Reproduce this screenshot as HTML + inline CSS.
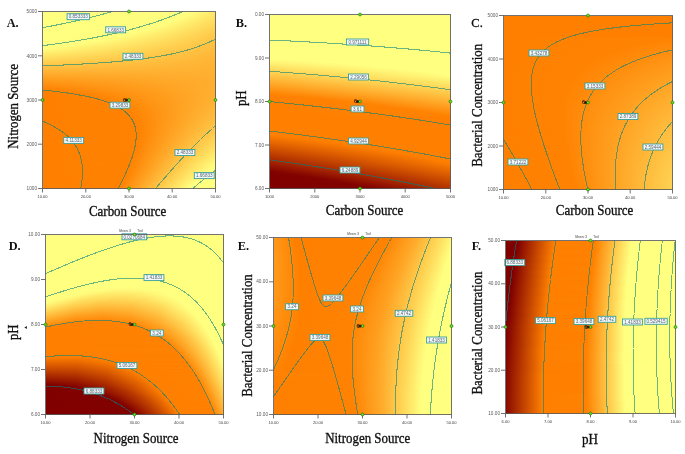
<!DOCTYPE html><html><head><meta charset="utf-8"><style>html,body{margin:0;padding:0;background:#fff;}body{width:685px;height:454px;position:relative;overflow:hidden;}.f{position:absolute;left:0;top:0;width:685px;height:454px;}.r{position:absolute;height:1px;}</style></head><body>
<div class="f"><div class="r" style="left:43px;top:12px;width:173px;background:linear-gradient(90deg,#ffff80 0.5px,#fffd7e 149.5px,#ffe868 172.5px)"></div><div class="r" style="left:43px;top:13px;width:173px;background:linear-gradient(90deg,#ffff80 0.5px,#fffd7e 147.5px,#ffe667 172.5px)"></div><div class="r" style="left:43px;top:14px;width:173px;background:linear-gradient(90deg,#ffff80 0.5px,#fffd7e 145.5px,#ffe465 172.5px)"></div><div class="r" style="left:43px;top:15px;width:173px;background:linear-gradient(90deg,#ffff80 0.5px,#fffd7e 143.5px,#ffe364 172.5px)"></div><div class="r" style="left:43px;top:16px;width:173px;background:linear-gradient(90deg,#ffff80 0.5px,#fffd7e 140.5px,#ffe162 172.5px)"></div><div class="r" style="left:43px;top:17px;width:173px;background:linear-gradient(90deg,#ffff80 0.5px,#fffd7e 138.5px,#ffe060 172.5px)"></div><div class="r" style="left:43px;top:18px;width:173px;background:linear-gradient(90deg,#ffff80 0.5px,#fffd7e 136.5px,#ffde5f 172.5px)"></div><div class="r" style="left:43px;top:19px;width:173px;background:linear-gradient(90deg,#ffff80 0.5px,#fffd7e 133.5px,#ffdd5d 172.5px)"></div><div class="r" style="left:43px;top:20px;width:173px;background:linear-gradient(90deg,#ffff80 0.5px,#fffd7d 131.5px,#ffdb5c 172.5px)"></div><div class="r" style="left:43px;top:21px;width:173px;background:linear-gradient(90deg,#ffff80 0.5px,#fffd7e 128.5px,#ffda5b 172.5px)"></div><div class="r" style="left:43px;top:22px;width:173px;background:linear-gradient(90deg,#ffff80 0.5px,#fffd7e 125.5px,#ffd859 172.5px)"></div><div class="r" style="left:43px;top:23px;width:173px;background:linear-gradient(90deg,#ffff80 0.5px,#fffc7d 123.5px,#ffd758 172.5px)"></div><div class="r" style="left:43px;top:24px;width:173px;background:linear-gradient(90deg,#ffff80 0.5px,#fffd7e 120.5px,#ffd656 172.5px)"></div><div class="r" style="left:43px;top:25px;width:173px;background:linear-gradient(90deg,#ffff80 0.5px,#fffd7e 117.5px,#ffd455 172.5px)"></div><div class="r" style="left:43px;top:26px;width:173px;background:linear-gradient(90deg,#ffff80 0.5px,#fffd7e 114.5px,#ffd354 172.5px)"></div><div class="r" style="left:43px;top:27px;width:173px;background:linear-gradient(90deg,#ffff80 0.5px,#fffd7e 111.5px,#ffd252 172.5px)"></div><div class="r" style="left:43px;top:28px;width:173px;background:linear-gradient(90deg,#ffff80 0.5px,#fffd7e 107.5px,#ffd051 172.5px)"></div><div class="r" style="left:43px;top:29px;width:173px;background:linear-gradient(90deg,#ffff80 0.5px,#fffd7e 104.5px,#ffcf50 172.5px)"></div><div class="r" style="left:43px;top:30px;width:173px;background:linear-gradient(90deg,#ffff80 0.5px,#fffd7d 101.5px,#ffce4e 172.5px)"></div><div class="r" style="left:43px;top:31px;width:173px;background:linear-gradient(90deg,#ffff80 0.5px,#fffd7e 97.5px,#ffcd4d 172.5px)"></div><div class="r" style="left:43px;top:32px;width:173px;background:linear-gradient(90deg,#ffff80 0.5px,#fffd7e 93.5px,#ffcb4c 172.5px)"></div><div class="r" style="left:43px;top:33px;width:173px;background:linear-gradient(90deg,#ffff80 0.5px,#fffc7d 90.5px,#ffca4b 172.5px)"></div><div class="r" style="left:43px;top:34px;width:173px;background:linear-gradient(90deg,#ffff80 0.5px,#fffd7e 85.5px,#ffc94a 172.5px)"></div><div class="r" style="left:43px;top:35px;width:173px;background:linear-gradient(90deg,#ffff80 0.5px,#fffd7e 81.5px,#ffc849 172.5px)"></div><div class="r" style="left:43px;top:36px;width:173px;background:linear-gradient(90deg,#ffff80 0.5px,#fffd7e 77.5px,#ffc748 172.5px)"></div><div class="r" style="left:43px;top:37px;width:173px;background:linear-gradient(90deg,#ffff80 0.5px,#fffd7e 72.5px,#ffc646 172.5px)"></div><div class="r" style="left:43px;top:38px;width:173px;background:linear-gradient(90deg,#ffff80 0.5px,#fffc7d 68.5px,#ffc545 172.5px)"></div><div class="r" style="left:43px;top:39px;width:173px;background:linear-gradient(90deg,#ffff80 0.5px,#fffc7d 63.5px,#ffc444 172.5px)"></div><div class="r" style="left:43px;top:40px;width:173px;background:linear-gradient(90deg,#ffff80 0.5px,#fffd7e 57.5px,#ffc343 172.5px)"></div><div class="r" style="left:43px;top:41px;width:173px;background:linear-gradient(90deg,#ffff80 0.5px,#fffc7d 52.5px,#ffc242 172.5px)"></div><div class="r" style="left:43px;top:42px;width:173px;background:linear-gradient(90deg,#ffff80 0.5px,#fffd7d 46.5px,#ffc141 172.5px)"></div><div class="r" style="left:43px;top:43px;width:173px;background:linear-gradient(90deg,#ffff80 0.5px,#fffc7d 40.5px,#ffc040 172.5px)"></div><div class="r" style="left:43px;top:44px;width:173px;background:linear-gradient(90deg,#ffff80 0.5px,#fffc7d 34.5px,#ffbf40 172.5px)"></div><div class="r" style="left:43px;top:45px;width:173px;background:linear-gradient(90deg,#ffff80 0.5px,#fffc7d 28.5px,#ffbe3f 172.5px)"></div><div class="r" style="left:43px;top:46px;width:173px;background:linear-gradient(90deg,#ffff80 0.5px,#fffb7c 23.5px,#ffbd3e 172.5px)"></div><div class="r" style="left:43px;top:47px;width:173px;background:linear-gradient(90deg,#ffff80 0.5px,#ffbd3d 172.5px)"></div><div class="r" style="left:43px;top:48px;width:173px;background:linear-gradient(90deg,#fffe7f 0.5px,#ffbc3c 172.5px)"></div><div class="r" style="left:43px;top:49px;width:173px;background:linear-gradient(90deg,#fffa7b 0.5px,#ffbb3b 172.5px)"></div><div class="r" style="left:43px;top:50px;width:173px;background:linear-gradient(90deg,#fff778 0.5px,#ffba3b 172.5px)"></div><div class="r" style="left:43px;top:51px;width:173px;background:linear-gradient(90deg,#fff374 0.5px,#ffb93a 172.5px)"></div><div class="r" style="left:43px;top:52px;width:173px;background:linear-gradient(90deg,#fff071 0.5px,#ffb939 172.5px)"></div><div class="r" style="left:43px;top:53px;width:173px;background:linear-gradient(90deg,#ffec6d 0.5px,#ffb838 172.5px)"></div><div class="r" style="left:43px;top:54px;width:173px;background:linear-gradient(90deg,#ffe96a 0.5px,#ffb738 172.5px)"></div><div class="r" style="left:43px;top:55px;width:173px;background:linear-gradient(90deg,#ffe666 0.5px,#ffb737 172.5px)"></div><div class="r" style="left:43px;top:56px;width:173px;background:linear-gradient(90deg,#ffe263 0.5px,#ffb636 172.5px)"></div><div class="r" style="left:43px;top:57px;width:173px;background:linear-gradient(90deg,#ffdf60 0.5px,#ffb536 172.5px)"></div><div class="r" style="left:43px;top:58px;width:173px;background:linear-gradient(90deg,#ffdc5c 0.5px,#ffb535 172.5px)"></div><div class="r" style="left:43px;top:59px;width:173px;background:linear-gradient(90deg,#ffd859 0.5px,#ffb435 172.5px)"></div><div class="r" style="left:43px;top:60px;width:173px;background:linear-gradient(90deg,#ffd556 0.5px,#ffb434 172.5px)"></div><div class="r" style="left:43px;top:61px;width:173px;background:linear-gradient(90deg,#ffd253 0.5px,#ffb334 172.5px)"></div><div class="r" style="left:43px;top:62px;width:173px;background:linear-gradient(90deg,#ffcf4f 0.5px,#ffb333 172.5px)"></div><div class="r" style="left:43px;top:63px;width:173px;background:linear-gradient(90deg,#ffcc4c 0.5px,#ffb233 172.5px)"></div><div class="r" style="left:43px;top:64px;width:173px;background:linear-gradient(90deg,#ffc849 0.5px,#ffb232 172.5px)"></div><div class="r" style="left:43px;top:65px;width:173px;background:linear-gradient(90deg,#ffc546 0.5px,#ffb232 172.5px)"></div><div class="r" style="left:43px;top:66px;width:173px;background:linear-gradient(90deg,#ffc243 0.5px,#ffb132 172.5px)"></div><div class="r" style="left:43px;top:67px;width:173px;background:linear-gradient(90deg,#ffbf40 0.5px,#ffb131 172.5px)"></div><div class="r" style="left:43px;top:68px;width:173px;background:linear-gradient(90deg,#ffbc3d 0.5px,#ffb031 172.5px)"></div><div class="r" style="left:43px;top:69px;width:173px;background:linear-gradient(90deg,#ffb93a 0.5px,#ffb030 172.5px)"></div><div class="r" style="left:43px;top:70px;width:173px;background:linear-gradient(90deg,#ffb637 0.5px,#ffb030 172.5px)"></div><div class="r" style="left:43px;top:71px;width:173px;background:linear-gradient(90deg,#ffb334 0.5px,#ffb030 172.5px)"></div><div class="r" style="left:43px;top:72px;width:173px;background:#ffb031"></div><div class="r" style="left:43px;top:73px;width:173px;background:linear-gradient(90deg,#ffad2e 0.5px,#ffaf2f 172.5px)"></div><div class="r" style="left:43px;top:74px;width:173px;background:linear-gradient(90deg,#ffaa2b 0.5px,#ffaf2f 172.5px)"></div><div class="r" style="left:43px;top:75px;width:173px;background:linear-gradient(90deg,#ffa728 0.5px,#ffaf2f 172.5px)"></div><div class="r" style="left:43px;top:76px;width:173px;background:linear-gradient(90deg,#ffa525 0.5px,#ffaf2f 172.5px)"></div><div class="r" style="left:43px;top:77px;width:173px;background:linear-gradient(90deg,#ffa222 0.5px,#ffae2f 172.5px)"></div><div class="r" style="left:43px;top:78px;width:173px;background:linear-gradient(90deg,#ff9f1f 0.5px,#ffae2f 172.5px)"></div><div class="r" style="left:43px;top:79px;width:173px;background:linear-gradient(90deg,#ff9c1c 0.5px,#ffae2f 172.5px)"></div><div class="r" style="left:43px;top:80px;width:173px;background:linear-gradient(90deg,#ff991a 0.5px,#ffae2f 172.5px)"></div><div class="r" style="left:43px;top:81px;width:173px;background:linear-gradient(90deg,#ff9717 0.5px,#ffae2f 172.5px)"></div><div class="r" style="left:43px;top:82px;width:173px;background:linear-gradient(90deg,#ff9414 0.5px,#ffae2e 172.5px)"></div><div class="r" style="left:43px;top:83px;width:173px;background:linear-gradient(90deg,#ff9111 0.5px,#ffae2f 172.5px)"></div><div class="r" style="left:43px;top:84px;width:173px;background:linear-gradient(90deg,#ff8f0f 0.5px,#ffae2f 172.5px)"></div><div class="r" style="left:43px;top:85px;width:173px;background:linear-gradient(90deg,#ff8c0c 0.5px,#ffae2f 172.5px)"></div><div class="r" style="left:43px;top:86px;width:173px;background:linear-gradient(90deg,#ff8909 0.5px,#ffae2f 172.5px)"></div><div class="r" style="left:43px;top:87px;width:173px;background:linear-gradient(90deg,#ff8707 0.5px,#ffae2f 172.5px)"></div><div class="r" style="left:43px;top:88px;width:173px;background:linear-gradient(90deg,#ff8404 0.5px,#ffaf2f 172.5px)"></div><div class="r" style="left:43px;top:89px;width:173px;background:linear-gradient(90deg,#ff8202 0.5px,#ffaf2f 172.5px)"></div><div class="r" style="left:43px;top:90px;width:173px;background:linear-gradient(90deg,#ff8000 0.5px,#ffaf2f 172.5px)"></div><div class="r" style="left:43px;top:91px;width:173px;background:linear-gradient(90deg,#ff8000 0.5px,#ff8909 44.5px,#ffaf2f 172.5px)"></div><div class="r" style="left:43px;top:92px;width:173px;background:linear-gradient(90deg,#ff8000 0.5px,#ff8404 34.5px,#ffaf30 172.5px)"></div><div class="r" style="left:43px;top:93px;width:173px;background:linear-gradient(90deg,#ff8000 0.5px,#ff8304 38.5px,#ffb030 172.5px)"></div><div class="r" style="left:43px;top:94px;width:173px;background:linear-gradient(90deg,#ff8000 0.5px,#ff8303 42.5px,#ffb030 172.5px)"></div><div class="r" style="left:43px;top:95px;width:173px;background:linear-gradient(90deg,#ff8000 0.5px,#ff8303 47.5px,#ffb030 172.5px)"></div><div class="r" style="left:43px;top:96px;width:173px;background:linear-gradient(90deg,#ff8000 0.5px,#ff8303 51.5px,#ffb031 172.5px)"></div><div class="r" style="left:43px;top:97px;width:173px;background:linear-gradient(90deg,#ff8000 0.5px,#ff8303 55.5px,#ffb131 172.5px)"></div><div class="r" style="left:43px;top:98px;width:173px;background:linear-gradient(90deg,#ff8000 0.5px,#ff8303 59.5px,#ffb132 172.5px)"></div><div class="r" style="left:43px;top:99px;width:173px;background:linear-gradient(90deg,#ff8000 0.5px,#ff8303 62.5px,#ffb232 172.5px)"></div><div class="r" style="left:43px;top:100px;width:173px;background:linear-gradient(90deg,#ff8000 0.5px,#ff8303 65.5px,#ffb232 172.5px)"></div><div class="r" style="left:43px;top:101px;width:173px;background:linear-gradient(90deg,#ff8000 0.5px,#ff8202 67.5px,#ffb233 172.5px)"></div><div class="r" style="left:43px;top:102px;width:173px;background:linear-gradient(90deg,#ff8000 0.5px,#ff8303 70.5px,#ffb333 172.5px)"></div><div class="r" style="left:43px;top:103px;width:173px;background:linear-gradient(90deg,#ff8000 0.5px,#ff8202 72.5px,#ffb334 172.5px)"></div><div class="r" style="left:43px;top:104px;width:173px;background:linear-gradient(90deg,#ff8000 0.5px,#ff8202 74.5px,#ffb434 172.5px)"></div><div class="r" style="left:43px;top:105px;width:173px;background:linear-gradient(90deg,#ff8000 0.5px,#ff8202 76.5px,#ffb435 172.5px)"></div><div class="r" style="left:43px;top:106px;width:173px;background:linear-gradient(90deg,#ff8000 0.5px,#ff8202 78.5px,#ffb535 172.5px)"></div><div class="r" style="left:43px;top:107px;width:173px;background:linear-gradient(90deg,#ff8000 0.5px,#ff8303 80.5px,#ffb536 172.5px)"></div><div class="r" style="left:43px;top:108px;width:173px;background:linear-gradient(90deg,#ff8000 0.5px,#ff8202 81.5px,#ffb636 172.5px)"></div><div class="r" style="left:43px;top:109px;width:173px;background:linear-gradient(90deg,#ff8000 0.5px,#ff8303 83.5px,#ffb737 172.5px)"></div><div class="r" style="left:43px;top:110px;width:173px;background:linear-gradient(90deg,#ff8000 0.5px,#ff8202 84.5px,#ffb738 172.5px)"></div><div class="r" style="left:43px;top:111px;width:173px;background:linear-gradient(90deg,#ff8000 0.5px,#ff8202 85.5px,#ffb838 172.5px)"></div><div class="r" style="left:43px;top:112px;width:173px;background:linear-gradient(90deg,#ff8000 0.5px,#ff8202 86.5px,#ffb939 172.5px)"></div><div class="r" style="left:43px;top:113px;width:173px;background:linear-gradient(90deg,#ff8000 0.5px,#ff8202 87.5px,#ffb93a 172.5px)"></div><div class="r" style="left:43px;top:114px;width:173px;background:linear-gradient(90deg,#ff8000 0.5px,#ff8202 88.5px,#ffba3b 172.5px)"></div><div class="r" style="left:43px;top:115px;width:173px;background:linear-gradient(90deg,#ff8000 0.5px,#ff8202 89.5px,#ffbb3b 172.5px)"></div><div class="r" style="left:43px;top:116px;width:173px;background:linear-gradient(90deg,#ff8000 0.5px,#ff8202 89.5px,#ffbc3c 172.5px)"></div><div class="r" style="left:43px;top:117px;width:173px;background:linear-gradient(90deg,#ff8000 0.5px,#ff8202 90.5px,#ffbc3d 172.5px)"></div><div class="r" style="left:43px;top:118px;width:173px;background:linear-gradient(90deg,#ff8000 0.5px,#ff8202 91.5px,#ffbd3e 172.5px)"></div><div class="r" style="left:43px;top:119px;width:173px;background:linear-gradient(90deg,#ff8000 0.5px,#ff8202 91.5px,#ffbe3f 172.5px)"></div><div class="r" style="left:43px;top:120px;width:173px;background:linear-gradient(90deg,#ff8000 0.5px,#ff8202 92.5px,#ffbf40 172.5px)"></div><div class="r" style="left:43px;top:121px;width:173px;background:linear-gradient(90deg,#ff8000 0.5px,#ff8202 92.5px,#ffc040 172.5px)"></div><div class="r" style="left:43px;top:122px;width:173px;background:linear-gradient(90deg,#ff8000 0.5px,#ff8202 93.5px,#ffc141 172.5px)"></div><div class="r" style="left:43px;top:123px;width:173px;background:linear-gradient(90deg,#ff8000 0.5px,#ff8202 93.5px,#ffc242 172.5px)"></div><div class="r" style="left:43px;top:124px;width:173px;background:linear-gradient(90deg,#ff8000 0.5px,#ff8202 93.5px,#ffc343 172.5px)"></div><div class="r" style="left:43px;top:125px;width:173px;background:linear-gradient(90deg,#ff8000 0.5px,#ff8202 94.5px,#ffc444 172.5px)"></div><div class="r" style="left:43px;top:126px;width:173px;background:linear-gradient(90deg,#ff8000 0.5px,#ff8202 94.5px,#ffc545 172.5px)"></div><div class="r" style="left:43px;top:127px;width:173px;background:linear-gradient(90deg,#ff8000 0.5px,#ff8202 94.5px,#ffc646 172.5px)"></div><div class="r" style="left:43px;top:128px;width:173px;background:linear-gradient(90deg,#ff8000 0.5px,#ff8202 94.5px,#ffc748 172.5px)"></div><div class="r" style="left:43px;top:129px;width:173px;background:linear-gradient(90deg,#ff8000 0.5px,#ff8202 94.5px,#ffc849 172.5px)"></div><div class="r" style="left:43px;top:130px;width:173px;background:linear-gradient(90deg,#ff8000 0.5px,#ff8202 94.5px,#ffc94a 172.5px)"></div><div class="r" style="left:43px;top:131px;width:173px;background:linear-gradient(90deg,#ff8000 0.5px,#ff8303 95.5px,#ffca4b 172.5px)"></div><div class="r" style="left:43px;top:132px;width:173px;background:linear-gradient(90deg,#ff8000 0.5px,#ff8202 95.5px,#ffcb4c 172.5px)"></div><div class="r" style="left:43px;top:133px;width:173px;background:linear-gradient(90deg,#ff8000 0.5px,#ff8202 95.5px,#ffcd4d 172.5px)"></div><div class="r" style="left:43px;top:134px;width:173px;background:linear-gradient(90deg,#ff8000 0.5px,#ff8202 95.5px,#ffce4e 172.5px)"></div><div class="r" style="left:43px;top:135px;width:173px;background:linear-gradient(90deg,#ff8000 0.5px,#ff8202 95.5px,#ffcf50 172.5px)"></div><div class="r" style="left:43px;top:136px;width:173px;background:linear-gradient(90deg,#ff8000 0.5px,#ff8203 95.5px,#ffd051 172.5px)"></div><div class="r" style="left:43px;top:137px;width:173px;background:linear-gradient(90deg,#ff8000 0.5px,#ff8202 94.5px,#ffd252 172.5px)"></div><div class="r" style="left:43px;top:138px;width:173px;background:linear-gradient(90deg,#ff8000 0.5px,#ff8202 94.5px,#ffd354 172.5px)"></div><div class="r" style="left:43px;top:139px;width:173px;background:linear-gradient(90deg,#ff8000 0.5px,#ff8202 94.5px,#ffd455 172.5px)"></div><div class="r" style="left:43px;top:140px;width:173px;background:linear-gradient(90deg,#ff8000 0.5px,#ff8202 94.5px,#ffd656 172.5px)"></div><div class="r" style="left:43px;top:141px;width:173px;background:linear-gradient(90deg,#ff8000 0.5px,#ff8202 94.5px,#ffd758 172.5px)"></div><div class="r" style="left:43px;top:142px;width:173px;background:linear-gradient(90deg,#ff8000 0.5px,#ff8202 94.5px,#ffd859 172.5px)"></div><div class="r" style="left:43px;top:143px;width:173px;background:linear-gradient(90deg,#ff8000 0.5px,#ff8202 94.5px,#ffda5a 172.5px)"></div><div class="r" style="left:43px;top:144px;width:173px;background:linear-gradient(90deg,#ff8000 0.5px,#ff8303 94.5px,#ffdb5c 172.5px)"></div><div class="r" style="left:43px;top:145px;width:173px;background:linear-gradient(90deg,#ff8000 0.5px,#ff8202 93.5px,#ffdd5d 172.5px)"></div><div class="r" style="left:43px;top:146px;width:173px;background:linear-gradient(90deg,#ff8000 0.5px,#ff8202 93.5px,#ffde5f 172.5px)"></div><div class="r" style="left:43px;top:147px;width:173px;background:linear-gradient(90deg,#ff8000 0.5px,#ff8202 93.5px,#ffe060 172.5px)"></div><div class="r" style="left:43px;top:148px;width:173px;background:linear-gradient(90deg,#ff8000 0.5px,#ff8202 93.5px,#ffe162 172.5px)"></div><div class="r" style="left:43px;top:149px;width:173px;background:linear-gradient(90deg,#ff8000 0.5px,#ff8202 92.5px,#ffe364 172.5px)"></div><div class="r" style="left:43px;top:150px;width:173px;background:linear-gradient(90deg,#ff8000 0.5px,#ff8202 92.5px,#ffe465 172.5px)"></div><div class="r" style="left:43px;top:151px;width:173px;background:linear-gradient(90deg,#ff8000 0.5px,#ff8202 92.5px,#ffe667 172.5px)"></div><div class="r" style="left:43px;top:152px;width:173px;background:linear-gradient(90deg,#ff8000 0.5px,#ff8101 91.5px,#ffe868 172.5px)"></div><div class="r" style="left:43px;top:153px;width:173px;background:linear-gradient(90deg,#ff8000 0.5px,#ff8202 91.5px,#ffe96a 172.5px)"></div><div class="r" style="left:43px;top:154px;width:173px;background:linear-gradient(90deg,#ff8000 0.5px,#ff8202 91.5px,#ffeb6c 172.5px)"></div><div class="r" style="left:43px;top:155px;width:173px;background:linear-gradient(90deg,#ff8000 0.5px,#ff8101 90.5px,#ffed6d 172.5px)"></div><div class="r" style="left:43px;top:156px;width:173px;background:linear-gradient(90deg,#ff8000 0.5px,#ff8202 90.5px,#ffee6f 172.5px)"></div><div class="r" style="left:43px;top:157px;width:173px;background:linear-gradient(90deg,#ff8000 0.5px,#ff8202 90.5px,#fff071 172.5px)"></div><div class="r" style="left:43px;top:158px;width:173px;background:linear-gradient(90deg,#ff8000 0.5px,#ff8101 89.5px,#fff273 172.5px)"></div><div class="r" style="left:43px;top:159px;width:173px;background:linear-gradient(90deg,#ff8000 0.5px,#ff8202 89.5px,#fff475 172.5px)"></div><div class="r" style="left:43px;top:160px;width:173px;background:linear-gradient(90deg,#ff8000 0.5px,#ff8202 89.5px,#fff576 172.5px)"></div><div class="r" style="left:43px;top:161px;width:173px;background:linear-gradient(90deg,#ff8000 0.5px,#ff8101 88.5px,#fff778 172.5px)"></div><div class="r" style="left:43px;top:162px;width:173px;background:linear-gradient(90deg,#ff8000 0.5px,#ff8202 88.5px,#fff97a 172.5px)"></div><div class="r" style="left:43px;top:163px;width:173px;background:linear-gradient(90deg,#ff8000 0.5px,#ff8303 88.5px,#fffb7c 172.5px)"></div><div class="r" style="left:43px;top:164px;width:173px;background:linear-gradient(90deg,#ff8000 0.5px,#ff8202 87.5px,#fffd7e 172.5px)"></div><div class="r" style="left:43px;top:165px;width:173px;background:linear-gradient(90deg,#ff8000 0.5px,#ff8202 87.5px,#ffff80 172.5px)"></div><div class="r" style="left:43px;top:166px;width:173px;background:linear-gradient(90deg,#ff8000 0.5px,#ff8101 86.5px,#ffff80 172.5px)"></div><div class="r" style="left:43px;top:167px;width:173px;background:linear-gradient(90deg,#ff8000 0.5px,#ff8202 86.5px,#ffff80 171.5px,#ffff80 172.5px)"></div><div class="r" style="left:43px;top:168px;width:173px;background:linear-gradient(90deg,#ff8000 0.5px,#ff8101 85.5px,#ffff80 169.5px,#ffff80 172.5px)"></div><div class="r" style="left:43px;top:169px;width:173px;background:linear-gradient(90deg,#ff8000 0.5px,#ff8202 85.5px,#ffff80 168.5px,#ffff80 172.5px)"></div><div class="r" style="left:43px;top:170px;width:173px;background:linear-gradient(90deg,#ff8000 0.5px,#ff8101 84.5px,#ffff80 167.5px,#ffff80 172.5px)"></div><div class="r" style="left:43px;top:171px;width:173px;background:linear-gradient(90deg,#ff8000 0.5px,#ff8202 84.5px,#ffff80 165.5px,#ffff80 172.5px)"></div><div class="r" style="left:43px;top:172px;width:173px;background:linear-gradient(90deg,#ff8000 0.5px,#ff8202 84.5px,#ffff80 164.5px,#ffff80 172.5px)"></div><div class="r" style="left:43px;top:173px;width:173px;background:linear-gradient(90deg,#ff8000 0.5px,#ff8202 83.5px,#ffff80 163.5px,#ffff80 172.5px)"></div><div class="r" style="left:43px;top:174px;width:173px;background:linear-gradient(90deg,#ff8000 0.5px,#ff8202 83.5px,#ffff80 162.5px,#ffff80 172.5px)"></div><div class="r" style="left:43px;top:175px;width:173px;background:linear-gradient(90deg,#ff8000 0.5px,#ff8101 82.5px,#ffff80 160.5px,#ffff80 172.5px)"></div><div class="r" style="left:43px;top:176px;width:173px;background:linear-gradient(90deg,#ff8000 0.5px,#ff8202 82.5px,#ffff80 159.5px,#ffff80 172.5px)"></div><div class="r" style="left:43px;top:177px;width:173px;background:linear-gradient(90deg,#ff8000 0.5px,#ff8101 81.5px,#ffff80 158.5px,#ffff80 172.5px)"></div><div class="r" style="left:43px;top:178px;width:173px;background:linear-gradient(90deg,#ff8000 0.5px,#ff8202 81.5px,#ffff80 157.5px,#ffff80 172.5px)"></div><div class="r" style="left:43px;top:179px;width:173px;background:linear-gradient(90deg,#ff8000 0.5px,#ff8101 80.5px,#ffff80 156.5px,#ffff80 172.5px)"></div><div class="r" style="left:43px;top:180px;width:173px;background:linear-gradient(90deg,#ff8000 0.5px,#ff8202 80.5px,#ffff80 154.5px,#ffff80 172.5px)"></div><div class="r" style="left:43px;top:181px;width:173px;background:linear-gradient(90deg,#ff8000 0.5px,#ff8101 79.5px,#ffff80 153.5px,#ffff80 172.5px)"></div><div class="r" style="left:43px;top:182px;width:173px;background:linear-gradient(90deg,#ff8000 0.5px,#ff8202 79.5px,#ffff80 152.5px,#ffff80 172.5px)"></div><div class="r" style="left:43px;top:183px;width:173px;background:linear-gradient(90deg,#ff8000 0.5px,#ff8101 78.5px,#ffff80 151.5px,#ffff80 172.5px)"></div><div class="r" style="left:43px;top:184px;width:173px;background:linear-gradient(90deg,#ff8000 0.5px,#ff8202 78.5px,#ffff80 150.5px,#ffff80 172.5px)"></div><div class="r" style="left:43px;top:185px;width:173px;background:linear-gradient(90deg,#ff8000 0.5px,#ff8101 77.5px,#ffff80 149.5px,#ffff80 172.5px)"></div><div class="r" style="left:43px;top:186px;width:173px;background:linear-gradient(90deg,#ff8000 0.5px,#ff8202 77.5px,#ffff80 147.5px,#ffff80 172.5px)"></div><div class="r" style="left:43px;top:187px;width:173px;background:linear-gradient(90deg,#ff8000 0.5px,#ff8202 76.5px,#ffff80 146.5px,#ffff80 172.5px)"></div><div class="r" style="left:43px;top:188px;width:173px;background:linear-gradient(90deg,#ff8000 0.5px,#ff8203 76.5px,#ffff80 145.5px,#ffff80 172.5px)"></div><div class="r" style="left:270px;top:15px;width:181px;background:#ffff80"></div><div class="r" style="left:270px;top:16px;width:181px;background:#ffff80"></div><div class="r" style="left:270px;top:17px;width:181px;background:#ffff80"></div><div class="r" style="left:270px;top:18px;width:181px;background:#ffff80"></div><div class="r" style="left:270px;top:19px;width:181px;background:#ffff80"></div><div class="r" style="left:270px;top:20px;width:181px;background:#ffff80"></div><div class="r" style="left:270px;top:21px;width:181px;background:#ffff80"></div><div class="r" style="left:270px;top:22px;width:181px;background:#ffff80"></div><div class="r" style="left:270px;top:23px;width:181px;background:#ffff80"></div><div class="r" style="left:270px;top:24px;width:181px;background:#ffff80"></div><div class="r" style="left:270px;top:25px;width:181px;background:#ffff80"></div><div class="r" style="left:270px;top:26px;width:181px;background:#ffff80"></div><div class="r" style="left:270px;top:27px;width:181px;background:#ffff80"></div><div class="r" style="left:270px;top:28px;width:181px;background:#ffff80"></div><div class="r" style="left:270px;top:29px;width:181px;background:#ffff80"></div><div class="r" style="left:270px;top:30px;width:181px;background:#ffff80"></div><div class="r" style="left:270px;top:31px;width:181px;background:#ffff80"></div><div class="r" style="left:270px;top:32px;width:181px;background:#ffff80"></div><div class="r" style="left:270px;top:33px;width:181px;background:#ffff80"></div><div class="r" style="left:270px;top:34px;width:181px;background:#ffff80"></div><div class="r" style="left:270px;top:35px;width:181px;background:#ffff80"></div><div class="r" style="left:270px;top:36px;width:181px;background:#ffff80"></div><div class="r" style="left:270px;top:37px;width:181px;background:#ffff80"></div><div class="r" style="left:270px;top:38px;width:181px;background:#ffff80"></div><div class="r" style="left:270px;top:39px;width:181px;background:#ffff80"></div><div class="r" style="left:270px;top:40px;width:181px;background:#ffff80"></div><div class="r" style="left:270px;top:41px;width:181px;background:#ffff80"></div><div class="r" style="left:270px;top:42px;width:181px;background:#ffff80"></div><div class="r" style="left:270px;top:43px;width:181px;background:#ffff80"></div><div class="r" style="left:270px;top:44px;width:181px;background:#ffff80"></div><div class="r" style="left:270px;top:45px;width:181px;background:#ffff80"></div><div class="r" style="left:270px;top:46px;width:181px;background:#ffff80"></div><div class="r" style="left:270px;top:47px;width:181px;background:#ffff80"></div><div class="r" style="left:270px;top:48px;width:181px;background:#ffff80"></div><div class="r" style="left:270px;top:49px;width:181px;background:#ffff80"></div><div class="r" style="left:270px;top:50px;width:181px;background:#ffff80"></div><div class="r" style="left:270px;top:51px;width:181px;background:#ffff80"></div><div class="r" style="left:270px;top:52px;width:181px;background:#ffff80"></div><div class="r" style="left:270px;top:53px;width:181px;background:#ffff80"></div><div class="r" style="left:270px;top:54px;width:181px;background:#ffff80"></div><div class="r" style="left:270px;top:55px;width:181px;background:#ffff80"></div><div class="r" style="left:270px;top:56px;width:181px;background:#ffff80"></div><div class="r" style="left:270px;top:57px;width:181px;background:#ffff80"></div><div class="r" style="left:270px;top:58px;width:181px;background:#ffff80"></div><div class="r" style="left:270px;top:59px;width:181px;background:#fffe7f"></div><div class="r" style="left:270px;top:60px;width:181px;background:linear-gradient(90deg,#fffb7c 0.5px,#ffff80 46.5px,#ffff80 180.5px)"></div><div class="r" style="left:270px;top:61px;width:181px;background:linear-gradient(90deg,#fff778 0.5px,#ffff80 48.5px,#ffff80 180.5px)"></div><div class="r" style="left:270px;top:62px;width:181px;background:linear-gradient(90deg,#fff475 0.5px,#ffff80 60.5px,#ffff80 180.5px)"></div><div class="r" style="left:270px;top:63px;width:181px;background:linear-gradient(90deg,#fff071 0.5px,#ffff80 72.5px,#ffff80 180.5px)"></div><div class="r" style="left:270px;top:64px;width:181px;background:linear-gradient(90deg,#ffed6d 0.5px,#ffff80 83.5px,#ffff80 180.5px)"></div><div class="r" style="left:270px;top:65px;width:181px;background:linear-gradient(90deg,#ffe96a 0.5px,#ffff80 94.5px,#ffff80 180.5px)"></div><div class="r" style="left:270px;top:66px;width:181px;background:linear-gradient(90deg,#ffe566 0.5px,#ffff80 105.5px,#ffff80 180.5px)"></div><div class="r" style="left:270px;top:67px;width:181px;background:linear-gradient(90deg,#ffe263 0.5px,#ffff80 115.5px,#ffff80 180.5px)"></div><div class="r" style="left:270px;top:68px;width:181px;background:linear-gradient(90deg,#ffde5f 0.5px,#ffff80 125.5px,#ffff80 180.5px)"></div><div class="r" style="left:270px;top:69px;width:181px;background:linear-gradient(90deg,#ffdb5c 0.5px,#ffff80 135.5px,#ffff80 180.5px)"></div><div class="r" style="left:270px;top:70px;width:181px;background:linear-gradient(90deg,#ffd758 0.5px,#ffff80 144.5px,#ffff80 180.5px)"></div><div class="r" style="left:270px;top:71px;width:181px;background:linear-gradient(90deg,#ffd454 0.5px,#ffff80 153.5px,#ffff80 180.5px)"></div><div class="r" style="left:270px;top:72px;width:181px;background:linear-gradient(90deg,#ffd051 0.5px,#ffff80 161.5px,#ffff80 180.5px)"></div><div class="r" style="left:270px;top:73px;width:181px;background:linear-gradient(90deg,#ffcc4d 0.5px,#ffff80 170.5px,#ffff80 180.5px)"></div><div class="r" style="left:270px;top:74px;width:181px;background:linear-gradient(90deg,#ffc949 0.5px,#ffff80 178.5px,#ffff80 180.5px)"></div><div class="r" style="left:270px;top:75px;width:181px;background:linear-gradient(90deg,#ffc546 0.5px,#fffe7f 176.5px,#ffff80 180.5px)"></div><div class="r" style="left:270px;top:76px;width:181px;background:linear-gradient(90deg,#ffc242 0.5px,#fffb7c 176.5px,#fffd7e 180.5px)"></div><div class="r" style="left:270px;top:77px;width:181px;background:linear-gradient(90deg,#ffbe3f 0.5px,#fff879 176.5px,#fffa7b 180.5px)"></div><div class="r" style="left:270px;top:78px;width:181px;background:linear-gradient(90deg,#ffba3b 0.5px,#fff576 176.5px,#fff778 180.5px)"></div><div class="r" style="left:270px;top:79px;width:181px;background:linear-gradient(90deg,#ffb737 0.5px,#fff273 176.5px,#fff475 180.5px)"></div><div class="r" style="left:270px;top:80px;width:181px;background:linear-gradient(90deg,#ffb334 0.5px,#ffef70 176.5px,#fff172 180.5px)"></div><div class="r" style="left:270px;top:81px;width:181px;background:linear-gradient(90deg,#ffb030 0.5px,#ffec6d 176.5px,#ffee6e 180.5px)"></div><div class="r" style="left:270px;top:82px;width:181px;background:linear-gradient(90deg,#ffac2c 0.5px,#ffe96a 176.5px,#ffeb6b 180.5px)"></div><div class="r" style="left:270px;top:83px;width:181px;background:linear-gradient(90deg,#ffa829 0.5px,#ffe667 176.5px,#ffe868 180.5px)"></div><div class="r" style="left:270px;top:84px;width:181px;background:linear-gradient(90deg,#ffa525 0.5px,#ffe364 176.5px,#ffe465 180.5px)"></div><div class="r" style="left:270px;top:85px;width:181px;background:linear-gradient(90deg,#ffa121 0.5px,#ffe061 176.5px,#ffe162 180.5px)"></div><div class="r" style="left:270px;top:86px;width:181px;background:linear-gradient(90deg,#ff9e1e 0.5px,#ffdd5d 176.5px,#ffde5f 180.5px)"></div><div class="r" style="left:270px;top:87px;width:181px;background:linear-gradient(90deg,#ff9a1a 0.5px,#ffda5a 176.5px,#ffdb5c 180.5px)"></div><div class="r" style="left:270px;top:88px;width:181px;background:linear-gradient(90deg,#ff9616 0.5px,#ffd757 176.5px,#ffd859 180.5px)"></div><div class="r" style="left:270px;top:89px;width:181px;background:linear-gradient(90deg,#ff9313 0.5px,#ffd354 176.5px,#ffd556 180.5px)"></div><div class="r" style="left:270px;top:90px;width:181px;background:linear-gradient(90deg,#ff8f0f 0.5px,#ffd051 176.5px,#ffd253 180.5px)"></div><div class="r" style="left:270px;top:91px;width:181px;background:linear-gradient(90deg,#ff8b0b 0.5px,#ffcd4e 176.5px,#ffcf50 180.5px)"></div><div class="r" style="left:270px;top:92px;width:181px;background:linear-gradient(90deg,#ff8808 0.5px,#ffca4b 176.5px,#ffcc4d 180.5px)"></div><div class="r" style="left:270px;top:93px;width:181px;background:linear-gradient(90deg,#ff8404 0.5px,#ffc748 176.5px,#ffc949 180.5px)"></div><div class="r" style="left:270px;top:94px;width:181px;background:linear-gradient(90deg,#ff8000 0.5px,#ffc445 176.5px,#ffc646 180.5px)"></div><div class="r" style="left:270px;top:95px;width:181px;background:linear-gradient(90deg,#ff8000 0.5px,#ff8909 36.5px,#ffc343 180.5px)"></div><div class="r" style="left:270px;top:96px;width:181px;background:linear-gradient(90deg,#ff8000 0.5px,#ff8404 31.5px,#ffc040 180.5px)"></div><div class="r" style="left:270px;top:97px;width:181px;background:linear-gradient(90deg,#ff8000 0.5px,#ff8303 39.5px,#ffbd3d 180.5px)"></div><div class="r" style="left:270px;top:98px;width:181px;background:linear-gradient(90deg,#ff8000 0.5px,#ff8303 48.5px,#ffb93a 180.5px)"></div><div class="r" style="left:270px;top:99px;width:181px;background:linear-gradient(90deg,#ff8000 0.5px,#ff8303 57.5px,#ffb637 180.5px)"></div><div class="r" style="left:270px;top:100px;width:181px;background:linear-gradient(90deg,#ff8000 0.5px,#ff8303 66.5px,#ffb334 180.5px)"></div><div class="r" style="left:270px;top:101px;width:181px;background:linear-gradient(90deg,#ff8000 0.5px,#ff8202 74.5px,#ffb031 180.5px)"></div><div class="r" style="left:270px;top:102px;width:181px;background:linear-gradient(90deg,#ff8000 0.5px,#ff8303 83.5px,#ffad2d 180.5px)"></div><div class="r" style="left:270px;top:103px;width:181px;background:linear-gradient(90deg,#ff8000 0.5px,#ff8202 91.5px,#ffaa2a 180.5px)"></div><div class="r" style="left:270px;top:104px;width:181px;background:linear-gradient(90deg,#ff8000 0.5px,#ff8202 99.5px,#ffa727 180.5px)"></div><div class="r" style="left:270px;top:105px;width:181px;background:linear-gradient(90deg,#ff8000 0.5px,#ff8202 107.5px,#ffa424 180.5px)"></div><div class="r" style="left:270px;top:106px;width:181px;background:linear-gradient(90deg,#ff8000 0.5px,#ff8303 115.5px,#ffa121 180.5px)"></div><div class="r" style="left:270px;top:107px;width:181px;background:linear-gradient(90deg,#ff8000 0.5px,#ff8202 122.5px,#ff9d1e 180.5px)"></div><div class="r" style="left:270px;top:108px;width:181px;background:linear-gradient(90deg,#ff8000 0.5px,#ff8202 129.5px,#ff9a1b 180.5px)"></div><div class="r" style="left:270px;top:109px;width:181px;background:linear-gradient(90deg,#ff8000 0.5px,#ff8202 136.5px,#ff9717 180.5px)"></div><div class="r" style="left:270px;top:110px;width:181px;background:linear-gradient(90deg,#ff8000 0.5px,#ff8202 143.5px,#ff9414 180.5px)"></div><div class="r" style="left:270px;top:111px;width:181px;background:linear-gradient(90deg,#ff8000 0.5px,#ff8202 150.5px,#ff9111 180.5px)"></div><div class="r" style="left:270px;top:112px;width:181px;background:linear-gradient(90deg,#ff8000 0.5px,#ff8202 157.5px,#ff8e0e 180.5px)"></div><div class="r" style="left:270px;top:113px;width:181px;background:linear-gradient(90deg,#ff8000 0.5px,#ff8202 163.5px,#ff8b0b 180.5px)"></div><div class="r" style="left:270px;top:114px;width:181px;background:linear-gradient(90deg,#ff8000 0.5px,#ff8202 170.5px,#ff8708 180.5px)"></div><div class="r" style="left:270px;top:115px;width:181px;background:linear-gradient(90deg,#ff8000 0.5px,#ff8202 176.5px,#ff8404 180.5px)"></div><div class="r" style="left:270px;top:116px;width:181px;background:linear-gradient(90deg,#ff8000 0.5px,#ff8101 180.5px)"></div><div class="r" style="left:270px;top:117px;width:181px;background:#ff8000"></div><div class="r" style="left:270px;top:118px;width:181px;background:#ff8000"></div><div class="r" style="left:270px;top:119px;width:181px;background:#ff8000"></div><div class="r" style="left:270px;top:120px;width:181px;background:#ff8000"></div><div class="r" style="left:270px;top:121px;width:181px;background:#ff8000"></div><div class="r" style="left:270px;top:122px;width:181px;background:#ff8000"></div><div class="r" style="left:270px;top:123px;width:181px;background:#ff8000"></div><div class="r" style="left:270px;top:124px;width:181px;background:#ff8000"></div><div class="r" style="left:270px;top:125px;width:181px;background:#ff8000"></div><div class="r" style="left:270px;top:126px;width:181px;background:#ff8000"></div><div class="r" style="left:270px;top:127px;width:181px;background:#ff8000"></div><div class="r" style="left:270px;top:128px;width:181px;background:#ff8000"></div><div class="r" style="left:270px;top:129px;width:181px;background:#ff8000"></div><div class="r" style="left:270px;top:130px;width:181px;background:#ff8000"></div><div class="r" style="left:270px;top:131px;width:181px;background:#ff8000"></div><div class="r" style="left:270px;top:132px;width:181px;background:#ff8000"></div><div class="r" style="left:270px;top:133px;width:181px;background:#ff8000"></div><div class="r" style="left:270px;top:134px;width:181px;background:#ff8000"></div><div class="r" style="left:270px;top:135px;width:181px;background:linear-gradient(90deg,#fd7e00 0.5px,#ff8000 180.5px)"></div><div class="r" style="left:270px;top:136px;width:181px;background:linear-gradient(90deg,#fa7b00 0.5px,#ff8000 24.5px,#ff8000 180.5px)"></div><div class="r" style="left:270px;top:137px;width:181px;background:linear-gradient(90deg,#f67700 0.5px,#ff8000 29.5px,#ff8000 180.5px)"></div><div class="r" style="left:270px;top:138px;width:181px;background:linear-gradient(90deg,#f37400 0.5px,#ff8000 35.5px,#ff8000 180.5px)"></div><div class="r" style="left:270px;top:139px;width:181px;background:linear-gradient(90deg,#ef7000 0.5px,#ff8000 42.5px,#ff8000 180.5px)"></div><div class="r" style="left:270px;top:140px;width:181px;background:linear-gradient(90deg,#ec6d00 0.5px,#ff8000 49.5px,#ff8000 180.5px)"></div><div class="r" style="left:270px;top:141px;width:181px;background:linear-gradient(90deg,#e96900 0.5px,#ff8000 57.5px,#ff8000 180.5px)"></div><div class="r" style="left:270px;top:142px;width:181px;background:linear-gradient(90deg,#e56600 0.5px,#ff8000 63.5px,#ff8000 180.5px)"></div><div class="r" style="left:270px;top:143px;width:181px;background:linear-gradient(90deg,#e26300 0.5px,#ff8000 70.5px,#ff8000 180.5px)"></div><div class="r" style="left:270px;top:144px;width:181px;background:linear-gradient(90deg,#de5f00 0.5px,#ff8000 77.5px,#ff8000 180.5px)"></div><div class="r" style="left:270px;top:145px;width:181px;background:linear-gradient(90deg,#db5c00 0.5px,#ff8000 83.5px,#ff8000 180.5px)"></div><div class="r" style="left:270px;top:146px;width:181px;background:linear-gradient(90deg,#d75800 0.5px,#ff8000 90.5px,#ff8000 180.5px)"></div><div class="r" style="left:270px;top:147px;width:181px;background:linear-gradient(90deg,#d45500 0.5px,#ff8000 96.5px,#ff8000 180.5px)"></div><div class="r" style="left:270px;top:148px;width:181px;background:linear-gradient(90deg,#d15100 0.5px,#ff8000 103.5px,#ff8000 180.5px)"></div><div class="r" style="left:270px;top:149px;width:181px;background:linear-gradient(90deg,#cd4e00 0.5px,#ff8000 109.5px,#ff8000 180.5px)"></div><div class="r" style="left:270px;top:150px;width:181px;background:linear-gradient(90deg,#ca4a00 0.5px,#ff8000 115.5px,#ff8000 180.5px)"></div><div class="r" style="left:270px;top:151px;width:181px;background:linear-gradient(90deg,#c64700 0.5px,#ff8000 121.5px,#ff8000 180.5px)"></div><div class="r" style="left:270px;top:152px;width:181px;background:linear-gradient(90deg,#c34300 0.5px,#ff8000 127.5px,#ff8000 180.5px)"></div><div class="r" style="left:270px;top:153px;width:181px;background:linear-gradient(90deg,#bf4000 0.5px,#ff8000 132.5px,#ff8000 180.5px)"></div><div class="r" style="left:270px;top:154px;width:181px;background:linear-gradient(90deg,#bc3c00 0.5px,#ff8000 138.5px,#ff8000 180.5px)"></div><div class="r" style="left:270px;top:155px;width:181px;background:linear-gradient(90deg,#b83900 0.5px,#ff8000 144.5px,#ff8000 180.5px)"></div><div class="r" style="left:270px;top:156px;width:181px;background:linear-gradient(90deg,#b53500 0.5px,#ff8000 149.5px,#ff8000 180.5px)"></div><div class="r" style="left:270px;top:157px;width:181px;background:linear-gradient(90deg,#b23200 0.5px,#ff8000 154.5px,#ff8000 180.5px)"></div><div class="r" style="left:270px;top:158px;width:181px;background:linear-gradient(90deg,#ae2e00 0.5px,#ff8000 160.5px,#ff8000 180.5px)"></div><div class="r" style="left:270px;top:159px;width:181px;background:linear-gradient(90deg,#ab2b00 0.5px,#ff8000 165.5px,#ff8000 180.5px)"></div><div class="r" style="left:270px;top:160px;width:181px;background:linear-gradient(90deg,#a72700 0.5px,#ff8000 170.5px,#ff8000 180.5px)"></div><div class="r" style="left:270px;top:161px;width:181px;background:linear-gradient(90deg,#a42400 0.5px,#ff8000 175.5px,#ff8000 180.5px)"></div><div class="r" style="left:270px;top:162px;width:181px;background:linear-gradient(90deg,#a02000 0.5px,#ff8000 180.5px)"></div><div class="r" style="left:270px;top:163px;width:181px;background:linear-gradient(90deg,#9d1d00 0.5px,#fe7f00 180.5px)"></div><div class="r" style="left:270px;top:164px;width:181px;background:linear-gradient(90deg,#991900 0.5px,#fb7c00 180.5px)"></div><div class="r" style="left:270px;top:165px;width:181px;background:linear-gradient(90deg,#961600 0.5px,#f87900 180.5px)"></div><div class="r" style="left:270px;top:166px;width:181px;background:linear-gradient(90deg,#921200 0.5px,#f57600 180.5px)"></div><div class="r" style="left:270px;top:167px;width:181px;background:linear-gradient(90deg,#8f0f00 0.5px,#f27300 180.5px)"></div><div class="r" style="left:270px;top:168px;width:181px;background:linear-gradient(90deg,#8b0b00 0.5px,#ef7000 180.5px)"></div><div class="r" style="left:270px;top:169px;width:181px;background:linear-gradient(90deg,#880800 0.5px,#ec6d00 180.5px)"></div><div class="r" style="left:270px;top:170px;width:181px;background:linear-gradient(90deg,#840400 0.5px,#e96a00 180.5px)"></div><div class="r" style="left:270px;top:171px;width:181px;background:linear-gradient(90deg,#810100 0.5px,#e66700 180.5px)"></div><div class="r" style="left:270px;top:172px;width:181px;background:linear-gradient(90deg,#800000 0.5px,#921200 40.5px,#e36400 180.5px)"></div><div class="r" style="left:270px;top:173px;width:181px;background:linear-gradient(90deg,#800000 0.5px,#840400 19.5px,#e06100 180.5px)"></div><div class="r" style="left:270px;top:174px;width:181px;background:linear-gradient(90deg,#800000 0.5px,#830300 25.5px,#dd5e00 180.5px)"></div><div class="r" style="left:270px;top:175px;width:181px;background:linear-gradient(90deg,#800000 0.5px,#830300 30.5px,#da5b00 180.5px)"></div><div class="r" style="left:270px;top:176px;width:181px;background:linear-gradient(90deg,#800000 0.5px,#820200 36.5px,#d75800 180.5px)"></div><div class="r" style="left:270px;top:177px;width:181px;background:linear-gradient(90deg,#800000 0.5px,#820200 42.5px,#d45500 180.5px)"></div><div class="r" style="left:270px;top:178px;width:181px;background:linear-gradient(90deg,#800000 0.5px,#820200 48.5px,#d15200 180.5px)"></div><div class="r" style="left:270px;top:179px;width:181px;background:linear-gradient(90deg,#800000 0.5px,#820200 54.5px,#ce4f00 180.5px)"></div><div class="r" style="left:270px;top:180px;width:181px;background:linear-gradient(90deg,#800000 0.5px,#820200 60.5px,#cb4c00 180.5px)"></div><div class="r" style="left:270px;top:181px;width:181px;background:linear-gradient(90deg,#800000 0.5px,#820300 66.5px,#c84900 180.5px)"></div><div class="r" style="left:270px;top:182px;width:181px;background:linear-gradient(90deg,#800000 0.5px,#830300 72.5px,#c54600 180.5px)"></div><div class="r" style="left:270px;top:183px;width:181px;background:linear-gradient(90deg,#800000 0.5px,#820200 77.5px,#c24300 180.5px)"></div><div class="r" style="left:270px;top:184px;width:181px;background:linear-gradient(90deg,#800000 0.5px,#830300 83.5px,#bf4000 180.5px)"></div><div class="r" style="left:270px;top:185px;width:181px;background:linear-gradient(90deg,#800000 0.5px,#820200 88.5px,#bc3d00 180.5px)"></div><div class="r" style="left:270px;top:186px;width:181px;background:linear-gradient(90deg,#800000 0.5px,#830300 94.5px,#b93a00 180.5px)"></div><div class="r" style="left:270px;top:187px;width:181px;background:linear-gradient(90deg,#800000 0.5px,#820200 99.5px,#b63700 180.5px)"></div><div class="r" style="left:270px;top:188px;width:181px;background:linear-gradient(90deg,#800000 0.5px,#820200 104.5px,#b33400 180.5px)"></div><div class="r" style="left:504px;top:16px;width:169px;background:#ff8000"></div><div class="r" style="left:504px;top:17px;width:169px;background:#ff8000"></div><div class="r" style="left:504px;top:18px;width:169px;background:#ff8000"></div><div class="r" style="left:504px;top:19px;width:169px;background:#ff8000"></div><div class="r" style="left:504px;top:20px;width:169px;background:#ff8000"></div><div class="r" style="left:504px;top:21px;width:169px;background:#ff8000"></div><div class="r" style="left:504px;top:22px;width:169px;background:#ff8000"></div><div class="r" style="left:504px;top:23px;width:169px;background:#ff8000"></div><div class="r" style="left:504px;top:24px;width:169px;background:#ff8000"></div><div class="r" style="left:504px;top:25px;width:169px;background:#ff8000"></div><div class="r" style="left:504px;top:26px;width:169px;background:#ff8000"></div><div class="r" style="left:504px;top:27px;width:169px;background:#ff8000"></div><div class="r" style="left:504px;top:28px;width:169px;background:#ff8000"></div><div class="r" style="left:504px;top:29px;width:169px;background:#ff8000"></div><div class="r" style="left:504px;top:30px;width:169px;background:#ff8000"></div><div class="r" style="left:504px;top:31px;width:169px;background:#ff8000"></div><div class="r" style="left:504px;top:32px;width:169px;background:#ff8000"></div><div class="r" style="left:504px;top:33px;width:169px;background:#ff8000"></div><div class="r" style="left:504px;top:34px;width:169px;background:#ff8000"></div><div class="r" style="left:504px;top:35px;width:169px;background:#ff8000"></div><div class="r" style="left:504px;top:36px;width:169px;background:linear-gradient(90deg,#ff8000 0.5px,#ff8101 168.5px)"></div><div class="r" style="left:504px;top:37px;width:169px;background:linear-gradient(90deg,#ff8000 0.5px,#ff8202 168.5px)"></div><div class="r" style="left:504px;top:38px;width:169px;background:linear-gradient(90deg,#ff8000 0.5px,#ff8303 168.5px)"></div><div class="r" style="left:504px;top:39px;width:169px;background:linear-gradient(90deg,#ff8000 0.5px,#ff8303 161.5px,#ff8404 168.5px)"></div><div class="r" style="left:504px;top:40px;width:169px;background:linear-gradient(90deg,#ff8000 0.5px,#ff8303 155.5px,#ff8505 168.5px)"></div><div class="r" style="left:504px;top:41px;width:169px;background:linear-gradient(90deg,#ff8000 0.5px,#ff8303 150.5px,#ff8505 168.5px)"></div><div class="r" style="left:504px;top:42px;width:169px;background:linear-gradient(90deg,#ff8000 0.5px,#ff8303 144.5px,#ff8606 168.5px)"></div><div class="r" style="left:504px;top:43px;width:169px;background:linear-gradient(90deg,#ff8000 0.5px,#ff8303 140.5px,#ff8707 168.5px)"></div><div class="r" style="left:504px;top:44px;width:169px;background:linear-gradient(90deg,#ff8000 0.5px,#ff8303 135.5px,#ff8808 168.5px)"></div><div class="r" style="left:504px;top:45px;width:169px;background:linear-gradient(90deg,#ff8000 0.5px,#ff8303 131.5px,#ff8909 168.5px)"></div><div class="r" style="left:504px;top:46px;width:169px;background:linear-gradient(90deg,#ff8000 0.5px,#ff8303 127.5px,#ff8a0a 168.5px)"></div><div class="r" style="left:504px;top:47px;width:169px;background:linear-gradient(90deg,#ff8000 0.5px,#ff8303 123.5px,#ff8a0a 168.5px)"></div><div class="r" style="left:504px;top:48px;width:169px;background:linear-gradient(90deg,#ff8000 0.5px,#ff8303 120.5px,#ff8b0b 168.5px)"></div><div class="r" style="left:504px;top:49px;width:169px;background:linear-gradient(90deg,#ff8000 0.5px,#ff8303 116.5px,#ff8c0c 168.5px)"></div><div class="r" style="left:504px;top:50px;width:169px;background:linear-gradient(90deg,#ff8000 0.5px,#ff8303 113.5px,#ff8d0d 168.5px)"></div><div class="r" style="left:504px;top:51px;width:169px;background:linear-gradient(90deg,#ff8000 0.5px,#ff8303 110.5px,#ff8e0e 168.5px)"></div><div class="r" style="left:504px;top:52px;width:169px;background:linear-gradient(90deg,#ff8000 0.5px,#ff8303 108.5px,#ff8e0e 168.5px)"></div><div class="r" style="left:504px;top:53px;width:169px;background:linear-gradient(90deg,#ff8000 0.5px,#ff8303 105.5px,#ff8f0f 168.5px)"></div><div class="r" style="left:504px;top:54px;width:169px;background:linear-gradient(90deg,#ff8000 0.5px,#ff8303 103.5px,#ff9010 168.5px)"></div><div class="r" style="left:504px;top:55px;width:169px;background:linear-gradient(90deg,#ff8000 0.5px,#ff8303 100.5px,#ff9111 168.5px)"></div><div class="r" style="left:504px;top:56px;width:169px;background:linear-gradient(90deg,#ff8000 0.5px,#ff8303 98.5px,#ff9212 168.5px)"></div><div class="r" style="left:504px;top:57px;width:169px;background:linear-gradient(90deg,#ff8000 0.5px,#ff8303 96.5px,#ff9212 168.5px)"></div><div class="r" style="left:504px;top:58px;width:169px;background:linear-gradient(90deg,#ff8000 0.5px,#ff8303 94.5px,#ff9313 168.5px)"></div><div class="r" style="left:504px;top:59px;width:169px;background:linear-gradient(90deg,#ff8000 0.5px,#ff8303 92.5px,#ff9414 168.5px)"></div><div class="r" style="left:504px;top:60px;width:169px;background:linear-gradient(90deg,#ff8000 0.5px,#ff8303 91.5px,#ff9515 168.5px)"></div><div class="r" style="left:504px;top:61px;width:169px;background:linear-gradient(90deg,#ff8000 0.5px,#ff8303 89.5px,#ff9516 168.5px)"></div><div class="r" style="left:504px;top:62px;width:169px;background:linear-gradient(90deg,#ff8000 0.5px,#ff8303 87.5px,#ff9616 168.5px)"></div><div class="r" style="left:504px;top:63px;width:169px;background:linear-gradient(90deg,#ff8000 0.5px,#ff8303 86.5px,#ff9717 168.5px)"></div><div class="r" style="left:504px;top:64px;width:169px;background:linear-gradient(90deg,#ff8000 0.5px,#ff8303 84.5px,#ff9818 168.5px)"></div><div class="r" style="left:504px;top:65px;width:169px;background:linear-gradient(90deg,#ff8000 0.5px,#ff8303 83.5px,#ff9819 168.5px)"></div><div class="r" style="left:504px;top:66px;width:169px;background:linear-gradient(90deg,#ff8000 0.5px,#ff8303 82.5px,#ff9919 168.5px)"></div><div class="r" style="left:504px;top:67px;width:169px;background:linear-gradient(90deg,#ff8000 0.5px,#ff8303 80.5px,#ff9a1a 168.5px)"></div><div class="r" style="left:504px;top:68px;width:169px;background:linear-gradient(90deg,#ff8000 0.5px,#ff8303 79.5px,#ff9b1b 168.5px)"></div><div class="r" style="left:504px;top:69px;width:169px;background:linear-gradient(90deg,#ff8000 0.5px,#ff8303 78.5px,#ff9b1b 168.5px)"></div><div class="r" style="left:504px;top:70px;width:169px;background:linear-gradient(90deg,#ff8000 0.5px,#ff8303 77.5px,#ff9c1c 168.5px)"></div><div class="r" style="left:504px;top:71px;width:169px;background:linear-gradient(90deg,#ff8000 0.5px,#ff8303 76.5px,#ff9d1d 168.5px)"></div><div class="r" style="left:504px;top:72px;width:169px;background:linear-gradient(90deg,#ff8000 0.5px,#ff8303 75.5px,#ff9d1e 168.5px)"></div><div class="r" style="left:504px;top:73px;width:169px;background:linear-gradient(90deg,#ff8000 0.5px,#ff8303 74.5px,#ff9e1e 168.5px)"></div><div class="r" style="left:504px;top:74px;width:169px;background:linear-gradient(90deg,#ff8000 0.5px,#ff8303 73.5px,#ff9f1f 168.5px)"></div><div class="r" style="left:504px;top:75px;width:169px;background:linear-gradient(90deg,#ff8000 0.5px,#ff8303 72.5px,#ff9f20 168.5px)"></div><div class="r" style="left:504px;top:76px;width:169px;background:linear-gradient(90deg,#ff8000 0.5px,#ff8303 72.5px,#ffa020 168.5px)"></div><div class="r" style="left:504px;top:77px;width:169px;background:linear-gradient(90deg,#ff8000 0.5px,#ff8303 71.5px,#ffa121 168.5px)"></div><div class="r" style="left:504px;top:78px;width:169px;background:linear-gradient(90deg,#ff8000 0.5px,#ff8303 70.5px,#ffa222 168.5px)"></div><div class="r" style="left:504px;top:79px;width:169px;background:linear-gradient(90deg,#ff8000 0.5px,#ff8303 69.5px,#ffa223 168.5px)"></div><div class="r" style="left:504px;top:80px;width:169px;background:linear-gradient(90deg,#ff8000 0.5px,#ff8303 69.5px,#ffa323 168.5px)"></div><div class="r" style="left:504px;top:81px;width:169px;background:linear-gradient(90deg,#ff8000 0.5px,#ff8303 68.5px,#ffa424 168.5px)"></div><div class="r" style="left:504px;top:82px;width:169px;background:linear-gradient(90deg,#ff8000 0.5px,#ff8303 67.5px,#ffa425 168.5px)"></div><div class="r" style="left:504px;top:83px;width:169px;background:linear-gradient(90deg,#ff8000 0.5px,#ff8303 67.5px,#ffa525 168.5px)"></div><div class="r" style="left:504px;top:84px;width:169px;background:linear-gradient(90deg,#ff8000 0.5px,#ff8303 66.5px,#ffa626 168.5px)"></div><div class="r" style="left:504px;top:85px;width:169px;background:linear-gradient(90deg,#ff8000 0.5px,#ff8303 66.5px,#ffa627 168.5px)"></div><div class="r" style="left:504px;top:86px;width:169px;background:linear-gradient(90deg,#ff8000 0.5px,#ff8303 65.5px,#ffa727 168.5px)"></div><div class="r" style="left:504px;top:87px;width:169px;background:linear-gradient(90deg,#ff8000 0.5px,#ff8303 65.5px,#ffa828 168.5px)"></div><div class="r" style="left:504px;top:88px;width:169px;background:linear-gradient(90deg,#ff8000 0.5px,#ff8303 64.5px,#ffa828 168.5px)"></div><div class="r" style="left:504px;top:89px;width:169px;background:linear-gradient(90deg,#ff8000 0.5px,#ff8303 64.5px,#ffa929 168.5px)"></div><div class="r" style="left:504px;top:90px;width:169px;background:linear-gradient(90deg,#ff8000 0.5px,#ff8203 63.5px,#ffa92a 168.5px)"></div><div class="r" style="left:504px;top:91px;width:169px;background:linear-gradient(90deg,#ff8000 0.5px,#ff8303 63.5px,#ffaa2a 168.5px)"></div><div class="r" style="left:504px;top:92px;width:169px;background:linear-gradient(90deg,#ff8000 0.5px,#ff8303 63.5px,#ffab2b 168.5px)"></div><div class="r" style="left:504px;top:93px;width:169px;background:linear-gradient(90deg,#ff8000 0.5px,#ff8303 62.5px,#ffab2c 168.5px)"></div><div class="r" style="left:504px;top:94px;width:169px;background:linear-gradient(90deg,#ff8000 0.5px,#ff8303 62.5px,#ffac2c 168.5px)"></div><div class="r" style="left:504px;top:95px;width:169px;background:linear-gradient(90deg,#ff8000 0.5px,#ff8303 62.5px,#ffad2d 168.5px)"></div><div class="r" style="left:504px;top:96px;width:169px;background:linear-gradient(90deg,#ff8000 0.5px,#ff8202 61.5px,#ffad2d 168.5px)"></div><div class="r" style="left:504px;top:97px;width:169px;background:linear-gradient(90deg,#ff8000 0.5px,#ff8303 61.5px,#ffae2e 168.5px)"></div><div class="r" style="left:504px;top:98px;width:169px;background:linear-gradient(90deg,#ff8000 0.5px,#ff8303 61.5px,#ffae2f 168.5px)"></div><div class="r" style="left:504px;top:99px;width:169px;background:linear-gradient(90deg,#ff8000 0.5px,#ff8303 61.5px,#ffaf2f 168.5px)"></div><div class="r" style="left:504px;top:100px;width:169px;background:linear-gradient(90deg,#ff8000 0.5px,#ff8202 60.5px,#ffb030 168.5px)"></div><div class="r" style="left:504px;top:101px;width:169px;background:linear-gradient(90deg,#ff8000 0.5px,#ff8303 60.5px,#ffb030 168.5px)"></div><div class="r" style="left:504px;top:102px;width:169px;background:linear-gradient(90deg,#ff8000 0.5px,#ff8303 60.5px,#ffb131 168.5px)"></div><div class="r" style="left:504px;top:103px;width:169px;background:linear-gradient(90deg,#ff8000 0.5px,#ff8303 60.5px,#ffb132 168.5px)"></div><div class="r" style="left:504px;top:104px;width:169px;background:linear-gradient(90deg,#ff8000 0.5px,#ff8303 60.5px,#ffb232 168.5px)"></div><div class="r" style="left:504px;top:105px;width:169px;background:linear-gradient(90deg,#ff8000 0.5px,#ff8303 60.5px,#ffb233 168.5px)"></div><div class="r" style="left:504px;top:106px;width:169px;background:linear-gradient(90deg,#ff8000 0.5px,#ff8202 59.5px,#ffb333 168.5px)"></div><div class="r" style="left:504px;top:107px;width:169px;background:linear-gradient(90deg,#ff8000 0.5px,#ff8202 59.5px,#ffb334 168.5px)"></div><div class="r" style="left:504px;top:108px;width:169px;background:linear-gradient(90deg,#ff8000 0.5px,#ff8303 59.5px,#ffb434 168.5px)"></div><div class="r" style="left:504px;top:109px;width:169px;background:linear-gradient(90deg,#ff8000 0.5px,#ff8303 59.5px,#ffb535 168.5px)"></div><div class="r" style="left:504px;top:110px;width:169px;background:linear-gradient(90deg,#ff8000 0.5px,#ff8303 59.5px,#ffb536 168.5px)"></div><div class="r" style="left:504px;top:111px;width:169px;background:linear-gradient(90deg,#ff8000 0.5px,#ff8303 59.5px,#ffb636 168.5px)"></div><div class="r" style="left:504px;top:112px;width:169px;background:linear-gradient(90deg,#ff8000 0.5px,#ff8303 59.5px,#ffb637 168.5px)"></div><div class="r" style="left:504px;top:113px;width:169px;background:linear-gradient(90deg,#ff8000 0.5px,#ff8303 59.5px,#ffb737 168.5px)"></div><div class="r" style="left:504px;top:114px;width:169px;background:linear-gradient(90deg,#ff8000 0.5px,#ff8303 59.5px,#ffb738 168.5px)"></div><div class="r" style="left:504px;top:115px;width:169px;background:linear-gradient(90deg,#ff8000 0.5px,#ff8303 59.5px,#ffb838 168.5px)"></div><div class="r" style="left:504px;top:116px;width:169px;background:linear-gradient(90deg,#ff8000 0.5px,#ff8303 59.5px,#ffb839 168.5px)"></div><div class="r" style="left:504px;top:117px;width:169px;background:linear-gradient(90deg,#ff8000 0.5px,#ff8303 59.5px,#ffb939 168.5px)"></div><div class="r" style="left:504px;top:118px;width:169px;background:linear-gradient(90deg,#ff8000 0.5px,#ff8303 59.5px,#ffb93a 168.5px)"></div><div class="r" style="left:504px;top:119px;width:169px;background:linear-gradient(90deg,#ff8000 0.5px,#ff8303 59.5px,#ffba3a 168.5px)"></div><div class="r" style="left:504px;top:120px;width:169px;background:linear-gradient(90deg,#ff8000 0.5px,#ff8303 59.5px,#ffba3b 168.5px)"></div><div class="r" style="left:504px;top:121px;width:169px;background:linear-gradient(90deg,#ff8000 0.5px,#ff8303 59.5px,#ffbb3b 168.5px)"></div><div class="r" style="left:504px;top:122px;width:169px;background:linear-gradient(90deg,#ff8000 0.5px,#ff8303 59.5px,#ffbb3c 168.5px)"></div><div class="r" style="left:504px;top:123px;width:169px;background:linear-gradient(90deg,#ff8000 0.5px,#ff8303 59.5px,#ffbc3c 168.5px)"></div><div class="r" style="left:504px;top:124px;width:169px;background:linear-gradient(90deg,#ff8000 0.5px,#ff8303 59.5px,#ffbc3d 168.5px)"></div><div class="r" style="left:504px;top:125px;width:169px;background:linear-gradient(90deg,#ff8000 0.5px,#ff8303 59.5px,#ffbd3d 168.5px)"></div><div class="r" style="left:504px;top:126px;width:169px;background:linear-gradient(90deg,#ff8000 0.5px,#ff8303 59.5px,#ffbd3e 168.5px)"></div><div class="r" style="left:504px;top:127px;width:169px;background:linear-gradient(90deg,#ff8000 0.5px,#ff8303 59.5px,#ffbe3e 168.5px)"></div><div class="r" style="left:504px;top:128px;width:169px;background:linear-gradient(90deg,#ff8000 0.5px,#ff8303 59.5px,#ffbe3f 168.5px)"></div><div class="r" style="left:504px;top:129px;width:169px;background:linear-gradient(90deg,#ff8000 0.5px,#ff8203 59.5px,#ffbf3f 168.5px)"></div><div class="r" style="left:504px;top:130px;width:169px;background:linear-gradient(90deg,#ff8000 0.5px,#ff8202 59.5px,#ffbf40 168.5px)"></div><div class="r" style="left:504px;top:131px;width:169px;background:linear-gradient(90deg,#ff8000 0.5px,#ff8202 59.5px,#ffc040 168.5px)"></div><div class="r" style="left:504px;top:132px;width:169px;background:linear-gradient(90deg,#ff8000 0.5px,#ff8202 59.5px,#ffc041 168.5px)"></div><div class="r" style="left:504px;top:133px;width:169px;background:linear-gradient(90deg,#ff8000 0.5px,#ff8202 59.5px,#ffc041 168.5px)"></div><div class="r" style="left:504px;top:134px;width:169px;background:linear-gradient(90deg,#ff8000 0.5px,#ff8202 59.5px,#ffc141 168.5px)"></div><div class="r" style="left:504px;top:135px;width:169px;background:linear-gradient(90deg,#ff8000 0.5px,#ff8202 59.5px,#ffc142 168.5px)"></div><div class="r" style="left:504px;top:136px;width:169px;background:linear-gradient(90deg,#ff8000 0.5px,#ff8303 60.5px,#ffc242 168.5px)"></div><div class="r" style="left:504px;top:137px;width:169px;background:linear-gradient(90deg,#ff8000 0.5px,#ff8303 60.5px,#ffc243 168.5px)"></div><div class="r" style="left:504px;top:138px;width:169px;background:linear-gradient(90deg,#ff8000 0.5px,#ff8303 60.5px,#ffc343 168.5px)"></div><div class="r" style="left:504px;top:139px;width:169px;background:linear-gradient(90deg,#ff8000 0.5px,#ff8202 60.5px,#ffc344 168.5px)"></div><div class="r" style="left:504px;top:140px;width:169px;background:linear-gradient(90deg,#ff8000 0.5px,#ff8202 60.5px,#ffc344 168.5px)"></div><div class="r" style="left:504px;top:141px;width:169px;background:linear-gradient(90deg,#ff8000 0.5px,#ff8202 60.5px,#ffc444 168.5px)"></div><div class="r" style="left:504px;top:142px;width:169px;background:linear-gradient(90deg,#ff8000 0.5px,#ff8202 60.5px,#ffc445 168.5px)"></div><div class="r" style="left:504px;top:143px;width:169px;background:linear-gradient(90deg,#ff8000 0.5px,#ff8303 61.5px,#ffc545 168.5px)"></div><div class="r" style="left:504px;top:144px;width:169px;background:linear-gradient(90deg,#ff8000 0.5px,#ff8303 61.5px,#ffc546 168.5px)"></div><div class="r" style="left:504px;top:145px;width:169px;background:linear-gradient(90deg,#ff8000 0.5px,#ff8202 61.5px,#ffc546 168.5px)"></div><div class="r" style="left:504px;top:146px;width:169px;background:linear-gradient(90deg,#ff8000 0.5px,#ff8202 61.5px,#ffc646 168.5px)"></div><div class="r" style="left:504px;top:147px;width:169px;background:linear-gradient(90deg,#ff8000 0.5px,#ff8202 61.5px,#ffc647 168.5px)"></div><div class="r" style="left:504px;top:148px;width:169px;background:linear-gradient(90deg,#ff8000 0.5px,#ff8202 61.5px,#ffc747 168.5px)"></div><div class="r" style="left:504px;top:149px;width:169px;background:linear-gradient(90deg,#ff8000 0.5px,#ff8303 62.5px,#ffc748 168.5px)"></div><div class="r" style="left:504px;top:150px;width:169px;background:linear-gradient(90deg,#ff8000 0.5px,#ff8303 62.5px,#ffc748 168.5px)"></div><div class="r" style="left:504px;top:151px;width:169px;background:linear-gradient(90deg,#ff8000 0.5px,#ff8202 62.5px,#ffc848 168.5px)"></div><div class="r" style="left:504px;top:152px;width:169px;background:linear-gradient(90deg,#ff8000 0.5px,#ff8202 62.5px,#ffc849 168.5px)"></div><div class="r" style="left:504px;top:153px;width:169px;background:linear-gradient(90deg,#ff8000 0.5px,#ff8202 62.5px,#ffc849 168.5px)"></div><div class="r" style="left:504px;top:154px;width:169px;background:linear-gradient(90deg,#ff8000 0.5px,#ff8202 62.5px,#ffc949 168.5px)"></div><div class="r" style="left:504px;top:155px;width:169px;background:linear-gradient(90deg,#ff8000 0.5px,#ff8303 63.5px,#ffc94a 168.5px)"></div><div class="r" style="left:504px;top:156px;width:169px;background:linear-gradient(90deg,#ff8000 0.5px,#ff8202 63.5px,#ffca4a 168.5px)"></div><div class="r" style="left:504px;top:157px;width:169px;background:linear-gradient(90deg,#ff8000 0.5px,#ff8202 63.5px,#ffca4a 168.5px)"></div><div class="r" style="left:504px;top:158px;width:169px;background:linear-gradient(90deg,#ff8000 0.5px,#ff8202 63.5px,#ffca4b 168.5px)"></div><div class="r" style="left:504px;top:159px;width:169px;background:linear-gradient(90deg,#ff8000 0.5px,#ff8202 63.5px,#ffcb4b 168.5px)"></div><div class="r" style="left:504px;top:160px;width:169px;background:linear-gradient(90deg,#ff8000 0.5px,#ff8203 64.5px,#ffcb4b 168.5px)"></div><div class="r" style="left:504px;top:161px;width:169px;background:linear-gradient(90deg,#ff8000 0.5px,#ff8202 64.5px,#ffcb4c 168.5px)"></div><div class="r" style="left:504px;top:162px;width:169px;background:linear-gradient(90deg,#ff8000 0.5px,#ff8202 64.5px,#ffcc4c 168.5px)"></div><div class="r" style="left:504px;top:163px;width:169px;background:linear-gradient(90deg,#ff8000 0.5px,#ff8202 64.5px,#ffcc4c 168.5px)"></div><div class="r" style="left:504px;top:164px;width:169px;background:linear-gradient(90deg,#ff8000 0.5px,#ff8303 65.5px,#ffcc4d 168.5px)"></div><div class="r" style="left:504px;top:165px;width:169px;background:linear-gradient(90deg,#ff8000 0.5px,#ff8202 65.5px,#ffcc4d 168.5px)"></div><div class="r" style="left:504px;top:166px;width:169px;background:linear-gradient(90deg,#ff8000 0.5px,#ff8202 65.5px,#ffcd4d 168.5px)"></div><div class="r" style="left:504px;top:167px;width:169px;background:linear-gradient(90deg,#ff8000 0.5px,#ff8202 65.5px,#ffcd4e 168.5px)"></div><div class="r" style="left:504px;top:168px;width:169px;background:linear-gradient(90deg,#ff8000 0.5px,#ff8303 66.5px,#ffcd4e 168.5px)"></div><div class="r" style="left:504px;top:169px;width:169px;background:linear-gradient(90deg,#ff8000 0.5px,#ff8202 66.5px,#ffce4e 168.5px)"></div><div class="r" style="left:504px;top:170px;width:169px;background:linear-gradient(90deg,#ff8000 0.5px,#ff8202 66.5px,#ffce4f 168.5px)"></div><div class="r" style="left:504px;top:171px;width:169px;background:linear-gradient(90deg,#ff8000 0.5px,#ff8202 66.5px,#ffce4f 168.5px)"></div><div class="r" style="left:504px;top:172px;width:169px;background:linear-gradient(90deg,#ff8000 0.5px,#ff8303 67.5px,#ffce4f 168.5px)"></div><div class="r" style="left:504px;top:173px;width:169px;background:linear-gradient(90deg,#ff8000 0.5px,#ff8202 67.5px,#ffcf4f 168.5px)"></div><div class="r" style="left:504px;top:174px;width:169px;background:linear-gradient(90deg,#ff8000 0.5px,#ff8202 67.5px,#ffcf50 168.5px)"></div><div class="r" style="left:504px;top:175px;width:169px;background:linear-gradient(90deg,#ff8000 0.5px,#ff8202 67.5px,#ffcf50 168.5px)"></div><div class="r" style="left:504px;top:176px;width:169px;background:linear-gradient(90deg,#ff8000 0.5px,#ff8303 68.5px,#ffd050 168.5px)"></div><div class="r" style="left:504px;top:177px;width:169px;background:linear-gradient(90deg,#ff8000 0.5px,#ff8202 68.5px,#ffd050 168.5px)"></div><div class="r" style="left:504px;top:178px;width:169px;background:linear-gradient(90deg,#ff8000 0.5px,#ff8202 68.5px,#ffd051 168.5px)"></div><div class="r" style="left:504px;top:179px;width:169px;background:linear-gradient(90deg,#ff8000 0.5px,#ff8202 68.5px,#ffd051 168.5px)"></div><div class="r" style="left:504px;top:180px;width:169px;background:linear-gradient(90deg,#ff8000 0.5px,#ff8202 69.5px,#ffd151 168.5px)"></div><div class="r" style="left:504px;top:181px;width:169px;background:linear-gradient(90deg,#ff8000 0.5px,#ff8202 69.5px,#ffd151 168.5px)"></div><div class="r" style="left:504px;top:182px;width:169px;background:linear-gradient(90deg,#ff8000 0.5px,#ff8202 69.5px,#ffd152 168.5px)"></div><div class="r" style="left:504px;top:183px;width:169px;background:linear-gradient(90deg,#ff8000 0.5px,#ff8303 70.5px,#ffd152 168.5px)"></div><div class="r" style="left:504px;top:184px;width:169px;background:linear-gradient(90deg,#ff8000 0.5px,#ff8202 70.5px,#ffd152 168.5px)"></div><div class="r" style="left:504px;top:185px;width:169px;background:linear-gradient(90deg,#ff8000 0.5px,#ff8202 70.5px,#ffd252 168.5px)"></div><div class="r" style="left:504px;top:186px;width:169px;background:linear-gradient(90deg,#ff8000 0.5px,#ff8202 70.5px,#ffd253 168.5px)"></div><div class="r" style="left:504px;top:187px;width:169px;background:linear-gradient(90deg,#ff8000 0.5px,#ff8202 71.5px,#ffd253 168.5px)"></div><div class="r" style="left:504px;top:188px;width:169px;background:linear-gradient(90deg,#ff8000 0.5px,#ff8202 71.5px,#ffd253 168.5px)"></div><div class="r" style="left:504px;top:189px;width:169px;background:linear-gradient(90deg,#ff8000 0.5px,#ff8202 71.5px,#ffd353 168.5px)"></div><div class="r" style="left:46px;top:235px;width:178px;background:#ffff80"></div><div class="r" style="left:46px;top:236px;width:178px;background:#ffff80"></div><div class="r" style="left:46px;top:237px;width:178px;background:#ffff80"></div><div class="r" style="left:46px;top:238px;width:178px;background:#ffff80"></div><div class="r" style="left:46px;top:239px;width:178px;background:#ffff80"></div><div class="r" style="left:46px;top:240px;width:178px;background:#ffff80"></div><div class="r" style="left:46px;top:241px;width:178px;background:#ffff80"></div><div class="r" style="left:46px;top:242px;width:178px;background:#ffff80"></div><div class="r" style="left:46px;top:243px;width:178px;background:#ffff80"></div><div class="r" style="left:46px;top:244px;width:178px;background:#ffff80"></div><div class="r" style="left:46px;top:245px;width:178px;background:#ffff80"></div><div class="r" style="left:46px;top:246px;width:178px;background:#ffff80"></div><div class="r" style="left:46px;top:247px;width:178px;background:#ffff80"></div><div class="r" style="left:46px;top:248px;width:178px;background:#ffff80"></div><div class="r" style="left:46px;top:249px;width:178px;background:#ffff80"></div><div class="r" style="left:46px;top:250px;width:178px;background:#ffff80"></div><div class="r" style="left:46px;top:251px;width:178px;background:#ffff80"></div><div class="r" style="left:46px;top:252px;width:178px;background:#ffff80"></div><div class="r" style="left:46px;top:253px;width:178px;background:#ffff80"></div><div class="r" style="left:46px;top:254px;width:178px;background:#ffff80"></div><div class="r" style="left:46px;top:255px;width:178px;background:#ffff80"></div><div class="r" style="left:46px;top:256px;width:178px;background:#ffff80"></div><div class="r" style="left:46px;top:257px;width:178px;background:#ffff80"></div><div class="r" style="left:46px;top:258px;width:178px;background:#ffff80"></div><div class="r" style="left:46px;top:259px;width:178px;background:#ffff80"></div><div class="r" style="left:46px;top:260px;width:178px;background:#ffff80"></div><div class="r" style="left:46px;top:261px;width:178px;background:#ffff80"></div><div class="r" style="left:46px;top:262px;width:178px;background:#ffff80"></div><div class="r" style="left:46px;top:263px;width:178px;background:#ffff80"></div><div class="r" style="left:46px;top:264px;width:178px;background:#ffff80"></div><div class="r" style="left:46px;top:265px;width:178px;background:#ffff80"></div><div class="r" style="left:46px;top:266px;width:178px;background:#ffff80"></div><div class="r" style="left:46px;top:267px;width:178px;background:#ffff80"></div><div class="r" style="left:46px;top:268px;width:178px;background:#ffff80"></div><div class="r" style="left:46px;top:269px;width:178px;background:#ffff80"></div><div class="r" style="left:46px;top:270px;width:178px;background:#ffff80"></div><div class="r" style="left:46px;top:271px;width:178px;background:#ffff80"></div><div class="r" style="left:46px;top:272px;width:178px;background:#ffff80"></div><div class="r" style="left:46px;top:273px;width:178px;background:#ffff80"></div><div class="r" style="left:46px;top:274px;width:178px;background:#ffff80"></div><div class="r" style="left:46px;top:275px;width:178px;background:#ffff80"></div><div class="r" style="left:46px;top:276px;width:178px;background:#ffff80"></div><div class="r" style="left:46px;top:277px;width:178px;background:#ffff80"></div><div class="r" style="left:46px;top:278px;width:178px;background:#ffff80"></div><div class="r" style="left:46px;top:279px;width:178px;background:#ffff80"></div><div class="r" style="left:46px;top:280px;width:178px;background:#ffff80"></div><div class="r" style="left:46px;top:281px;width:178px;background:#ffff80"></div><div class="r" style="left:46px;top:282px;width:178px;background:#ffff80"></div><div class="r" style="left:46px;top:283px;width:178px;background:#ffff80"></div><div class="r" style="left:46px;top:284px;width:178px;background:#ffff80"></div><div class="r" style="left:46px;top:285px;width:178px;background:#ffff80"></div><div class="r" style="left:46px;top:286px;width:178px;background:#ffff80"></div><div class="r" style="left:46px;top:287px;width:178px;background:#ffff80"></div><div class="r" style="left:46px;top:288px;width:178px;background:linear-gradient(90deg,#ffff80 0.5px,#fffc7d 67.5px,#fffe7f 95.5px,#ffff80 177.5px)"></div><div class="r" style="left:46px;top:289px;width:178px;background:linear-gradient(90deg,#ffff80 0.5px,#fffd7e 57.5px,#fff879 85.5px,#ffff80 113.5px,#ffff80 177.5px)"></div><div class="r" style="left:46px;top:290px;width:178px;background:linear-gradient(90deg,#ffff80 0.5px,#fffd7e 50.5px,#fff475 78.5px,#fffe7f 106.5px,#ffff80 177.5px)"></div><div class="r" style="left:46px;top:291px;width:178px;background:linear-gradient(90deg,#ffff80 0.5px,#fffc7d 45.5px,#fff172 73.5px,#fff879 101.5px,#ffff80 116.5px,#ffff80 177.5px)"></div><div class="r" style="left:46px;top:292px;width:178px;background:linear-gradient(90deg,#ffff80 0.5px,#fffc7d 40.5px,#ffee6f 68.5px,#fff273 96.5px,#ffff80 118.5px,#ffff80 177.5px)"></div><div class="r" style="left:46px;top:293px;width:178px;background:linear-gradient(90deg,#ffff80 0.5px,#fffd7e 35.5px,#ffeb6c 63.5px,#ffed6e 91.5px,#ffff80 121.5px,#ffff80 177.5px)"></div><div class="r" style="left:46px;top:294px;width:178px;background:linear-gradient(90deg,#ffff80 0.5px,#fffc7d 31.5px,#ffe96a 59.5px,#ffe869 87.5px,#fffb7c 115.5px,#ffff80 125.5px,#ffff80 177.5px)"></div><div class="r" style="left:46px;top:295px;width:178px;background:linear-gradient(90deg,#ffff80 0.5px,#fffd7e 26.5px,#ffe768 54.5px,#ffe464 82.5px,#fff374 110.5px,#ffff80 124.5px,#ffff80 177.5px)"></div><div class="r" style="left:46px;top:296px;width:178px;background:linear-gradient(90deg,#ffff80 0.5px,#fffc7d 23.5px,#ffe465 51.5px,#ffe060 79.5px,#ffee6f 107.5px,#ffff80 126.5px,#ffff80 177.5px)"></div><div class="r" style="left:46px;top:297px;width:178px;background:linear-gradient(90deg,#ffff80 0.5px,#fffd7e 19.5px,#ffe363 47.5px,#ffdc5c 75.5px,#ffe869 103.5px,#ffff80 128.5px,#ffff80 177.5px)"></div><div class="r" style="left:46px;top:298px;width:178px;background:linear-gradient(90deg,#ffff80 0.5px,#fffd7e 15.5px,#ffe162 43.5px,#ffd859 71.5px,#ffe263 99.5px,#ffff80 130.5px,#ffff80 177.5px)"></div><div class="r" style="left:46px;top:299px;width:178px;background:linear-gradient(90deg,#ffff80 0.5px,#fffc7d 12.5px,#ffdf60 40.5px,#ffd455 68.5px,#ffdd5e 96.5px,#fff879 124.5px,#ffff80 131.5px,#ffff80 177.5px)"></div><div class="r" style="left:46px;top:300px;width:178px;background:linear-gradient(90deg,#ffff80 0.5px,#fffc7d 9.5px,#ffdd5e 37.5px,#ffd152 65.5px,#ffd859 93.5px,#fff273 121.5px,#ffff80 133.5px,#ffff80 177.5px)"></div><div class="r" style="left:46px;top:301px;width:178px;background:linear-gradient(90deg,#ffff80 0.5px,#fffa7b 7.5px,#ffda5b 35.5px,#ffcd4e 63.5px,#ffd454 91.5px,#ffed6e 119.5px,#ffff80 134.5px,#ffff80 177.5px)"></div><div class="r" style="left:46px;top:302px;width:178px;background:linear-gradient(90deg,#ffff80 0.5px,#ffda5b 30.5px,#ffcb4b 58.5px,#ffce4e 86.5px,#ffe465 114.5px,#ffff80 135.5px,#ffff80 177.5px)"></div><div class="r" style="left:46px;top:303px;width:178px;background:linear-gradient(90deg,#fffb7c 0.5px,#ffd858 28.5px,#ffc748 56.5px,#ffca4a 84.5px,#ffdf60 112.5px,#ffff80 136.5px,#ffff80 177.5px)"></div><div class="r" style="left:46px;top:304px;width:178px;background:linear-gradient(90deg,#fff677 0.5px,#ffd354 28.5px,#ffc344 56.5px,#ffc647 84.5px,#ffdc5d 112.5px,#ffff80 138.5px,#ffff80 177.5px)"></div><div class="r" style="left:46px;top:305px;width:178px;background:linear-gradient(90deg,#fff172 0.5px,#ffcf4f 28.5px,#ffbf40 56.5px,#ffc344 84.5px,#ffda5a 112.5px,#ffff80 139.5px,#ffff80 177.5px)"></div><div class="r" style="left:46px;top:306px;width:178px;background:linear-gradient(90deg,#ffec6d 0.5px,#ffca4b 28.5px,#ffbc3c 56.5px,#ffc040 84.5px,#ffd758 112.5px,#ffff80 140.5px,#ffff80 177.5px)"></div><div class="r" style="left:46px;top:307px;width:178px;background:linear-gradient(90deg,#ffe768 0.5px,#ffc646 28.5px,#ffb838 56.5px,#ffbc3d 84.5px,#ffd455 112.5px,#ffff80 141.5px,#ffff80 177.5px)"></div><div class="r" style="left:46px;top:308px;width:178px;background:linear-gradient(90deg,#ffe263 0.5px,#ffc142 28.5px,#ffb434 56.5px,#ffb93a 84.5px,#ffd152 112.5px,#fffd7e 140.5px,#ffff80 177.5px)"></div><div class="r" style="left:46px;top:309px;width:178px;background:linear-gradient(90deg,#ffdd5d 0.5px,#ffbd3d 28.5px,#ffb030 56.5px,#ffb636 84.5px,#ffcf4f 112.5px,#fffb7c 140.5px,#ffff80 146.5px,#ffff80 177.5px)"></div><div class="r" style="left:46px;top:310px;width:178px;background:linear-gradient(90deg,#ffd858 0.5px,#ffb839 28.5px,#ffac2c 56.5px,#ffb233 84.5px,#ffcc4d 112.5px,#fff879 140.5px,#ffff80 145.5px,#ffff80 177.5px)"></div><div class="r" style="left:46px;top:311px;width:178px;background:linear-gradient(90deg,#ffd353 0.5px,#ffb434 28.5px,#ffa828 56.5px,#ffaf30 84.5px,#ffc94a 112.5px,#fff677 140.5px,#ffff80 146.5px,#ffff80 177.5px)"></div><div class="r" style="left:46px;top:312px;width:178px;background:linear-gradient(90deg,#ffce4e 0.5px,#ffaf30 28.5px,#ffa424 56.5px,#ffac2c 84.5px,#ffc647 112.5px,#fff475 140.5px,#ffff80 147.5px,#ffff80 177.5px)"></div><div class="r" style="left:46px;top:313px;width:178px;background:linear-gradient(90deg,#ffc949 0.5px,#ffab2b 28.5px,#ffa021 56.5px,#ffa829 84.5px,#ffc444 112.5px,#fff273 140.5px,#ffff80 148.5px,#ffff80 177.5px)"></div><div class="r" style="left:46px;top:314px;width:178px;background:linear-gradient(90deg,#ffc444 0.5px,#ffa627 28.5px,#ff9c1d 56.5px,#ffa525 84.5px,#ffc141 112.5px,#fff070 140.5px,#ffff80 148.5px,#ffff80 177.5px)"></div><div class="r" style="left:46px;top:315px;width:178px;background:linear-gradient(90deg,#ffbe3f 0.5px,#ffa222 28.5px,#ff9819 56.5px,#ffa222 84.5px,#ffbe3f 112.5px,#ffed6e 140.5px,#ffff80 149.5px,#ffff80 177.5px)"></div><div class="r" style="left:46px;top:316px;width:178px;background:linear-gradient(90deg,#ffb93a 0.5px,#ff9e1e 28.5px,#ff9515 56.5px,#ff9e1f 84.5px,#ffbb3c 112.5px,#ffeb6c 140.5px,#ffff80 150.5px,#ffff80 177.5px)"></div><div class="r" style="left:46px;top:317px;width:178px;background:linear-gradient(90deg,#ffb435 0.5px,#ff9919 28.5px,#ff9111 56.5px,#ff9b1b 84.5px,#ffb939 112.5px,#ffe96a 140.5px,#ffff80 151.5px,#ffff80 177.5px)"></div><div class="r" style="left:46px;top:318px;width:178px;background:linear-gradient(90deg,#ffaf30 0.5px,#ff9515 28.5px,#ff8d0d 56.5px,#ff9818 84.5px,#ffb636 112.5px,#ffe768 140.5px,#ffff80 152.5px,#ffff80 177.5px)"></div><div class="r" style="left:46px;top:319px;width:178px;background:linear-gradient(90deg,#ffaa2b 0.5px,#ff9010 28.5px,#ff8909 56.5px,#ff9415 84.5px,#ffb333 112.5px,#ffe565 140.5px,#ffff80 153.5px,#ffff80 177.5px)"></div><div class="r" style="left:46px;top:320px;width:178px;background:linear-gradient(90deg,#ffa526 0.5px,#ff8c0c 28.5px,#ff8505 56.5px,#ff9111 84.5px,#ffb031 112.5px,#ffe263 140.5px,#ffff80 153.5px,#ffff80 177.5px)"></div><div class="r" style="left:46px;top:321px;width:178px;background:linear-gradient(90deg,#ffa020 0.5px,#ff8707 28.5px,#ff8101 56.5px,#ff8e0e 84.5px,#ffad2e 112.5px,#ffe061 140.5px,#ffff80 154.5px,#ffff80 177.5px)"></div><div class="r" style="left:46px;top:322px;width:178px;background:linear-gradient(90deg,#ff9b1b 0.5px,#ff8303 28.5px,#ff8101 70.5px,#ff9818 98.5px,#ffc242 126.5px,#ffff80 155.5px,#ffff80 177.5px)"></div><div class="r" style="left:46px;top:323px;width:178px;background:linear-gradient(90deg,#ff9616 0.5px,#ff8000 26.5px,#ff8202 78.5px,#ff9f20 106.5px,#ffcf50 134.5px,#ffff80 156.5px,#ffff80 177.5px)"></div><div class="r" style="left:46px;top:324px;width:178px;background:linear-gradient(90deg,#ff9111 0.5px,#ff8000 20.5px,#ff8202 82.5px,#ffa222 110.5px,#ffd556 138.5px,#ffff80 156.5px,#ffff80 177.5px)"></div><div class="r" style="left:46px;top:325px;width:178px;background:linear-gradient(90deg,#ff8c0c 0.5px,#ff8000 14.5px,#ff8202 86.5px,#ffa526 114.5px,#ffdc5d 142.5px,#ffff80 157.5px,#ffff80 177.5px)"></div><div class="r" style="left:46px;top:326px;width:178px;background:linear-gradient(90deg,#ff8707 0.5px,#ff8000 10.5px,#ff8202 89.5px,#ffa828 117.5px,#ffe161 145.5px,#ffff80 158.5px,#ffff80 177.5px)"></div><div class="r" style="left:46px;top:327px;width:178px;background:linear-gradient(90deg,#ff8202 0.5px,#ff8202 92.5px,#ffaa2b 120.5px,#ffe667 148.5px,#ffff80 158.5px,#ffff80 177.5px)"></div><div class="r" style="left:46px;top:328px;width:178px;background:linear-gradient(90deg,#ff8000 0.5px,#ff8202 95.5px,#ffad2e 123.5px,#ffeb6c 151.5px,#ffff80 159.5px,#ffff80 177.5px)"></div><div class="r" style="left:46px;top:329px;width:178px;background:linear-gradient(90deg,#ff8000 0.5px,#ff8101 97.5px,#ffae2f 125.5px,#ffee6f 153.5px,#ffff80 160.5px,#ffff80 177.5px)"></div><div class="r" style="left:46px;top:330px;width:178px;background:linear-gradient(90deg,#ff8000 0.5px,#ff8202 100.5px,#ffb232 128.5px,#fff575 156.5px,#ffff80 161.5px,#ffff80 177.5px)"></div><div class="r" style="left:46px;top:331px;width:178px;background:linear-gradient(90deg,#ff8000 0.5px,#ff8202 102.5px,#ffb434 130.5px,#fff879 158.5px,#ffff80 162.5px,#ffff80 177.5px)"></div><div class="r" style="left:46px;top:332px;width:178px;background:linear-gradient(90deg,#ff8000 0.5px,#ff8202 104.5px,#ffb536 132.5px,#fffc7d 160.5px,#ffff80 168.5px,#ffff80 177.5px)"></div><div class="r" style="left:46px;top:333px;width:178px;background:linear-gradient(90deg,#ff8000 0.5px,#ff8202 106.5px,#ffb838 134.5px,#ffff80 162.5px,#ffff80 177.5px)"></div><div class="r" style="left:46px;top:334px;width:178px;background:linear-gradient(90deg,#ff8000 0.5px,#ff8202 108.5px,#ffba3a 136.5px,#ffff80 163.5px,#ffff80 177.5px)"></div><div class="r" style="left:46px;top:335px;width:178px;background:linear-gradient(90deg,#ff8000 0.5px,#ff8101 109.5px,#ffba3a 137.5px,#ffff80 163.5px,#ffff80 177.5px)"></div><div class="r" style="left:46px;top:336px;width:178px;background:linear-gradient(90deg,#ff8000 0.5px,#ff8202 111.5px,#ffbc3d 139.5px,#ffff80 164.5px,#ffff80 177.5px)"></div><div class="r" style="left:46px;top:337px;width:178px;background:linear-gradient(90deg,#ff8000 0.5px,#ff8202 113.5px,#ffbf3f 141.5px,#ffff80 165.5px,#ffff80 177.5px)"></div><div class="r" style="left:46px;top:338px;width:178px;background:linear-gradient(90deg,#ff8000 0.5px,#ff8202 114.5px,#ffbf40 142.5px,#ffff80 165.5px,#ffff80 177.5px)"></div><div class="r" style="left:46px;top:339px;width:178px;background:linear-gradient(90deg,#ff8000 0.5px,#ff8101 115.5px,#ffc040 143.5px,#ffff80 166.5px,#ffff80 177.5px)"></div><div class="r" style="left:46px;top:340px;width:178px;background:linear-gradient(90deg,#ff8000 0.5px,#ff8202 117.5px,#ffc343 145.5px,#ffff80 166.5px,#ffff80 177.5px)"></div><div class="r" style="left:46px;top:341px;width:178px;background:linear-gradient(90deg,#ff8000 0.5px,#ff8101 118.5px,#ffc344 146.5px,#ffff80 167.5px,#ffff80 177.5px)"></div><div class="r" style="left:46px;top:342px;width:178px;background:linear-gradient(90deg,#ff8000 0.5px,#ff8203 120.5px,#ffc747 148.5px,#ffff80 167.5px,#ffff80 177.5px)"></div><div class="r" style="left:46px;top:343px;width:178px;background:linear-gradient(90deg,#ff8000 0.5px,#ff8202 121.5px,#ffc748 149.5px,#ffff80 168.5px,#ffff80 177.5px)"></div><div class="r" style="left:46px;top:344px;width:178px;background:linear-gradient(90deg,#ff8000 0.5px,#ff8101 122.5px,#ffc849 150.5px,#ffff80 168.5px,#ffff80 177.5px)"></div><div class="r" style="left:46px;top:345px;width:178px;background:linear-gradient(90deg,#ff8000 0.5px,#ff8101 123.5px,#ffc949 151.5px,#ffff80 169.5px,#ffff80 177.5px)"></div><div class="r" style="left:46px;top:346px;width:178px;background:linear-gradient(90deg,#ff8000 0.5px,#ff8101 124.5px,#ffca4a 152.5px,#ffff80 169.5px,#ffff80 177.5px)"></div><div class="r" style="left:46px;top:347px;width:178px;background:linear-gradient(90deg,#ff8000 0.5px,#ff8000 125.5px,#ffcb4b 153.5px,#ffff80 170.5px,#ffff80 177.5px)"></div><div class="r" style="left:46px;top:348px;width:178px;background:linear-gradient(90deg,#ff8000 0.5px,#ff8303 127.5px,#ffcf4f 155.5px,#ffff80 170.5px,#ffff80 177.5px)"></div><div class="r" style="left:46px;top:349px;width:178px;background:linear-gradient(90deg,#ff8000 0.5px,#ff8202 128.5px,#ffd050 156.5px,#ffff80 171.5px,#ffff80 177.5px)"></div><div class="r" style="left:46px;top:350px;width:178px;background:linear-gradient(90deg,#ff8000 0.5px,#ff8202 129.5px,#ffd152 157.5px,#ffff80 171.5px,#ffff80 177.5px)"></div><div class="r" style="left:46px;top:351px;width:178px;background:linear-gradient(90deg,#ff8000 0.5px,#ff8202 130.5px,#ffd253 158.5px,#ffff80 172.5px,#ffff80 177.5px)"></div><div class="r" style="left:46px;top:352px;width:178px;background:linear-gradient(90deg,#ff8000 0.5px,#ff8202 131.5px,#ffd454 159.5px,#ffff80 172.5px,#ffff80 177.5px)"></div><div class="r" style="left:46px;top:353px;width:178px;background:linear-gradient(90deg,#ff8000 0.5px,#ff8203 132.5px,#ffd556 160.5px,#ffff80 173.5px,#ffff80 177.5px)"></div><div class="r" style="left:46px;top:354px;width:178px;background:linear-gradient(90deg,#ff8000 0.5px,#ff8000 132.5px,#ffd354 160.5px,#ffff80 173.5px,#ffff80 177.5px)"></div><div class="r" style="left:46px;top:355px;width:178px;background:linear-gradient(90deg,#ff8000 0.5px,#ff8000 133.5px,#ffd455 161.5px,#fffe7f 173.5px,#ffff80 177.5px)"></div><div class="r" style="left:46px;top:356px;width:178px;background:linear-gradient(90deg,#ff8000 0.5px,#ff8101 134.5px,#ffd657 162.5px,#ffff80 174.5px,#ffff80 177.5px)"></div><div class="r" style="left:46px;top:357px;width:178px;background:linear-gradient(90deg,#fe7f00 0.5px,#fa7b00 30.5px,#ff8000 59.5px,#ff8101 135.5px,#ffd858 163.5px,#ffff80 174.5px,#ffff80 177.5px)"></div><div class="r" style="left:46px;top:358px;width:178px;background:linear-gradient(90deg,#f97a00 0.5px,#f67700 30.5px,#ff8000 58.5px,#ff8101 136.5px,#ffd95a 164.5px,#ffff80 175.5px,#ffff80 177.5px)"></div><div class="r" style="left:46px;top:359px;width:178px;background:linear-gradient(90deg,#f57600 0.5px,#f27300 30.5px,#ff8000 61.5px,#ff8202 137.5px,#ffdb5c 165.5px,#ffff80 175.5px,#ffff80 177.5px)"></div><div class="r" style="left:46px;top:360px;width:178px;background:linear-gradient(90deg,#f07100 0.5px,#ee6f00 30.5px,#ff8000 65.5px,#ff8202 138.5px,#ffdd5d 166.5px,#ffff80 176.5px,#ffff80 177.5px)"></div><div class="r" style="left:46px;top:361px;width:178px;background:linear-gradient(90deg,#ec6c00 0.5px,#ea6b00 30.5px,#fc7d00 60.5px,#ff8000 79.5px,#ff8000 138.5px,#ffdb5c 166.5px,#ffff80 176.5px,#ffff80 177.5px)"></div><div class="r" style="left:46px;top:362px;width:178px;background:linear-gradient(90deg,#e76800 0.5px,#e66700 30.5px,#f87900 60.5px,#ff8000 71.5px,#ff8000 139.5px,#ffdd5d 167.5px,#fffe7f 176.5px,#ffff80 177.5px)"></div><div class="r" style="left:46px;top:363px;width:178px;background:linear-gradient(90deg,#e26300 0.5px,#e26300 30.5px,#f57600 60.5px,#ff8000 73.5px,#ff8101 140.5px,#ffdf5f 168.5px,#ffff80 177.5px)"></div><div class="r" style="left:46px;top:364px;width:178px;background:linear-gradient(90deg,#de5e00 0.5px,#de5f00 30.5px,#f17200 60.5px,#ff8000 75.5px,#ff8202 141.5px,#ffe161 169.5px,#ffff80 177.5px)"></div><div class="r" style="left:46px;top:365px;width:178px;background:linear-gradient(90deg,#d95a00 0.5px,#da5a00 30.5px,#ee6f00 60.5px,#ff8000 77.5px,#ff8000 141.5px,#ffdb5c 168.5px,#fffe7f 177.5px)"></div><div class="r" style="left:46px;top:366px;width:178px;background:linear-gradient(90deg,#d45500 0.5px,#d65600 30.5px,#ea6b00 60.5px,#ff8000 79.5px,#ff8000 142.5px,#ffe162 170.5px,#fffc7d 177.5px)"></div><div class="r" style="left:46px;top:367px;width:178px;background:linear-gradient(90deg,#d05000 0.5px,#d25200 30.5px,#e76800 60.5px,#ff8000 81.5px,#ff8101 143.5px,#ffe364 171.5px,#fffa7b 177.5px)"></div><div class="r" style="left:46px;top:368px;width:178px;background:linear-gradient(90deg,#cb4c00 0.5px,#ce4e00 30.5px,#e36400 60.5px,#ff8000 84.5px,#ff8202 144.5px,#ffe566 172.5px,#fff97a 177.5px)"></div><div class="r" style="left:46px;top:369px;width:178px;background:linear-gradient(90deg,#c74700 0.5px,#c94a00 30.5px,#e06000 60.5px,#ff8000 85.5px,#ff8000 144.5px,#ffe364 172.5px,#fff778 177.5px)"></div><div class="r" style="left:46px;top:370px;width:178px;background:linear-gradient(90deg,#c24200 0.5px,#c54600 30.5px,#dc5d00 60.5px,#ff8000 87.5px,#ff8101 145.5px,#ffe667 173.5px,#fff677 177.5px)"></div><div class="r" style="left:46px;top:371px;width:178px;background:linear-gradient(90deg,#bd3e00 0.5px,#c14200 30.5px,#d95900 60.5px,#ff8000 89.5px,#ff8202 146.5px,#ffe869 174.5px,#fff475 177.5px)"></div><div class="r" style="left:46px;top:372px;width:178px;background:linear-gradient(90deg,#b93900 0.5px,#bd3e00 30.5px,#d55600 60.5px,#ff8000 91.5px,#ff8000 146.5px,#ffe263 173.5px,#fff373 177.5px)"></div><div class="r" style="left:46px;top:373px;width:178px;background:linear-gradient(90deg,#b43400 0.5px,#b93a00 30.5px,#d25200 60.5px,#fd7e00 90.5px,#ff8101 147.5px,#ffe96a 175.5px,#fff172 177.5px)"></div><div class="r" style="left:46px;top:374px;width:178px;background:linear-gradient(90deg,#af3000 0.5px,#b53500 30.5px,#ce4f00 60.5px,#fa7b00 90.5px,#ff8000 96.5px,#ff8202 148.5px,#ffeb6c 176.5px,#ffef70 177.5px)"></div><div class="r" style="left:46px;top:375px;width:178px;background:linear-gradient(90deg,#ab2b00 0.5px,#b13100 30.5px,#ca4b00 60.5px,#f77800 90.5px,#ff8000 96.5px,#ff8000 148.5px,#ffea6a 176.5px,#ffee6f 177.5px)"></div><div class="r" style="left:46px;top:376px;width:178px;background:linear-gradient(90deg,#a62600 0.5px,#ad2d00 30.5px,#c74700 60.5px,#f47500 90.5px,#ff8000 97.5px,#ff8101 149.5px,#ffec6d 177.5px)"></div><div class="r" style="left:46px;top:377px;width:178px;background:linear-gradient(90deg,#a22200 0.5px,#a92900 30.5px,#c34400 60.5px,#f17200 90.5px,#ff8000 98.5px,#ff8303 150.5px,#ffeb6b 177.5px)"></div><div class="r" style="left:46px;top:378px;width:178px;background:linear-gradient(90deg,#9d1d00 0.5px,#a52500 30.5px,#c04000 60.5px,#ee6f00 90.5px,#ff8000 100.5px,#ff8000 150.5px,#ffe96a 177.5px)"></div><div class="r" style="left:46px;top:379px;width:178px;background:linear-gradient(90deg,#981800 0.5px,#a02100 30.5px,#bc3d00 60.5px,#eb6c00 90.5px,#ff8000 101.5px,#ff8202 151.5px,#ffe768 177.5px)"></div><div class="r" style="left:46px;top:380px;width:178px;background:linear-gradient(90deg,#941400 0.5px,#9c1d00 30.5px,#b93900 60.5px,#e86900 90.5px,#ff8000 102.5px,#ff8000 151.5px,#ffe667 177.5px)"></div><div class="r" style="left:46px;top:381px;width:178px;background:linear-gradient(90deg,#8f0f00 0.5px,#981800 30.5px,#b53500 60.5px,#e56600 90.5px,#ff8000 103.5px,#ff8101 152.5px,#ffe465 177.5px)"></div><div class="r" style="left:46px;top:382px;width:178px;background:linear-gradient(90deg,#8a0a00 0.5px,#941400 30.5px,#b23200 60.5px,#e26300 90.5px,#ff8000 105.5px,#ff8000 152.5px,#ffe363 177.5px)"></div><div class="r" style="left:46px;top:383px;width:178px;background:linear-gradient(90deg,#860600 0.5px,#901000 30.5px,#ae2e00 60.5px,#df6000 90.5px,#ff8000 106.5px,#ff8101 153.5px,#ffe162 177.5px)"></div><div class="r" style="left:46px;top:384px;width:178px;background:linear-gradient(90deg,#810100 0.5px,#8c0c00 30.5px,#aa2b00 60.5px,#dc5d00 90.5px,#ff8000 107.5px,#ff8202 154.5px,#ffdf60 177.5px)"></div><div class="r" style="left:46px;top:385px;width:178px;background:linear-gradient(90deg,#800000 0.5px,#830300 23.5px,#9e1e00 53.5px,#cc4c00 83.5px,#ff8000 108.5px,#ff8000 154.5px,#ffde5e 177.5px)"></div><div class="r" style="left:46px;top:386px;width:178px;background:linear-gradient(90deg,#800000 0.5px,#820200 28.5px,#a12100 58.5px,#d25300 88.5px,#ff8000 109.5px,#ff8202 155.5px,#ffdc5d 177.5px)"></div><div class="r" style="left:46px;top:387px;width:178px;background:linear-gradient(90deg,#800000 0.5px,#830300 34.5px,#a52600 64.5px,#dc5c00 94.5px,#ff8000 110.5px,#ff8000 155.5px,#ffda5b 177.5px)"></div><div class="r" style="left:46px;top:388px;width:178px;background:linear-gradient(90deg,#800000 0.5px,#820200 38.5px,#a82800 68.5px,#e16200 98.5px,#ff8000 111.5px,#ff8202 156.5px,#ffd95a 177.5px)"></div><div class="r" style="left:46px;top:389px;width:178px;background:linear-gradient(90deg,#800000 0.5px,#820200 42.5px,#ab2c00 72.5px,#e86800 102.5px,#ff8000 112.5px,#ff8000 156.5px,#ffd758 177.5px)"></div><div class="r" style="left:46px;top:390px;width:178px;background:linear-gradient(90deg,#800000 0.5px,#820200 45.5px,#ad2d00 75.5px,#ec6d00 105.5px,#ff8000 113.5px,#ff8202 157.5px,#ffd656 177.5px)"></div><div class="r" style="left:46px;top:391px;width:178px;background:linear-gradient(90deg,#800000 0.5px,#830300 49.5px,#b13100 79.5px,#f37400 109.5px,#ff8000 115.5px,#ff8000 157.5px,#ffd455 177.5px)"></div><div class="r" style="left:46px;top:392px;width:178px;background:linear-gradient(90deg,#800000 0.5px,#830300 52.5px,#b43400 82.5px,#f87900 112.5px,#ff8000 116.5px,#ff8202 158.5px,#ffd253 177.5px)"></div><div class="r" style="left:46px;top:393px;width:178px;background:linear-gradient(90deg,#800000 0.5px,#820200 54.5px,#b43500 84.5px,#fb7c00 114.5px,#ff8000 118.5px,#ff8000 158.5px,#ffd151 177.5px)"></div><div class="r" style="left:46px;top:394px;width:178px;background:linear-gradient(90deg,#800000 0.5px,#820200 57.5px,#b83800 87.5px,#ff8000 117.5px,#ff8202 159.5px,#ffcf50 177.5px)"></div><div class="r" style="left:46px;top:395px;width:178px;background:linear-gradient(90deg,#800000 0.5px,#810100 59.5px,#b93900 89.5px,#ff8000 118.5px,#ff8000 159.5px,#ffcd4e 177.5px)"></div><div class="r" style="left:46px;top:396px;width:178px;background:linear-gradient(90deg,#800000 0.5px,#810100 61.5px,#ba3a00 91.5px,#ff8000 119.5px,#ff8202 160.5px,#ffcc4c 177.5px)"></div><div class="r" style="left:46px;top:397px;width:178px;background:linear-gradient(90deg,#800000 0.5px,#820200 64.5px,#be3e00 94.5px,#ff8000 120.5px,#ff8000 160.5px,#ffca4b 177.5px)"></div><div class="r" style="left:46px;top:398px;width:178px;background:linear-gradient(90deg,#800000 0.5px,#820200 66.5px,#c04000 96.5px,#ff8000 121.5px,#ff8202 161.5px,#ffc949 177.5px)"></div><div class="r" style="left:46px;top:399px;width:178px;background:linear-gradient(90deg,#800000 0.5px,#820200 68.5px,#c14200 98.5px,#ff8000 121.5px,#ff8000 161.5px,#ffc747 177.5px)"></div><div class="r" style="left:46px;top:400px;width:178px;background:linear-gradient(90deg,#800000 0.5px,#820200 70.5px,#c34400 100.5px,#ff8000 122.5px,#ff8202 162.5px,#ffc546 177.5px)"></div><div class="r" style="left:46px;top:401px;width:178px;background:linear-gradient(90deg,#800000 0.5px,#810100 71.5px,#c34400 101.5px,#ff8000 123.5px,#ff8000 162.5px,#ffc444 177.5px)"></div><div class="r" style="left:46px;top:402px;width:178px;background:linear-gradient(90deg,#800000 0.5px,#810100 73.5px,#c54600 103.5px,#ff8000 124.5px,#ff8000 162.5px,#ffc242 177.5px)"></div><div class="r" style="left:46px;top:403px;width:178px;background:linear-gradient(90deg,#800000 0.5px,#820200 75.5px,#c84800 105.5px,#ff8000 125.5px,#ff8101 163.5px,#ffc041 177.5px)"></div><div class="r" style="left:46px;top:404px;width:178px;background:linear-gradient(90deg,#800000 0.5px,#810100 76.5px,#c84800 106.5px,#ff8000 125.5px,#ff8000 163.5px,#ffbf3f 177.5px)"></div><div class="r" style="left:46px;top:405px;width:178px;background:linear-gradient(90deg,#800000 0.5px,#810100 78.5px,#ca4b00 108.5px,#ff8000 126.5px,#ff8101 164.5px,#ffbd3d 177.5px)"></div><div class="r" style="left:46px;top:406px;width:178px;background:linear-gradient(90deg,#800000 0.5px,#820200 80.5px,#cd4e00 110.5px,#ff8000 127.5px,#ff8000 164.5px,#ffbb3c 177.5px)"></div><div class="r" style="left:46px;top:407px;width:178px;background:linear-gradient(90deg,#800000 0.5px,#810100 81.5px,#cd4e00 111.5px,#ff8000 128.5px,#ff8202 165.5px,#ffba3a 177.5px)"></div><div class="r" style="left:46px;top:408px;width:178px;background:linear-gradient(90deg,#800000 0.5px,#800000 82.5px,#ce4e00 112.5px,#ff8000 128.5px,#ff8000 165.5px,#ffb838 177.5px)"></div><div class="r" style="left:46px;top:409px;width:178px;background:linear-gradient(90deg,#800000 0.5px,#820200 84.5px,#d15100 114.5px,#ff8000 129.5px,#ff8000 165.5px,#ffb637 177.5px)"></div><div class="r" style="left:46px;top:410px;width:178px;background:linear-gradient(90deg,#800000 0.5px,#810100 85.5px,#d15200 115.5px,#ff8000 130.5px,#ff8101 166.5px,#ffb535 177.5px)"></div><div class="r" style="left:46px;top:411px;width:178px;background:linear-gradient(90deg,#800000 0.5px,#830300 87.5px,#d55500 117.5px,#ff8000 131.5px,#ff8000 166.5px,#ffb333 177.5px)"></div><div class="r" style="left:46px;top:412px;width:178px;background:linear-gradient(90deg,#800000 0.5px,#820200 88.5px,#d55600 118.5px,#ff8000 131.5px,#ff8202 167.5px,#ffb132 177.5px)"></div><div class="r" style="left:46px;top:413px;width:178px;background:linear-gradient(90deg,#800000 0.5px,#810100 89.5px,#d65600 119.5px,#ff8000 132.5px,#ff8000 167.5px,#ffb030 177.5px)"></div><div class="r" style="left:46px;top:414px;width:178px;background:linear-gradient(90deg,#800000 0.5px,#810100 90.5px,#d65700 120.5px,#ff8000 133.5px,#ff8303 168.5px,#ffae2e 177.5px)"></div><div class="r" style="left:274px;top:238px;width:178px;background:linear-gradient(90deg,#ff9818 0.5px,#ff8000 20.5px,#ff8202 114.5px,#ffac2d 143.5px,#ffea6b 172.5px,#fff778 177.5px)"></div><div class="r" style="left:274px;top:239px;width:178px;background:linear-gradient(90deg,#ff9819 0.5px,#ff8000 20.5px,#ff8303 114.5px,#ffad2e 143.5px,#ffeb6c 172.5px,#fff879 177.5px)"></div><div class="r" style="left:274px;top:240px;width:178px;background:linear-gradient(90deg,#ff9919 0.5px,#ff8000 20.5px,#ff8202 113.5px,#ffac2d 142.5px,#ffea6b 171.5px,#fff97a 177.5px)"></div><div class="r" style="left:274px;top:241px;width:178px;background:linear-gradient(90deg,#ff9919 0.5px,#ff8000 21.5px,#ff8202 112.5px,#ffab2c 141.5px,#ffe869 170.5px,#fffa7b 177.5px)"></div><div class="r" style="left:274px;top:242px;width:178px;background:linear-gradient(90deg,#ff9919 0.5px,#ff8000 21.5px,#ff8202 112.5px,#ffac2c 141.5px,#ffe96a 170.5px,#fffb7c 177.5px)"></div><div class="r" style="left:274px;top:243px;width:178px;background:linear-gradient(90deg,#ff9919 0.5px,#ff8000 21.5px,#ff8202 111.5px,#ffab2b 140.5px,#ffe868 169.5px,#fffc7d 177.5px)"></div><div class="r" style="left:274px;top:244px;width:178px;background:linear-gradient(90deg,#ff9919 0.5px,#ff8000 21.5px,#ff8202 111.5px,#ffac2c 140.5px,#ffe969 169.5px,#fffd7e 177.5px)"></div><div class="r" style="left:274px;top:245px;width:178px;background:linear-gradient(90deg,#ff9919 0.5px,#ff8000 21.5px,#ff8202 110.5px,#ffab2b 139.5px,#ffe768 168.5px,#fffe7f 177.5px)"></div><div class="r" style="left:274px;top:246px;width:178px;background:linear-gradient(90deg,#ff9919 0.5px,#ff8000 21.5px,#ff8202 109.5px,#ffaa2a 138.5px,#ffe566 167.5px,#ffff80 177.5px)"></div><div class="r" style="left:274px;top:247px;width:178px;background:linear-gradient(90deg,#ff9919 0.5px,#ff8000 22.5px,#ff8202 109.5px,#ffaa2b 138.5px,#ffe667 167.5px,#ffff80 177.5px)"></div><div class="r" style="left:274px;top:248px;width:178px;background:linear-gradient(90deg,#ff9919 0.5px,#ff8000 22.5px,#ff8202 108.5px,#ffa92a 137.5px,#ffe566 166.5px,#ffff80 177.5px)"></div><div class="r" style="left:274px;top:249px;width:178px;background:linear-gradient(90deg,#ff991a 0.5px,#ff8000 22.5px,#ff8202 108.5px,#ffaa2b 137.5px,#ffe667 166.5px,#ffff80 177.5px)"></div><div class="r" style="left:274px;top:250px;width:178px;background:linear-gradient(90deg,#ff991a 0.5px,#ff8000 22.5px,#ff8202 107.5px,#ffa92a 136.5px,#ffe465 165.5px,#ffff80 176.5px,#ffff80 177.5px)"></div><div class="r" style="left:274px;top:251px;width:178px;background:linear-gradient(90deg,#ff991a 0.5px,#ff8000 22.5px,#ff8202 107.5px,#ffaa2a 136.5px,#ffe566 165.5px,#ffff80 176.5px,#ffff80 177.5px)"></div><div class="r" style="left:274px;top:252px;width:178px;background:linear-gradient(90deg,#ff9a1a 0.5px,#ff8000 22.5px,#ff8202 106.5px,#ffa929 135.5px,#ffe464 164.5px,#ffff80 176.5px,#ffff80 177.5px)"></div><div class="r" style="left:274px;top:253px;width:178px;background:linear-gradient(90deg,#ff9a1a 0.5px,#ff8000 23.5px,#ff8303 106.5px,#ffaa2a 135.5px,#ffe465 164.5px,#ffff80 175.5px,#ffff80 177.5px)"></div><div class="r" style="left:274px;top:254px;width:178px;background:linear-gradient(90deg,#ff9a1a 0.5px,#ff8000 23.5px,#ff8202 105.5px,#ffa929 134.5px,#ffe364 163.5px,#ffff80 175.5px,#ffff80 177.5px)"></div><div class="r" style="left:274px;top:255px;width:178px;background:linear-gradient(90deg,#ff9a1a 0.5px,#ff8000 23.5px,#ff8202 104.5px,#ffa828 133.5px,#ffe162 162.5px,#ffff80 175.5px,#ffff80 177.5px)"></div><div class="r" style="left:274px;top:256px;width:178px;background:linear-gradient(90deg,#ff9a1a 0.5px,#ff8000 23.5px,#ff8202 104.5px,#ffa829 133.5px,#ffe263 162.5px,#ffff80 174.5px,#ffff80 177.5px)"></div><div class="r" style="left:274px;top:257px;width:178px;background:linear-gradient(90deg,#ff9a1a 0.5px,#ff8000 23.5px,#ff8202 103.5px,#ffa728 132.5px,#ffe161 161.5px,#ffff80 174.5px,#ffff80 177.5px)"></div><div class="r" style="left:274px;top:258px;width:178px;background:linear-gradient(90deg,#ff9a1a 0.5px,#ff8000 23.5px,#ff8202 103.5px,#ffa828 132.5px,#ffe162 161.5px,#ffff80 174.5px,#ffff80 177.5px)"></div><div class="r" style="left:274px;top:259px;width:178px;background:linear-gradient(90deg,#ff9a1a 0.5px,#ff8000 23.5px,#ff8202 102.5px,#ffa727 131.5px,#ffe061 160.5px,#ffff80 173.5px,#ffff80 177.5px)"></div><div class="r" style="left:274px;top:260px;width:178px;background:linear-gradient(90deg,#ff9a1a 0.5px,#ff8000 24.5px,#ff8202 102.5px,#ffa828 131.5px,#ffe162 160.5px,#ffff80 173.5px,#ffff80 177.5px)"></div><div class="r" style="left:274px;top:261px;width:178px;background:linear-gradient(90deg,#ff9a1a 0.5px,#ff8000 24.5px,#ff8202 101.5px,#ffa727 130.5px,#ffdf60 159.5px,#ffff80 173.5px,#ffff80 177.5px)"></div><div class="r" style="left:274px;top:262px;width:178px;background:linear-gradient(90deg,#ff9a1a 0.5px,#ff8000 24.5px,#ff8202 101.5px,#ffa728 130.5px,#ffe061 159.5px,#ffff80 172.5px,#ffff80 177.5px)"></div><div class="r" style="left:274px;top:263px;width:178px;background:linear-gradient(90deg,#ff9a1a 0.5px,#ff8000 24.5px,#ff8202 100.5px,#ffa627 129.5px,#ffdf5f 158.5px,#ffff80 172.5px,#ffff80 177.5px)"></div><div class="r" style="left:274px;top:264px;width:178px;background:linear-gradient(90deg,#ff9a1a 0.5px,#ff8000 24.5px,#ff8202 100.5px,#ffa727 129.5px,#ffdf60 158.5px,#ffff80 172.5px,#ffff80 177.5px)"></div><div class="r" style="left:274px;top:265px;width:178px;background:linear-gradient(90deg,#ff9a1a 0.5px,#ff8000 24.5px,#ff8202 99.5px,#ffa626 128.5px,#ffde5f 157.5px,#ffff80 171.5px,#ffff80 177.5px)"></div><div class="r" style="left:274px;top:266px;width:178px;background:linear-gradient(90deg,#ff9a1a 0.5px,#ff8000 24.5px,#ff8203 99.5px,#ffa727 128.5px,#ffdf5f 157.5px,#ffff80 171.5px,#ffff80 177.5px)"></div><div class="r" style="left:274px;top:267px;width:178px;background:linear-gradient(90deg,#ff9a1a 0.5px,#ff8000 24.5px,#ff8202 98.5px,#ffa626 127.5px,#ffdd5e 156.5px,#ffff80 171.5px,#ffff80 177.5px)"></div><div class="r" style="left:274px;top:268px;width:178px;background:linear-gradient(90deg,#ff9a1a 0.5px,#ff8000 24.5px,#ff8303 98.5px,#ffa627 127.5px,#ffde5f 156.5px,#ffff80 171.5px,#ffff80 177.5px)"></div><div class="r" style="left:274px;top:269px;width:178px;background:linear-gradient(90deg,#ff9a1a 0.5px,#ff8000 25.5px,#ff8202 97.5px,#ffa526 126.5px,#ffdc5d 155.5px,#ffff80 170.5px,#ffff80 177.5px)"></div><div class="r" style="left:274px;top:270px;width:178px;background:linear-gradient(90deg,#ff9a1a 0.5px,#ff8000 25.5px,#ff8303 97.5px,#ffa626 126.5px,#ffdd5e 155.5px,#ffff80 170.5px,#ffff80 177.5px)"></div><div class="r" style="left:274px;top:271px;width:178px;background:linear-gradient(90deg,#ff9a1a 0.5px,#ff8000 25.5px,#ff8202 96.5px,#ffa525 125.5px,#ffdb5c 154.5px,#ffff80 170.5px,#ffff80 177.5px)"></div><div class="r" style="left:274px;top:272px;width:178px;background:linear-gradient(90deg,#ff9a1a 0.5px,#ff8000 25.5px,#ff8303 96.5px,#ffa626 125.5px,#ffdc5d 154.5px,#ffff80 169.5px,#ffff80 177.5px)"></div><div class="r" style="left:274px;top:273px;width:178px;background:linear-gradient(90deg,#ff9a1a 0.5px,#ff8000 25.5px,#ff8202 95.5px,#ffa525 124.5px,#ffdb5b 153.5px,#ffff80 169.5px,#ffff80 177.5px)"></div><div class="r" style="left:274px;top:274px;width:178px;background:linear-gradient(90deg,#ff9a1a 0.5px,#ff8000 25.5px,#ff8303 95.5px,#ffa526 124.5px,#ffdb5c 153.5px,#ffff80 169.5px,#ffff80 177.5px)"></div><div class="r" style="left:274px;top:275px;width:178px;background:linear-gradient(90deg,#ff9a1a 0.5px,#ff8000 25.5px,#ff8202 94.5px,#ffa425 123.5px,#ffda5b 152.5px,#ffff80 168.5px,#ffff80 177.5px)"></div><div class="r" style="left:274px;top:276px;width:178px;background:linear-gradient(90deg,#ff9a1a 0.5px,#ff8000 25.5px,#ff8303 94.5px,#ffa525 123.5px,#ffdb5b 152.5px,#ffff80 168.5px,#ffff80 177.5px)"></div><div class="r" style="left:274px;top:277px;width:178px;background:linear-gradient(90deg,#ff9a1a 0.5px,#ff8000 25.5px,#ff8202 93.5px,#ffa424 122.5px,#ffd95a 151.5px,#ffff80 168.5px,#ffff80 177.5px)"></div><div class="r" style="left:274px;top:278px;width:178px;background:linear-gradient(90deg,#ff9a1a 0.5px,#ff8000 25.5px,#ff8203 93.5px,#ffa425 122.5px,#ffda5a 151.5px,#ffff80 168.5px,#ffff80 177.5px)"></div><div class="r" style="left:274px;top:279px;width:178px;background:linear-gradient(90deg,#ff9a1a 0.5px,#ff8000 25.5px,#ff8202 92.5px,#ffa324 121.5px,#ffd859 150.5px,#ffff80 167.5px,#ffff80 177.5px)"></div><div class="r" style="left:274px;top:280px;width:178px;background:linear-gradient(90deg,#ff9a1a 0.5px,#ff8000 26.5px,#ff8202 92.5px,#ffa424 121.5px,#ffd95a 150.5px,#ffff80 167.5px,#ffff80 177.5px)"></div><div class="r" style="left:274px;top:281px;width:178px;background:linear-gradient(90deg,#ff991a 0.5px,#ff8000 26.5px,#ff8202 91.5px,#ffa323 120.5px,#ffd758 149.5px,#ffff80 167.5px,#ffff80 177.5px)"></div><div class="r" style="left:274px;top:282px;width:178px;background:linear-gradient(90deg,#ff991a 0.5px,#ff8000 26.5px,#ff8202 91.5px,#ffa324 120.5px,#ffd859 149.5px,#ffff80 166.5px,#ffff80 177.5px)"></div><div class="r" style="left:274px;top:283px;width:178px;background:linear-gradient(90deg,#ff991a 0.5px,#ff8000 26.5px,#ff8202 90.5px,#ffa323 119.5px,#ffd757 148.5px,#ffff80 166.5px,#ffff80 177.5px)"></div><div class="r" style="left:274px;top:284px;width:178px;background:linear-gradient(90deg,#ff9919 0.5px,#ff8000 26.5px,#ff8202 90.5px,#ffa323 119.5px,#ffd758 148.5px,#ffff80 166.5px,#ffff80 177.5px)"></div><div class="r" style="left:274px;top:285px;width:178px;background:linear-gradient(90deg,#ff9919 0.5px,#ff8000 26.5px,#ff8202 89.5px,#ffa222 118.5px,#ffd656 147.5px,#ffff80 166.5px,#ffff80 177.5px)"></div><div class="r" style="left:274px;top:286px;width:178px;background:linear-gradient(90deg,#ff9919 0.5px,#ff8000 26.5px,#ff8202 89.5px,#ffa323 118.5px,#ffd657 147.5px,#ffff80 165.5px,#ffff80 177.5px)"></div><div class="r" style="left:274px;top:287px;width:178px;background:linear-gradient(90deg,#ff9919 0.5px,#ff8000 26.5px,#ff8303 89.5px,#ffa323 118.5px,#ffd758 147.5px,#ffff80 165.5px,#ffff80 177.5px)"></div><div class="r" style="left:274px;top:288px;width:178px;background:linear-gradient(90deg,#ff9919 0.5px,#ff8000 26.5px,#ff8202 88.5px,#ffa222 117.5px,#ffd556 146.5px,#ffff80 165.5px,#ffff80 177.5px)"></div><div class="r" style="left:274px;top:289px;width:178px;background:linear-gradient(90deg,#ff9919 0.5px,#ff8000 26.5px,#ff8202 88.5px,#ffa323 117.5px,#ffd657 146.5px,#ffff80 164.5px,#ffff80 177.5px)"></div><div class="r" style="left:274px;top:290px;width:178px;background:linear-gradient(90deg,#ff9919 0.5px,#ff8000 26.5px,#ff8202 87.5px,#ffa222 116.5px,#ffd555 145.5px,#ffff80 164.5px,#ffff80 177.5px)"></div><div class="r" style="left:274px;top:291px;width:178px;background:linear-gradient(90deg,#ff9919 0.5px,#ff8000 26.5px,#ff8202 87.5px,#ffa222 116.5px,#ffd556 145.5px,#ffff80 164.5px,#ffff80 177.5px)"></div><div class="r" style="left:274px;top:292px;width:178px;background:linear-gradient(90deg,#ff9919 0.5px,#ff8000 26.5px,#ff8202 86.5px,#ffa121 115.5px,#ffd454 144.5px,#ffff80 164.5px,#ffff80 177.5px)"></div><div class="r" style="left:274px;top:293px;width:178px;background:linear-gradient(90deg,#ff9819 0.5px,#ff8000 26.5px,#ff8202 86.5px,#ffa122 115.5px,#ffd455 144.5px,#ffff80 163.5px,#ffff80 177.5px)"></div><div class="r" style="left:274px;top:294px;width:178px;background:linear-gradient(90deg,#ff9819 0.5px,#ff8000 26.5px,#ff8303 86.5px,#ffa222 115.5px,#ffd555 144.5px,#ffff80 163.5px,#ffff80 177.5px)"></div><div class="r" style="left:274px;top:295px;width:178px;background:linear-gradient(90deg,#ff9818 0.5px,#ff8000 26.5px,#ff8202 85.5px,#ffa121 114.5px,#ffd354 143.5px,#ffff80 163.5px,#ffff80 177.5px)"></div><div class="r" style="left:274px;top:296px;width:178px;background:linear-gradient(90deg,#ff9818 0.5px,#ff8000 26.5px,#ff8202 85.5px,#ffa122 114.5px,#ffd455 143.5px,#ffff80 163.5px,#ffff80 177.5px)"></div><div class="r" style="left:274px;top:297px;width:178px;background:linear-gradient(90deg,#ff9818 0.5px,#ff8000 26.5px,#ff8303 85.5px,#ffa222 114.5px,#ffd455 143.5px,#ffff80 162.5px,#ffff80 177.5px)"></div><div class="r" style="left:274px;top:298px;width:178px;background:linear-gradient(90deg,#ff9818 0.5px,#ff8000 26.5px,#ff8202 84.5px,#ffa121 113.5px,#ffd354 142.5px,#ffff80 162.5px,#ffff80 177.5px)"></div><div class="r" style="left:274px;top:299px;width:178px;background:linear-gradient(90deg,#ff9818 0.5px,#ff8000 26.5px,#ff8202 84.5px,#ffa121 113.5px,#ffd354 142.5px,#ffff80 162.5px,#ffff80 177.5px)"></div><div class="r" style="left:274px;top:300px;width:178px;background:linear-gradient(90deg,#ff9818 0.5px,#ff8000 26.5px,#ff8202 83.5px,#ffa020 112.5px,#ffd253 141.5px,#ffff80 162.5px,#ffff80 177.5px)"></div><div class="r" style="left:274px;top:301px;width:178px;background:linear-gradient(90deg,#ff9718 0.5px,#ff8000 26.5px,#ff8202 83.5px,#ffa121 112.5px,#ffd253 141.5px,#ffff80 161.5px,#ffff80 177.5px)"></div><div class="r" style="left:274px;top:302px;width:178px;background:linear-gradient(90deg,#ff9717 0.5px,#ff8000 26.5px,#ff8303 83.5px,#ffa121 112.5px,#ffd354 141.5px,#ffff80 161.5px,#ffff80 177.5px)"></div><div class="r" style="left:274px;top:303px;width:178px;background:linear-gradient(90deg,#ff9717 0.5px,#ff8000 26.5px,#ff8202 82.5px,#ffa020 111.5px,#ffd152 140.5px,#ffff80 161.5px,#ffff80 177.5px)"></div><div class="r" style="left:274px;top:304px;width:178px;background:linear-gradient(90deg,#ff9717 0.5px,#ff8000 26.5px,#ff8202 82.5px,#ffa021 111.5px,#ffd253 140.5px,#ffff80 161.5px,#ffff80 177.5px)"></div><div class="r" style="left:274px;top:305px;width:178px;background:linear-gradient(90deg,#ff9717 0.5px,#ff8000 26.5px,#ff8303 82.5px,#ffa121 111.5px,#ffd253 140.5px,#ffff80 160.5px,#ffff80 177.5px)"></div><div class="r" style="left:274px;top:306px;width:178px;background:linear-gradient(90deg,#ff9717 0.5px,#ff8000 26.5px,#ff8202 81.5px,#ffa020 110.5px,#ffd152 139.5px,#ffff80 160.5px,#ffff80 177.5px)"></div><div class="r" style="left:274px;top:307px;width:178px;background:linear-gradient(90deg,#ff9717 0.5px,#ff8000 26.5px,#ff8202 81.5px,#ffa020 110.5px,#ffd152 139.5px,#ffff80 160.5px,#ffff80 177.5px)"></div><div class="r" style="left:274px;top:308px;width:178px;background:linear-gradient(90deg,#ff9617 0.5px,#ff8000 26.5px,#ff8303 81.5px,#ffa021 110.5px,#ffd253 139.5px,#ffff80 160.5px,#ffff80 177.5px)"></div><div class="r" style="left:274px;top:309px;width:178px;background:linear-gradient(90deg,#ff9616 0.5px,#ff8000 26.5px,#ff8303 81.5px,#ffa121 110.5px,#ffd253 139.5px,#ffff80 159.5px,#ffff80 177.5px)"></div><div class="r" style="left:274px;top:310px;width:178px;background:linear-gradient(90deg,#ff9616 0.5px,#ff8000 26.5px,#ff8202 80.5px,#ffa020 109.5px,#ffd152 138.5px,#ffff80 159.5px,#ffff80 177.5px)"></div><div class="r" style="left:274px;top:311px;width:178px;background:linear-gradient(90deg,#ff9616 0.5px,#ff8000 26.5px,#ff8202 80.5px,#ffa020 109.5px,#ffd152 138.5px,#ffff80 159.5px,#ffff80 177.5px)"></div><div class="r" style="left:274px;top:312px;width:178px;background:linear-gradient(90deg,#ff9616 0.5px,#ff8000 26.5px,#ff8303 80.5px,#ffa021 109.5px,#ffd252 138.5px,#ffff80 159.5px,#ffff80 177.5px)"></div><div class="r" style="left:274px;top:313px;width:178px;background:linear-gradient(90deg,#ff9516 0.5px,#ff8000 26.5px,#ff8202 79.5px,#ff9f20 108.5px,#ffd051 137.5px,#ffff80 158.5px,#ffff80 177.5px)"></div><div class="r" style="left:274px;top:314px;width:178px;background:linear-gradient(90deg,#ff9515 0.5px,#ff8000 25.5px,#ff8202 79.5px,#ffa020 108.5px,#ffd151 137.5px,#ffff80 158.5px,#ffff80 177.5px)"></div><div class="r" style="left:274px;top:315px;width:178px;background:linear-gradient(90deg,#ff9515 0.5px,#ff8000 25.5px,#ff8303 79.5px,#ffa020 108.5px,#ffd152 137.5px,#ffff80 158.5px,#ffff80 177.5px)"></div><div class="r" style="left:274px;top:316px;width:178px;background:linear-gradient(90deg,#ff9515 0.5px,#ff8000 25.5px,#ff8303 79.5px,#ffa021 108.5px,#ffd252 137.5px,#ffff80 158.5px,#ffff80 177.5px)"></div><div class="r" style="left:274px;top:317px;width:178px;background:linear-gradient(90deg,#ff9515 0.5px,#ff8000 25.5px,#ff8202 78.5px,#ff9f20 107.5px,#ffd051 136.5px,#ffff80 158.5px,#ffff80 177.5px)"></div><div class="r" style="left:274px;top:318px;width:178px;background:linear-gradient(90deg,#ff9415 0.5px,#ff8000 25.5px,#ff8202 78.5px,#ffa020 107.5px,#ffd151 136.5px,#ffff80 157.5px,#ffff80 177.5px)"></div><div class="r" style="left:274px;top:319px;width:178px;background:linear-gradient(90deg,#ff9414 0.5px,#ff8000 25.5px,#ff8203 78.5px,#ffa020 107.5px,#ffd152 136.5px,#ffff80 157.5px,#ffff80 177.5px)"></div><div class="r" style="left:274px;top:320px;width:178px;background:linear-gradient(90deg,#ff9414 0.5px,#ff8000 25.5px,#ff8303 78.5px,#ffa020 107.5px,#ffd152 136.5px,#ffff80 157.5px,#ffff80 177.5px)"></div><div class="r" style="left:274px;top:321px;width:178px;background:linear-gradient(90deg,#ff9414 0.5px,#ff8000 25.5px,#ff8202 77.5px,#ff9f1f 106.5px,#ffd050 135.5px,#ffff80 157.5px,#ffff80 177.5px)"></div><div class="r" style="left:274px;top:322px;width:178px;background:linear-gradient(90deg,#ff9414 0.5px,#ff8000 25.5px,#ff8202 77.5px,#ff9f20 106.5px,#ffd051 135.5px,#ffff80 157.5px,#ffff80 177.5px)"></div><div class="r" style="left:274px;top:323px;width:178px;background:linear-gradient(90deg,#ff9313 0.5px,#ff8000 24.5px,#ff8202 77.5px,#ffa020 106.5px,#ffd151 135.5px,#ffff80 156.5px,#ffff80 177.5px)"></div><div class="r" style="left:274px;top:324px;width:178px;background:linear-gradient(90deg,#ff9313 0.5px,#ff8000 24.5px,#ff8303 77.5px,#ffa020 106.5px,#ffd152 135.5px,#ffff80 156.5px,#ffff80 177.5px)"></div><div class="r" style="left:274px;top:325px;width:178px;background:linear-gradient(90deg,#ff9313 0.5px,#ff8000 24.5px,#ff8303 77.5px,#ffa021 106.5px,#ffd152 135.5px,#ffff80 156.5px,#ffff80 177.5px)"></div><div class="r" style="left:274px;top:326px;width:178px;background:linear-gradient(90deg,#ff9313 0.5px,#ff8000 24.5px,#ff8202 76.5px,#ff9f1f 105.5px,#ffd050 134.5px,#ffff80 156.5px,#ffff80 177.5px)"></div><div class="r" style="left:274px;top:327px;width:178px;background:linear-gradient(90deg,#ff9212 0.5px,#ff8000 24.5px,#ff8202 76.5px,#ff9f20 105.5px,#ffd051 134.5px,#ffff80 156.5px,#ffff80 177.5px)"></div><div class="r" style="left:274px;top:328px;width:178px;background:linear-gradient(90deg,#ff9212 0.5px,#ff8000 24.5px,#ff8202 76.5px,#ffa020 105.5px,#ffd151 134.5px,#ffff80 155.5px,#ffff80 177.5px)"></div><div class="r" style="left:274px;top:329px;width:178px;background:linear-gradient(90deg,#ff9212 0.5px,#ff8000 23.5px,#ff8202 76.5px,#ffa020 105.5px,#ffd152 134.5px,#ffff80 155.5px,#ffff80 177.5px)"></div><div class="r" style="left:274px;top:330px;width:178px;background:linear-gradient(90deg,#ff9212 0.5px,#ff8000 23.5px,#ff8303 76.5px,#ffa020 105.5px,#ffd152 134.5px,#ffff80 155.5px,#ffff80 177.5px)"></div><div class="r" style="left:274px;top:331px;width:178px;background:linear-gradient(90deg,#ff9111 0.5px,#ff8000 23.5px,#ff8303 76.5px,#ffa021 105.5px,#ffd252 134.5px,#ffff80 155.5px,#ffff80 177.5px)"></div><div class="r" style="left:274px;top:332px;width:178px;background:linear-gradient(90deg,#ff9111 0.5px,#ff8000 23.5px,#ff8303 76.5px,#ffa121 105.5px,#ffd253 134.5px,#ffff80 155.5px,#ffff80 177.5px)"></div><div class="r" style="left:274px;top:333px;width:178px;background:linear-gradient(90deg,#ff9111 0.5px,#ff8000 23.5px,#ff8202 75.5px,#ffa020 104.5px,#ffd051 133.5px,#ffff80 154.5px,#ffff80 177.5px)"></div><div class="r" style="left:274px;top:334px;width:178px;background:linear-gradient(90deg,#ff9011 0.5px,#ff8000 22.5px,#ff8202 75.5px,#ffa020 104.5px,#ffd151 133.5px,#ffff80 154.5px,#ffff80 177.5px)"></div><div class="r" style="left:274px;top:335px;width:178px;background:linear-gradient(90deg,#ff9010 0.5px,#ff8000 22.5px,#ff8202 75.5px,#ffa020 104.5px,#ffd152 133.5px,#ffff80 154.5px,#ffff80 177.5px)"></div><div class="r" style="left:274px;top:336px;width:178px;background:linear-gradient(90deg,#ff9010 0.5px,#ff8000 22.5px,#ff8202 75.5px,#ffa020 104.5px,#ffd252 133.5px,#ffff80 154.5px,#ffff80 177.5px)"></div><div class="r" style="left:274px;top:337px;width:178px;background:linear-gradient(90deg,#ff9010 0.5px,#ff8000 22.5px,#ff8202 75.5px,#ffa021 104.5px,#ffd252 133.5px,#ffff80 154.5px,#ffff80 177.5px)"></div><div class="r" style="left:274px;top:338px;width:178px;background:linear-gradient(90deg,#ff8f0f 0.5px,#ff8000 21.5px,#ff8303 75.5px,#ffa121 104.5px,#ffd253 133.5px,#ffff80 153.5px,#ffff80 177.5px)"></div><div class="r" style="left:274px;top:339px;width:178px;background:linear-gradient(90deg,#ff8f0f 0.5px,#ff8000 21.5px,#ff8303 75.5px,#ffa121 104.5px,#ffd353 133.5px,#ffff80 153.5px,#ffff80 177.5px)"></div><div class="r" style="left:274px;top:340px;width:178px;background:linear-gradient(90deg,#ff8f0f 0.5px,#ff8000 21.5px,#ff8303 75.5px,#ffa121 104.5px,#ffd354 133.5px,#ffff80 153.5px,#ffff80 177.5px)"></div><div class="r" style="left:274px;top:341px;width:178px;background:linear-gradient(90deg,#ff8e0f 0.5px,#ff8000 20.5px,#ff8303 75.5px,#ffa121 104.5px,#ffd354 133.5px,#ffff80 153.5px,#ffff80 177.5px)"></div><div class="r" style="left:274px;top:342px;width:178px;background:linear-gradient(90deg,#ff8e0e 0.5px,#ff8000 20.5px,#ff8202 74.5px,#ffa020 103.5px,#ffd152 132.5px,#ffff80 153.5px,#ffff80 177.5px)"></div><div class="r" style="left:274px;top:343px;width:178px;background:linear-gradient(90deg,#ff8e0e 0.5px,#ff8000 20.5px,#ff8202 74.5px,#ffa020 103.5px,#ffd252 132.5px,#ffff80 153.5px,#ffff80 177.5px)"></div><div class="r" style="left:274px;top:344px;width:178px;background:linear-gradient(90deg,#ff8d0e 0.5px,#ff8000 20.5px,#ff8202 74.5px,#ffa021 103.5px,#ffd253 132.5px,#ffff80 152.5px,#ffff80 177.5px)"></div><div class="r" style="left:274px;top:345px;width:178px;background:linear-gradient(90deg,#ff8d0d 0.5px,#ff8000 19.5px,#ff8202 74.5px,#ffa121 103.5px,#ffd253 132.5px,#ffff80 152.5px,#ffff80 177.5px)"></div><div class="r" style="left:274px;top:346px;width:178px;background:linear-gradient(90deg,#ff8d0d 0.5px,#ff8000 19.5px,#ff8202 74.5px,#ffa121 103.5px,#ffd353 132.5px,#ffff80 152.5px,#ffff80 177.5px)"></div><div class="r" style="left:274px;top:347px;width:178px;background:linear-gradient(90deg,#ff8c0d 0.5px,#ff8000 18.5px,#ff8202 74.5px,#ffa121 103.5px,#ffd354 132.5px,#ffff80 152.5px,#ffff80 177.5px)"></div><div class="r" style="left:274px;top:348px;width:178px;background:linear-gradient(90deg,#ff8c0c 0.5px,#ff8000 18.5px,#ff8202 74.5px,#ffa121 103.5px,#ffd354 132.5px,#ffff80 152.5px,#ffff80 177.5px)"></div><div class="r" style="left:274px;top:349px;width:178px;background:linear-gradient(90deg,#ff8c0c 0.5px,#ff8000 18.5px,#ff8202 74.5px,#ffa121 103.5px,#ffd454 132.5px,#ffff80 152.5px,#ffff80 177.5px)"></div><div class="r" style="left:274px;top:350px;width:178px;background:linear-gradient(90deg,#ff8b0c 0.5px,#ff8000 17.5px,#ff8202 74.5px,#ffa122 103.5px,#ffd455 132.5px,#ffff80 152.5px,#ffff80 177.5px)"></div><div class="r" style="left:274px;top:351px;width:178px;background:linear-gradient(90deg,#ff8b0b 0.5px,#ff8000 17.5px,#ff8202 74.5px,#ffa122 103.5px,#ffd455 132.5px,#ffff80 151.5px,#ffff80 177.5px)"></div><div class="r" style="left:274px;top:352px;width:178px;background:linear-gradient(90deg,#ff8b0b 0.5px,#ff8000 17.5px,#ff8202 74.5px,#ffa222 103.5px,#ffd455 132.5px,#ffff80 151.5px,#ffff80 177.5px)"></div><div class="r" style="left:274px;top:353px;width:178px;background:linear-gradient(90deg,#ff8a0b 0.5px,#ff8000 16.5px,#ff8202 74.5px,#ffa222 103.5px,#ffd555 132.5px,#ffff80 151.5px,#ffff80 177.5px)"></div><div class="r" style="left:274px;top:354px;width:178px;background:linear-gradient(90deg,#ff8a0a 0.5px,#ff8000 16.5px,#ff8202 74.5px,#ffa222 103.5px,#ffd556 132.5px,#ffff80 151.5px,#ffff80 177.5px)"></div><div class="r" style="left:274px;top:355px;width:178px;background:linear-gradient(90deg,#ff8a0a 0.5px,#ff8000 15.5px,#ff8202 74.5px,#ffa222 103.5px,#ffd556 132.5px,#ffff80 151.5px,#ffff80 177.5px)"></div><div class="r" style="left:274px;top:356px;width:178px;background:linear-gradient(90deg,#ff8909 0.5px,#ff8000 15.5px,#ff8202 74.5px,#ffa222 103.5px,#ffd656 132.5px,#ffff80 151.5px,#ffff80 177.5px)"></div><div class="r" style="left:274px;top:357px;width:178px;background:linear-gradient(90deg,#ff8909 0.5px,#ff8000 15.5px,#ff8202 74.5px,#ffa222 103.5px,#ffd656 132.5px,#ffff80 151.5px,#ffff80 177.5px)"></div><div class="r" style="left:274px;top:358px;width:178px;background:linear-gradient(90deg,#ff8909 0.5px,#ff8000 14.5px,#ff8202 74.5px,#ffa223 103.5px,#ffd657 132.5px,#ffff80 150.5px,#ffff80 177.5px)"></div><div class="r" style="left:274px;top:359px;width:178px;background:linear-gradient(90deg,#ff8808 0.5px,#ff8000 14.5px,#ff8202 74.5px,#ffa223 103.5px,#ffd657 132.5px,#ffff80 150.5px,#ffff80 177.5px)"></div><div class="r" style="left:274px;top:360px;width:178px;background:linear-gradient(90deg,#ff8808 0.5px,#ff8000 14.5px,#ff8202 74.5px,#ffa323 103.5px,#ffd757 132.5px,#ffff80 150.5px,#ffff80 177.5px)"></div><div class="r" style="left:274px;top:361px;width:178px;background:linear-gradient(90deg,#ff8708 0.5px,#ff8000 13.5px,#ff8202 74.5px,#ffa323 103.5px,#ffd757 132.5px,#ffff80 150.5px,#ffff80 177.5px)"></div><div class="r" style="left:274px;top:362px;width:178px;background:linear-gradient(90deg,#ff8707 0.5px,#ff8000 13.5px,#ff8202 74.5px,#ffa323 103.5px,#ffd758 132.5px,#ffff80 150.5px,#ffff80 177.5px)"></div><div class="r" style="left:274px;top:363px;width:178px;background:linear-gradient(90deg,#ff8707 0.5px,#ff8000 12.5px,#ff8202 74.5px,#ffa323 103.5px,#ffd758 132.5px,#ffff80 150.5px,#ffff80 177.5px)"></div><div class="r" style="left:274px;top:364px;width:178px;background:linear-gradient(90deg,#ff8606 0.5px,#ff8000 12.5px,#ff8202 74.5px,#ffa323 103.5px,#ffd858 132.5px,#ffff80 150.5px,#ffff80 177.5px)"></div><div class="r" style="left:274px;top:365px;width:178px;background:linear-gradient(90deg,#ff8606 0.5px,#ff8000 12.5px,#ff8202 74.5px,#ffa323 103.5px,#ffd858 132.5px,#ffff80 149.5px,#ffff80 177.5px)"></div><div class="r" style="left:274px;top:366px;width:178px;background:linear-gradient(90deg,#ff8505 0.5px,#ff8000 12.5px,#ff8202 74.5px,#ffa323 103.5px,#ffd859 132.5px,#ffff80 149.5px,#ffff80 177.5px)"></div><div class="r" style="left:274px;top:367px;width:178px;background:linear-gradient(90deg,#ff8505 0.5px,#ff8000 11.5px,#ff8303 75.5px,#ffa525 104.5px,#ffda5b 133.5px,#ffff80 149.5px,#ffff80 177.5px)"></div><div class="r" style="left:274px;top:368px;width:178px;background:linear-gradient(90deg,#ff8505 0.5px,#ff8000 12.5px,#ff8303 75.5px,#ffa525 104.5px,#ffdb5b 133.5px,#ffff80 149.5px,#ffff80 177.5px)"></div><div class="r" style="left:274px;top:369px;width:178px;background:linear-gradient(90deg,#ff8404 0.5px,#ff8000 12.5px,#ff8303 75.5px,#ffa525 104.5px,#ffdb5b 133.5px,#ffff80 149.5px,#ffff80 177.5px)"></div><div class="r" style="left:274px;top:370px;width:178px;background:linear-gradient(90deg,#ff8404 0.5px,#ff8000 14.5px,#ff8202 75.5px,#ffa525 104.5px,#ffdb5c 133.5px,#ffff80 149.5px,#ffff80 177.5px)"></div><div class="r" style="left:274px;top:371px;width:178px;background:linear-gradient(90deg,#ff8303 0.5px,#ff8000 15.5px,#ff8202 75.5px,#ffa525 104.5px,#ffdb5c 133.5px,#ffff80 149.5px,#ffff80 177.5px)"></div><div class="r" style="left:274px;top:372px;width:178px;background:linear-gradient(90deg,#ff8303 0.5px,#ff8000 27.5px,#ff8202 75.5px,#ffa525 104.5px,#ffdb5c 133.5px,#ffff80 149.5px,#ffff80 177.5px)"></div><div class="r" style="left:274px;top:373px;width:178px;background:linear-gradient(90deg,#ff8202 0.5px,#ff8202 75.5px,#ffa525 104.5px,#ffdc5c 133.5px,#ffff80 149.5px,#ffff80 177.5px)"></div><div class="r" style="left:274px;top:374px;width:178px;background:linear-gradient(90deg,#ff8202 0.5px,#ff8202 75.5px,#ffa525 104.5px,#ffdc5d 133.5px,#ffff80 148.5px,#ffff80 177.5px)"></div><div class="r" style="left:274px;top:375px;width:178px;background:linear-gradient(90deg,#ff8202 0.5px,#ff8202 75.5px,#ffa526 104.5px,#ffdc5d 133.5px,#ffff80 148.5px,#ffff80 177.5px)"></div><div class="r" style="left:274px;top:376px;width:178px;background:linear-gradient(90deg,#ff8101 0.5px,#ff8202 75.5px,#ffa526 104.5px,#ffdc5d 133.5px,#ffff80 148.5px,#ffff80 177.5px)"></div><div class="r" style="left:274px;top:377px;width:178px;background:linear-gradient(90deg,#ff8101 0.5px,#ff8202 75.5px,#ffa526 104.5px,#ffdc5d 133.5px,#ffff80 148.5px,#ffff80 177.5px)"></div><div class="r" style="left:274px;top:378px;width:178px;background:linear-gradient(90deg,#ff8000 0.5px,#ff8202 75.5px,#ffa526 104.5px,#ffdd5d 133.5px,#ffff80 148.5px,#ffff80 177.5px)"></div><div class="r" style="left:274px;top:379px;width:178px;background:linear-gradient(90deg,#ff8000 0.5px,#ff8303 76.5px,#ffa727 105.5px,#ffdf60 134.5px,#ffff80 148.5px,#ffff80 177.5px)"></div><div class="r" style="left:274px;top:380px;width:178px;background:linear-gradient(90deg,#ff8000 0.5px,#ff8202 76.5px,#ffa727 105.5px,#ffdf60 134.5px,#ffff80 148.5px,#ffff80 177.5px)"></div><div class="r" style="left:274px;top:381px;width:178px;background:linear-gradient(90deg,#ff8000 0.5px,#ff8202 76.5px,#ffa727 105.5px,#ffdf60 134.5px,#ffff80 148.5px,#ffff80 177.5px)"></div><div class="r" style="left:274px;top:382px;width:178px;background:linear-gradient(90deg,#ff8000 0.5px,#ff8202 76.5px,#ffa727 105.5px,#ffdf60 134.5px,#ffff80 148.5px,#ffff80 177.5px)"></div><div class="r" style="left:274px;top:383px;width:178px;background:linear-gradient(90deg,#ff8000 0.5px,#ff8202 76.5px,#ffa727 105.5px,#ffe060 134.5px,#ffff80 148.5px,#ffff80 177.5px)"></div><div class="r" style="left:274px;top:384px;width:178px;background:linear-gradient(90deg,#ff8000 0.5px,#ff8202 76.5px,#ffa727 105.5px,#ffe061 134.5px,#ffff80 148.5px,#ffff80 177.5px)"></div><div class="r" style="left:274px;top:385px;width:178px;background:linear-gradient(90deg,#ff8000 0.5px,#ff8202 76.5px,#ffa727 105.5px,#ffe061 134.5px,#ffff80 147.5px,#ffff80 177.5px)"></div><div class="r" style="left:274px;top:386px;width:178px;background:linear-gradient(90deg,#ff8000 0.5px,#ff8202 76.5px,#ffa727 105.5px,#ffe061 134.5px,#ffff80 147.5px,#ffff80 177.5px)"></div><div class="r" style="left:274px;top:387px;width:178px;background:linear-gradient(90deg,#ff8000 0.5px,#ff8202 76.5px,#ffa727 105.5px,#ffe061 134.5px,#ffff80 147.5px,#ffff80 177.5px)"></div><div class="r" style="left:274px;top:388px;width:178px;background:linear-gradient(90deg,#ff8000 0.5px,#ff8202 77.5px,#ffa929 106.5px,#ffe363 135.5px,#ffff80 147.5px,#ffff80 177.5px)"></div><div class="r" style="left:274px;top:389px;width:178px;background:linear-gradient(90deg,#ff8000 0.5px,#ff8202 77.5px,#ffa929 106.5px,#ffe364 135.5px,#ffff80 147.5px,#ffff80 177.5px)"></div><div class="r" style="left:274px;top:390px;width:178px;background:linear-gradient(90deg,#ff8000 0.5px,#ff8202 77.5px,#ffa929 106.5px,#ffe364 135.5px,#ffff80 147.5px,#ffff80 177.5px)"></div><div class="r" style="left:274px;top:391px;width:178px;background:linear-gradient(90deg,#ff8000 0.5px,#ff8202 77.5px,#ffa929 106.5px,#ffe364 135.5px,#ffff80 147.5px,#ffff80 177.5px)"></div><div class="r" style="left:274px;top:392px;width:178px;background:linear-gradient(90deg,#ff8000 0.5px,#ff8202 77.5px,#ffa929 106.5px,#ffe364 135.5px,#ffff80 147.5px,#ffff80 177.5px)"></div><div class="r" style="left:274px;top:393px;width:178px;background:linear-gradient(90deg,#ff8000 0.5px,#ff8202 77.5px,#ffa929 106.5px,#ffe364 135.5px,#ffff80 147.5px,#ffff80 177.5px)"></div><div class="r" style="left:274px;top:394px;width:178px;background:linear-gradient(90deg,#ff8000 0.5px,#ff8202 77.5px,#ffa929 106.5px,#ffe464 135.5px,#ffff80 147.5px,#ffff80 177.5px)"></div><div class="r" style="left:274px;top:395px;width:178px;background:linear-gradient(90deg,#ff8000 0.5px,#ff8202 78.5px,#ffaa2b 107.5px,#ffe667 136.5px,#ffff80 147.5px,#ffff80 177.5px)"></div><div class="r" style="left:274px;top:396px;width:178px;background:linear-gradient(90deg,#ff8000 0.5px,#ff8202 78.5px,#ffaa2b 107.5px,#ffe667 136.5px,#ffff80 147.5px,#ffff80 177.5px)"></div><div class="r" style="left:274px;top:397px;width:178px;background:linear-gradient(90deg,#ff8000 0.5px,#ff8202 78.5px,#ffaa2b 107.5px,#ffe667 136.5px,#ffff80 147.5px,#ffff80 177.5px)"></div><div class="r" style="left:274px;top:398px;width:178px;background:linear-gradient(90deg,#ff8000 0.5px,#ff8202 78.5px,#ffaa2b 107.5px,#ffe667 136.5px,#ffff80 147.5px,#ffff80 177.5px)"></div><div class="r" style="left:274px;top:399px;width:178px;background:linear-gradient(90deg,#ff8000 0.5px,#ff8202 78.5px,#ffaa2b 107.5px,#ffe667 136.5px,#ffff80 146.5px,#ffff80 177.5px)"></div><div class="r" style="left:274px;top:400px;width:178px;background:linear-gradient(90deg,#ff8000 0.5px,#ff8202 78.5px,#ffaa2b 107.5px,#ffe767 136.5px,#ffff80 146.5px,#ffff80 177.5px)"></div><div class="r" style="left:274px;top:401px;width:178px;background:linear-gradient(90deg,#ff8000 0.5px,#ff8303 79.5px,#ffac2c 108.5px,#ffe96a 137.5px,#ffff80 146.5px,#ffff80 177.5px)"></div><div class="r" style="left:274px;top:402px;width:178px;background:linear-gradient(90deg,#ff8000 0.5px,#ff8202 79.5px,#ffac2c 108.5px,#ffe96a 137.5px,#ffff80 146.5px,#ffff80 177.5px)"></div><div class="r" style="left:274px;top:403px;width:178px;background:linear-gradient(90deg,#ff8000 0.5px,#ff8202 79.5px,#ffac2c 108.5px,#ffe96a 137.5px,#ffff80 146.5px,#ffff80 177.5px)"></div><div class="r" style="left:274px;top:404px;width:178px;background:linear-gradient(90deg,#ff8000 0.5px,#ff8202 79.5px,#ffac2c 108.5px,#ffe96a 137.5px,#ffff80 146.5px,#ffff80 177.5px)"></div><div class="r" style="left:274px;top:405px;width:178px;background:linear-gradient(90deg,#ff8000 0.5px,#ff8202 79.5px,#ffac2c 108.5px,#ffe96a 137.5px,#ffff80 146.5px,#ffff80 177.5px)"></div><div class="r" style="left:274px;top:406px;width:178px;background:linear-gradient(90deg,#ff8000 0.5px,#ff8202 79.5px,#ffac2c 108.5px,#ffea6a 137.5px,#ffff80 146.5px,#ffff80 177.5px)"></div><div class="r" style="left:274px;top:407px;width:178px;background:linear-gradient(90deg,#ff8000 0.5px,#ff8303 80.5px,#ffae2e 109.5px,#ffec6d 138.5px,#ffff80 146.5px,#ffff80 177.5px)"></div><div class="r" style="left:274px;top:408px;width:178px;background:linear-gradient(90deg,#ff8000 0.5px,#ff8202 80.5px,#ffad2e 109.5px,#ffec6d 138.5px,#ffff80 146.5px,#ffff80 177.5px)"></div><div class="r" style="left:274px;top:409px;width:178px;background:linear-gradient(90deg,#ff8000 0.5px,#ff8202 80.5px,#ffad2e 109.5px,#ffec6d 138.5px,#ffff80 146.5px,#ffff80 177.5px)"></div><div class="r" style="left:274px;top:410px;width:178px;background:linear-gradient(90deg,#ff8000 0.5px,#ff8202 80.5px,#ffad2e 109.5px,#ffec6d 138.5px,#ffff80 146.5px,#ffff80 177.5px)"></div><div class="r" style="left:274px;top:411px;width:178px;background:linear-gradient(90deg,#ff8000 0.5px,#ff8202 80.5px,#ffad2e 109.5px,#ffec6d 138.5px,#ffff80 146.5px,#ffff80 177.5px)"></div><div class="r" style="left:274px;top:412px;width:178px;background:linear-gradient(90deg,#ff8000 0.5px,#ff8202 80.5px,#ffad2e 109.5px,#ffec6d 138.5px,#ffff80 146.5px,#ffff80 177.5px)"></div><div class="r" style="left:274px;top:413px;width:178px;background:linear-gradient(90deg,#ff8000 0.5px,#ff8202 81.5px,#ffaf2f 110.5px,#ffef70 139.5px,#ffff80 146.5px,#ffff80 177.5px)"></div><div class="r" style="left:274px;top:414px;width:178px;background:linear-gradient(90deg,#ff8000 0.5px,#ff8202 81.5px,#ffaf2f 110.5px,#ffef70 139.5px,#ffff80 146.5px,#ffff80 177.5px)"></div><div class="r" style="left:506px;top:241px;width:170px;background:linear-gradient(90deg,#800000 0.5px,#810100 12.5px,#ff8000 49.5px,#ff8000 89.5px,#ffff80 125.5px,#ffff80 169.5px)"></div><div class="r" style="left:506px;top:242px;width:170px;background:linear-gradient(90deg,#800000 0.5px,#820200 12.5px,#fe7f00 48.5px,#ff8101 89.5px,#ffff80 125.5px,#ffff80 169.5px)"></div><div class="r" style="left:506px;top:243px;width:170px;background:linear-gradient(90deg,#800000 0.5px,#820300 12.5px,#ff8000 48.5px,#ff8101 89.5px,#ffff80 125.5px,#ffff80 169.5px)"></div><div class="r" style="left:506px;top:244px;width:170px;background:linear-gradient(90deg,#800000 0.5px,#800000 11.5px,#ff8000 48.5px,#ff8202 89.5px,#ffff80 125.5px,#ffff80 169.5px)"></div><div class="r" style="left:506px;top:245px;width:170px;background:linear-gradient(90deg,#800000 0.5px,#800000 11.5px,#ff8000 48.5px,#ff8202 89.5px,#ffff80 125.5px,#ffff80 169.5px)"></div><div class="r" style="left:506px;top:246px;width:170px;background:linear-gradient(90deg,#800000 0.5px,#810100 11.5px,#ff8000 48.5px,#ff8000 88.5px,#ffff80 125.5px,#ffff80 169.5px)"></div><div class="r" style="left:506px;top:247px;width:170px;background:linear-gradient(90deg,#800000 0.5px,#810100 11.5px,#ff8000 48.5px,#ff8000 88.5px,#fffe7f 124.5px,#ffff80 169.5px)"></div><div class="r" style="left:506px;top:248px;width:170px;background:linear-gradient(90deg,#800000 0.5px,#820200 11.5px,#ff8000 48.5px,#ff8000 88.5px,#ffff80 124.5px,#ffff80 169.5px)"></div><div class="r" style="left:506px;top:249px;width:170px;background:linear-gradient(90deg,#800000 0.5px,#820200 11.5px,#ff8000 47.5px,#ff8000 88.5px,#ffff80 124.5px,#ffff80 169.5px)"></div><div class="r" style="left:506px;top:250px;width:170px;background:linear-gradient(90deg,#800000 0.5px,#800000 10.5px,#ff8000 47.5px,#ff8101 88.5px,#ffff80 124.5px,#ffff80 169.5px)"></div><div class="r" style="left:506px;top:251px;width:170px;background:linear-gradient(90deg,#800000 0.5px,#800000 10.5px,#ff8000 47.5px,#ff8101 88.5px,#ffff80 124.5px,#ffff80 169.5px)"></div><div class="r" style="left:506px;top:252px;width:170px;background:linear-gradient(90deg,#800000 0.5px,#800000 10.5px,#ff8000 47.5px,#ff8202 88.5px,#ffff80 124.5px,#ffff80 169.5px)"></div><div class="r" style="left:506px;top:253px;width:170px;background:linear-gradient(90deg,#800000 0.5px,#810100 10.5px,#ff8000 47.5px,#ff8202 88.5px,#ffff80 124.5px,#ffff80 169.5px)"></div><div class="r" style="left:506px;top:254px;width:170px;background:linear-gradient(90deg,#800000 0.5px,#820200 10.5px,#ff8000 47.5px,#ff8000 87.5px,#ffff80 124.5px,#ffff80 169.5px)"></div><div class="r" style="left:506px;top:255px;width:170px;background:linear-gradient(90deg,#800000 0.5px,#820200 10.5px,#fe7f00 46.5px,#ff8000 87.5px,#fffe7f 123.5px,#ffff80 169.5px)"></div><div class="r" style="left:506px;top:256px;width:170px;background:linear-gradient(90deg,#800000 0.5px,#830300 10.5px,#ff8000 46.5px,#ff8000 87.5px,#ffff80 123.5px,#ffff80 169.5px)"></div><div class="r" style="left:506px;top:257px;width:170px;background:linear-gradient(90deg,#800000 0.5px,#800000 9.5px,#ff8000 46.5px,#ff8101 87.5px,#ffff80 123.5px,#ffff80 169.5px)"></div><div class="r" style="left:506px;top:258px;width:170px;background:linear-gradient(90deg,#800000 0.5px,#800000 9.5px,#ff8000 46.5px,#ff8101 87.5px,#ffff80 123.5px,#ffff80 169.5px)"></div><div class="r" style="left:506px;top:259px;width:170px;background:linear-gradient(90deg,#800000 0.5px,#810100 9.5px,#ff8000 46.5px,#ff8101 87.5px,#ffff80 123.5px,#ffff80 169.5px)"></div><div class="r" style="left:506px;top:260px;width:170px;background:linear-gradient(90deg,#800000 0.5px,#810100 9.5px,#ff8000 46.5px,#ff8202 87.5px,#ffff80 123.5px,#ffff80 169.5px)"></div><div class="r" style="left:506px;top:261px;width:170px;background:linear-gradient(90deg,#800000 0.5px,#820200 9.5px,#ff8000 46.5px,#ff8202 87.5px,#ffff80 123.5px,#ffff80 169.5px)"></div><div class="r" style="left:506px;top:262px;width:170px;background:linear-gradient(90deg,#800000 0.5px,#820200 9.5px,#ff8000 46.5px,#ff8000 86.5px,#ffff80 123.5px,#ffff80 169.5px)"></div><div class="r" style="left:506px;top:263px;width:170px;background:linear-gradient(90deg,#800000 0.5px,#830300 9.5px,#fe7f00 45.5px,#ff8000 86.5px,#ffff80 123.5px,#ffff80 169.5px)"></div><div class="r" style="left:506px;top:264px;width:170px;background:linear-gradient(90deg,#800000 0.5px,#800000 8.5px,#ff8000 45.5px,#ff8000 86.5px,#fffe7f 122.5px,#ffff80 169.5px)"></div><div class="r" style="left:506px;top:265px;width:170px;background:linear-gradient(90deg,#800000 0.5px,#800000 8.5px,#ff8000 45.5px,#ff8000 86.5px,#fffe7f 122.5px,#ffff80 169.5px)"></div><div class="r" style="left:506px;top:266px;width:170px;background:linear-gradient(90deg,#800000 0.5px,#810100 8.5px,#ff8000 45.5px,#ff8101 86.5px,#ffff80 122.5px,#ffff80 169.5px)"></div><div class="r" style="left:506px;top:267px;width:170px;background:linear-gradient(90deg,#800000 0.5px,#810100 8.5px,#ff8000 45.5px,#ff8101 86.5px,#ffff80 122.5px,#ffff80 169.5px)"></div><div class="r" style="left:506px;top:268px;width:170px;background:linear-gradient(90deg,#800000 0.5px,#820200 8.5px,#ff8000 45.5px,#ff8202 86.5px,#ffff80 122.5px,#ffff80 169.5px)"></div><div class="r" style="left:506px;top:269px;width:170px;background:linear-gradient(90deg,#800000 0.5px,#820200 8.5px,#ff8000 45.5px,#ff8202 86.5px,#ffff80 122.5px,#ffff80 169.5px)"></div><div class="r" style="left:506px;top:270px;width:170px;background:linear-gradient(90deg,#800000 0.5px,#830300 8.5px,#fe7f00 44.5px,#ff8202 86.5px,#ffff80 122.5px,#ffff80 169.5px)"></div><div class="r" style="left:506px;top:271px;width:170px;background:linear-gradient(90deg,#800000 0.5px,#800000 7.5px,#ff8000 44.5px,#ff8000 85.5px,#ffff80 122.5px,#ffff80 169.5px)"></div><div class="r" style="left:506px;top:272px;width:170px;background:linear-gradient(90deg,#800000 0.5px,#800000 7.5px,#ff8000 44.5px,#ff8000 85.5px,#ffff80 122.5px,#ffff80 169.5px)"></div><div class="r" style="left:506px;top:273px;width:170px;background:linear-gradient(90deg,#800000 0.5px,#810100 7.5px,#ff8000 44.5px,#ff8000 85.5px,#ffff80 122.5px,#ffff80 169.5px)"></div><div class="r" style="left:506px;top:274px;width:170px;background:linear-gradient(90deg,#800000 0.5px,#810100 7.5px,#ff8000 44.5px,#ff8000 85.5px,#ffff80 122.5px,#ffff80 169.5px)"></div><div class="r" style="left:506px;top:275px;width:170px;background:linear-gradient(90deg,#800000 0.5px,#820200 7.5px,#ff8000 44.5px,#ff8101 85.5px,#fffe7f 121.5px,#ffff80 169.5px)"></div><div class="r" style="left:506px;top:276px;width:170px;background:linear-gradient(90deg,#800000 0.5px,#820200 7.5px,#ff8000 44.5px,#ff8101 85.5px,#ffff80 121.5px,#ffff80 169.5px)"></div><div class="r" style="left:506px;top:277px;width:170px;background:linear-gradient(90deg,#800000 0.5px,#830300 7.5px,#ff8000 44.5px,#ff8202 85.5px,#ffff80 121.5px,#ffff80 169.5px)"></div><div class="r" style="left:506px;top:278px;width:170px;background:linear-gradient(90deg,#800000 0.5px,#800000 6.5px,#ff8000 44.5px,#ff8202 85.5px,#ffff80 121.5px,#ffff80 169.5px)"></div><div class="r" style="left:506px;top:279px;width:170px;background:linear-gradient(90deg,#800000 0.5px,#800000 6.5px,#ff8000 43.5px,#ff8202 85.5px,#ffff80 121.5px,#ffff80 169.5px)"></div><div class="r" style="left:506px;top:280px;width:170px;background:linear-gradient(90deg,#800000 0.5px,#810100 6.5px,#ff8000 43.5px,#ff8000 84.5px,#ffff80 121.5px,#ffff80 169.5px)"></div><div class="r" style="left:506px;top:281px;width:170px;background:linear-gradient(90deg,#800000 0.5px,#810100 6.5px,#ff8000 43.5px,#ff8000 84.5px,#ffff80 121.5px,#ffff80 169.5px)"></div><div class="r" style="left:506px;top:282px;width:170px;background:linear-gradient(90deg,#800000 0.5px,#810100 6.5px,#ff8000 43.5px,#ff8000 84.5px,#ffff80 121.5px,#ffff80 169.5px)"></div><div class="r" style="left:506px;top:283px;width:170px;background:linear-gradient(90deg,#800000 0.5px,#820200 6.5px,#ff8000 43.5px,#ff8000 84.5px,#ffff80 121.5px,#ffff80 169.5px)"></div><div class="r" style="left:506px;top:284px;width:170px;background:linear-gradient(90deg,#800000 0.5px,#820200 6.5px,#ff8000 43.5px,#ff8101 84.5px,#ffff80 121.5px,#ffff80 169.5px)"></div><div class="r" style="left:506px;top:285px;width:170px;background:linear-gradient(90deg,#800000 0.5px,#830300 6.5px,#ff8000 43.5px,#ff8101 84.5px,#ffff80 121.5px,#ffff80 169.5px)"></div><div class="r" style="left:506px;top:286px;width:170px;background:linear-gradient(90deg,#800000 0.5px,#800000 5.5px,#ff8000 43.5px,#ff8101 84.5px,#fffe7f 120.5px,#ffff80 169.5px)"></div><div class="r" style="left:506px;top:287px;width:170px;background:linear-gradient(90deg,#800000 0.5px,#800000 5.5px,#fe7f00 42.5px,#ff8202 84.5px,#fffe7f 120.5px,#ffff80 169.5px)"></div><div class="r" style="left:506px;top:288px;width:170px;background:linear-gradient(90deg,#800000 0.5px,#810100 5.5px,#ff8000 42.5px,#ff8202 84.5px,#ffff80 120.5px,#ffff80 169.5px)"></div><div class="r" style="left:506px;top:289px;width:170px;background:linear-gradient(90deg,#800000 0.5px,#810100 5.5px,#ff8000 42.5px,#ff8202 84.5px,#ffff80 120.5px,#ffff80 169.5px)"></div><div class="r" style="left:506px;top:290px;width:170px;background:linear-gradient(90deg,#800000 0.5px,#810100 5.5px,#ff8000 42.5px,#ff8000 83.5px,#ffff80 120.5px,#ffff80 169.5px)"></div><div class="r" style="left:506px;top:291px;width:170px;background:linear-gradient(90deg,#800000 0.5px,#820200 5.5px,#ff8000 42.5px,#ff8000 83.5px,#ffff80 120.5px,#ffff80 169.5px)"></div><div class="r" style="left:506px;top:292px;width:170px;background:linear-gradient(90deg,#800000 0.5px,#820200 5.5px,#ff8000 42.5px,#ff8000 83.5px,#ffff80 120.5px,#ffff80 169.5px)"></div><div class="r" style="left:506px;top:293px;width:170px;background:linear-gradient(90deg,#800000 0.5px,#830300 5.5px,#ff8000 42.5px,#ff8000 83.5px,#ffff80 120.5px,#ffff80 169.5px)"></div><div class="r" style="left:506px;top:294px;width:170px;background:linear-gradient(90deg,#800000 0.5px,#830300 5.5px,#ff8000 42.5px,#ff8000 83.5px,#ffff80 120.5px,#ffff80 169.5px)"></div><div class="r" style="left:506px;top:295px;width:170px;background:linear-gradient(90deg,#800000 0.5px,#800000 4.5px,#ff8000 42.5px,#ff8101 83.5px,#ffff80 120.5px,#ffff80 169.5px)"></div><div class="r" style="left:506px;top:296px;width:170px;background:linear-gradient(90deg,#800000 0.5px,#800000 4.5px,#fe7f00 41.5px,#ff8101 83.5px,#ffff80 120.5px,#ffff80 169.5px)"></div><div class="r" style="left:506px;top:297px;width:170px;background:linear-gradient(90deg,#800000 0.5px,#810100 4.5px,#fe7f00 41.5px,#ff8101 83.5px,#ffff80 120.5px,#ffff80 169.5px)"></div><div class="r" style="left:506px;top:298px;width:170px;background:linear-gradient(90deg,#800000 0.5px,#810100 4.5px,#ff8000 41.5px,#ff8202 83.5px,#ffff80 120.5px,#ffff80 169.5px)"></div><div class="r" style="left:506px;top:299px;width:170px;background:linear-gradient(90deg,#800000 0.5px,#820200 4.5px,#ff8000 41.5px,#ff8202 83.5px,#ffff80 120.5px,#ffff80 169.5px)"></div><div class="r" style="left:506px;top:300px;width:170px;background:linear-gradient(90deg,#800000 0.5px,#820200 4.5px,#ff8000 41.5px,#ff8202 83.5px,#fffe7f 119.5px,#ffff80 169.5px)"></div><div class="r" style="left:506px;top:301px;width:170px;background:linear-gradient(90deg,#800000 0.5px,#820200 4.5px,#ff8000 41.5px,#ff8202 83.5px,#ffff80 119.5px,#ffff80 169.5px)"></div><div class="r" style="left:506px;top:302px;width:170px;background:linear-gradient(90deg,#800000 0.5px,#830300 4.5px,#ff8000 41.5px,#ff8000 82.5px,#ffff80 119.5px,#ffff80 169.5px)"></div><div class="r" style="left:506px;top:303px;width:170px;background:linear-gradient(90deg,#800000 0.5px,#830300 4.5px,#ff8000 41.5px,#ff8000 82.5px,#ffff80 119.5px,#ffff80 169.5px)"></div><div class="r" style="left:506px;top:304px;width:170px;background:linear-gradient(90deg,#800000 0.5px,#800000 3.5px,#ff8000 41.5px,#ff8000 82.5px,#ffff80 119.5px,#ffff80 169.5px)"></div><div class="r" style="left:506px;top:305px;width:170px;background:linear-gradient(90deg,#800000 0.5px,#840400 4.5px,#ff8000 41.5px,#ff8000 82.5px,#ffff80 119.5px,#ffff80 169.5px)"></div><div class="r" style="left:506px;top:306px;width:170px;background:linear-gradient(90deg,#800000 0.5px,#840400 4.5px,#ff8000 41.5px,#ff8000 82.5px,#ffff80 119.5px,#ffff80 169.5px)"></div><div class="r" style="left:506px;top:307px;width:170px;background:linear-gradient(90deg,#800000 0.5px,#850500 4.5px,#fe7f00 40.5px,#ff8101 82.5px,#ffff80 119.5px,#ffff80 169.5px)"></div><div class="r" style="left:506px;top:308px;width:170px;background:linear-gradient(90deg,#800000 0.5px,#820200 3.5px,#ff8000 40.5px,#ff8101 82.5px,#ffff80 119.5px,#ffff80 169.5px)"></div><div class="r" style="left:506px;top:309px;width:170px;background:linear-gradient(90deg,#800000 0.5px,#820200 3.5px,#ff8000 40.5px,#ff8101 82.5px,#ffff80 119.5px,#ffff80 169.5px)"></div><div class="r" style="left:506px;top:310px;width:170px;background:linear-gradient(90deg,#800000 0.5px,#820200 3.5px,#ff8000 40.5px,#ff8101 82.5px,#ffff80 119.5px,#ffff80 169.5px)"></div><div class="r" style="left:506px;top:311px;width:170px;background:linear-gradient(90deg,#800000 0.5px,#830300 3.5px,#ff8000 40.5px,#ff8202 82.5px,#ffff80 119.5px,#ffff80 169.5px)"></div><div class="r" style="left:506px;top:312px;width:170px;background:linear-gradient(90deg,#800000 0.5px,#830300 3.5px,#ff8000 40.5px,#ff8202 82.5px,#ffff80 119.5px,#ffff80 169.5px)"></div><div class="r" style="left:506px;top:313px;width:170px;background:linear-gradient(90deg,#800000 0.5px,#830300 3.5px,#ff8000 40.5px,#ff8202 82.5px,#ffff80 119.5px,#ffff80 169.5px)"></div><div class="r" style="left:506px;top:314px;width:170px;background:linear-gradient(90deg,#800000 0.5px,#840400 3.5px,#ff8000 40.5px,#ff8202 82.5px,#ffff80 119.5px,#ffff80 169.5px)"></div><div class="r" style="left:506px;top:315px;width:170px;background:linear-gradient(90deg,#800000 0.5px,#840400 3.5px,#ff8000 40.5px,#ff8000 81.5px,#ffff80 119.5px,#ffff80 169.5px)"></div><div class="r" style="left:506px;top:316px;width:170px;background:linear-gradient(90deg,#800000 0.5px,#840400 3.5px,#ff8000 40.5px,#ff8000 81.5px,#ffff80 119.5px,#ffff80 169.5px)"></div><div class="r" style="left:506px;top:317px;width:170px;background:linear-gradient(90deg,#800000 0.5px,#850500 3.5px,#ff8000 40.5px,#ff8000 81.5px,#fffe7f 118.5px,#ffff80 169.5px)"></div><div class="r" style="left:506px;top:318px;width:170px;background:linear-gradient(90deg,#800000 0.5px,#850500 3.5px,#fe7f00 39.5px,#ff8000 81.5px,#fffe7f 118.5px,#ffff80 169.5px)"></div><div class="r" style="left:506px;top:319px;width:170px;background:linear-gradient(90deg,#800000 0.5px,#890900 4.5px,#ff8000 39.5px,#ff8000 81.5px,#ffff80 118.5px,#ffff80 169.5px)"></div><div class="r" style="left:506px;top:320px;width:170px;background:linear-gradient(90deg,#800000 0.5px,#890900 4.5px,#ff8000 39.5px,#ff8000 81.5px,#ffff80 118.5px,#ffff80 169.5px)"></div><div class="r" style="left:506px;top:321px;width:170px;background:linear-gradient(90deg,#800000 0.5px,#8a0a00 4.5px,#ff8000 39.5px,#ff8000 81.5px,#ffff80 118.5px,#ffff80 169.5px)"></div><div class="r" style="left:506px;top:322px;width:170px;background:linear-gradient(90deg,#800000 0.5px,#8a0a00 4.5px,#ff8000 39.5px,#ff8101 81.5px,#ffff80 118.5px,#ffff80 169.5px)"></div><div class="r" style="left:506px;top:323px;width:170px;background:linear-gradient(90deg,#800000 0.5px,#870700 3.5px,#ff8000 39.5px,#ff8101 81.5px,#ffff80 118.5px,#ffff80 169.5px)"></div><div class="r" style="left:506px;top:324px;width:170px;background:linear-gradient(90deg,#800000 0.5px,#8a0b00 4.5px,#ff8000 39.5px,#ff8101 81.5px,#ffff80 118.5px,#ffff80 169.5px)"></div><div class="r" style="left:506px;top:325px;width:170px;background:linear-gradient(90deg,#800000 0.5px,#921200 6.5px,#ff8000 39.5px,#ff8101 81.5px,#ffff80 118.5px,#ffff80 169.5px)"></div><div class="r" style="left:506px;top:326px;width:170px;background:linear-gradient(90deg,#800000 0.5px,#dc5d00 28.5px,#ff8000 39.5px,#ff8101 81.5px,#ffff80 118.5px,#ffff80 169.5px)"></div><div class="r" style="left:506px;top:327px;width:170px;background:linear-gradient(90deg,#800000 0.5px,#ff8000 39.5px,#ff8202 81.5px,#ffff80 118.5px,#ffff80 169.5px)"></div><div class="r" style="left:506px;top:328px;width:170px;background:linear-gradient(90deg,#800000 0.5px,#ff8000 39.5px,#ff8202 81.5px,#ffff80 118.5px,#ffff80 169.5px)"></div><div class="r" style="left:506px;top:329px;width:170px;background:linear-gradient(90deg,#800000 0.5px,#ff8000 39.5px,#ff8202 81.5px,#ffff80 118.5px,#ffff80 169.5px)"></div><div class="r" style="left:506px;top:330px;width:170px;background:linear-gradient(90deg,#800000 0.5px,#ff8000 39.5px,#ff8202 81.5px,#ffff80 118.5px,#ffff80 169.5px)"></div><div class="r" style="left:506px;top:331px;width:170px;background:linear-gradient(90deg,#800000 0.5px,#fe7f00 38.5px,#ff8202 81.5px,#ffff80 118.5px,#ffff80 169.5px)"></div><div class="r" style="left:506px;top:332px;width:170px;background:linear-gradient(90deg,#800000 0.5px,#fe7f00 38.5px,#ff8000 80.5px,#ffff80 118.5px,#ffff80 169.5px)"></div><div class="r" style="left:506px;top:333px;width:170px;background:linear-gradient(90deg,#800000 0.5px,#ff8000 38.5px,#ff8000 80.5px,#ffff80 118.5px,#ffff80 169.5px)"></div><div class="r" style="left:506px;top:334px;width:170px;background:linear-gradient(90deg,#800000 0.5px,#ff8000 38.5px,#ff8000 80.5px,#ffff80 118.5px,#ffff80 169.5px)"></div><div class="r" style="left:506px;top:335px;width:170px;background:linear-gradient(90deg,#800000 0.5px,#ff8000 38.5px,#ff8000 80.5px,#ffff80 118.5px,#ffff80 169.5px)"></div><div class="r" style="left:506px;top:336px;width:170px;background:linear-gradient(90deg,#800000 0.5px,#ff8000 38.5px,#ff8000 80.5px,#ffff80 118.5px,#ffff80 169.5px)"></div><div class="r" style="left:506px;top:337px;width:170px;background:linear-gradient(90deg,#810100 0.5px,#ff8000 38.5px,#ff8000 80.5px,#ffff80 118.5px,#ffff80 169.5px)"></div><div class="r" style="left:506px;top:338px;width:170px;background:linear-gradient(90deg,#810100 0.5px,#ff8000 38.5px,#ff8000 80.5px,#ffff80 118.5px,#ffff80 169.5px)"></div><div class="r" style="left:506px;top:339px;width:170px;background:linear-gradient(90deg,#810100 0.5px,#ff8000 38.5px,#ff8000 80.5px,#ffff80 118.5px,#ffff80 169.5px)"></div><div class="r" style="left:506px;top:340px;width:170px;background:linear-gradient(90deg,#810100 0.5px,#ff8000 38.5px,#ff8000 80.5px,#ffff80 118.5px,#ffff80 169.5px)"></div><div class="r" style="left:506px;top:341px;width:170px;background:linear-gradient(90deg,#820200 0.5px,#ff8000 38.5px,#ff8000 80.5px,#ffff80 118.5px,#ffff80 169.5px)"></div><div class="r" style="left:506px;top:342px;width:170px;background:linear-gradient(90deg,#820200 0.5px,#ff8000 38.5px,#ff8101 80.5px,#ffff80 118.5px,#ffff80 169.5px)"></div><div class="r" style="left:506px;top:343px;width:170px;background:linear-gradient(90deg,#820200 0.5px,#ff8000 38.5px,#ff8101 80.5px,#ffff80 118.5px,#ffff80 169.5px)"></div><div class="r" style="left:506px;top:344px;width:170px;background:linear-gradient(90deg,#820200 0.5px,#ff8000 38.5px,#ff8101 80.5px,#ffff80 118.5px,#ffff80 169.5px)"></div><div class="r" style="left:506px;top:345px;width:170px;background:linear-gradient(90deg,#830300 0.5px,#ff8000 38.5px,#ff8101 80.5px,#ffff80 118.5px,#ffff80 169.5px)"></div><div class="r" style="left:506px;top:346px;width:170px;background:linear-gradient(90deg,#830300 0.5px,#ff8000 38.5px,#ff8101 80.5px,#ffff80 118.5px,#ffff80 169.5px)"></div><div class="r" style="left:506px;top:347px;width:170px;background:linear-gradient(90deg,#830300 0.5px,#fe7f00 37.5px,#ff8101 80.5px,#ffff80 118.5px,#ffff80 169.5px)"></div><div class="r" style="left:506px;top:348px;width:170px;background:linear-gradient(90deg,#830300 0.5px,#fe7f00 37.5px,#ff8101 80.5px,#ffff80 118.5px,#ffff80 169.5px)"></div><div class="r" style="left:506px;top:349px;width:170px;background:linear-gradient(90deg,#840400 0.5px,#ff8000 37.5px,#ff8101 80.5px,#ffff80 118.5px,#ffff80 169.5px)"></div><div class="r" style="left:506px;top:350px;width:170px;background:linear-gradient(90deg,#840400 0.5px,#ff8000 37.5px,#ff8202 80.5px,#ffff80 118.5px,#ffff80 169.5px)"></div><div class="r" style="left:506px;top:351px;width:170px;background:linear-gradient(90deg,#840400 0.5px,#ff8000 37.5px,#ff8202 80.5px,#ffff80 118.5px,#ffff80 169.5px)"></div><div class="r" style="left:506px;top:352px;width:170px;background:linear-gradient(90deg,#840400 0.5px,#ff8000 37.5px,#ff8202 80.5px,#fffe7f 117.5px,#ffff80 169.5px)"></div><div class="r" style="left:506px;top:353px;width:170px;background:linear-gradient(90deg,#850500 0.5px,#ff8000 37.5px,#ff8202 80.5px,#fffe7f 117.5px,#ffff80 169.5px)"></div><div class="r" style="left:506px;top:354px;width:170px;background:linear-gradient(90deg,#850500 0.5px,#ff8000 37.5px,#ff8202 80.5px,#fffe7f 117.5px,#ffff80 169.5px)"></div><div class="r" style="left:506px;top:355px;width:170px;background:linear-gradient(90deg,#850500 0.5px,#ff8000 37.5px,#ff8202 80.5px,#fffe7f 117.5px,#ffff80 169.5px)"></div><div class="r" style="left:506px;top:356px;width:170px;background:linear-gradient(90deg,#850500 0.5px,#ff8000 37.5px,#ff8202 80.5px,#fffe7f 117.5px,#ffff80 169.5px)"></div><div class="r" style="left:506px;top:357px;width:170px;background:linear-gradient(90deg,#850500 0.5px,#ff8000 37.5px,#ff8202 80.5px,#fffe7f 117.5px,#ffff80 169.5px)"></div><div class="r" style="left:506px;top:358px;width:170px;background:linear-gradient(90deg,#860600 0.5px,#ff8000 37.5px,#ff8202 80.5px,#fffe7f 117.5px,#ffff80 169.5px)"></div><div class="r" style="left:506px;top:359px;width:170px;background:linear-gradient(90deg,#860600 0.5px,#ff8000 37.5px,#ff8202 80.5px,#fffe7f 117.5px,#ffff80 169.5px)"></div><div class="r" style="left:506px;top:360px;width:170px;background:linear-gradient(90deg,#860600 0.5px,#ff8000 37.5px,#ff8202 80.5px,#fffe7f 117.5px,#ffff80 169.5px)"></div><div class="r" style="left:506px;top:361px;width:170px;background:linear-gradient(90deg,#860600 0.5px,#ff8000 37.5px,#ff8303 80.5px,#fffe7f 117.5px,#ffff80 169.5px)"></div><div class="r" style="left:506px;top:362px;width:170px;background:linear-gradient(90deg,#860600 0.5px,#ff8000 37.5px,#ff8000 79.5px,#fffe7f 117.5px,#ffff80 169.5px)"></div><div class="r" style="left:506px;top:363px;width:170px;background:linear-gradient(90deg,#870700 0.5px,#ff8000 37.5px,#ff8000 79.5px,#fffe7f 117.5px,#ffff80 169.5px)"></div><div class="r" style="left:506px;top:364px;width:170px;background:linear-gradient(90deg,#870700 0.5px,#ff8000 37.5px,#ff8000 79.5px,#ffff80 118.5px,#ffff80 169.5px)"></div><div class="r" style="left:506px;top:365px;width:170px;background:linear-gradient(90deg,#870700 0.5px,#ff8000 37.5px,#ff8000 79.5px,#ffff80 118.5px,#ffff80 169.5px)"></div><div class="r" style="left:506px;top:366px;width:170px;background:linear-gradient(90deg,#870700 0.5px,#ff8000 37.5px,#ff8000 79.5px,#ffff80 118.5px,#ffff80 169.5px)"></div><div class="r" style="left:506px;top:367px;width:170px;background:linear-gradient(90deg,#870700 0.5px,#ff8000 37.5px,#ff8000 79.5px,#ffff80 118.5px,#ffff80 169.5px)"></div><div class="r" style="left:506px;top:368px;width:170px;background:linear-gradient(90deg,#870700 0.5px,#ff8000 37.5px,#ff8000 79.5px,#ffff80 118.5px,#ffff80 169.5px)"></div><div class="r" style="left:506px;top:369px;width:170px;background:linear-gradient(90deg,#880800 0.5px,#ff8000 37.5px,#ff8000 79.5px,#ffff80 118.5px,#ffff80 169.5px)"></div><div class="r" style="left:506px;top:370px;width:170px;background:linear-gradient(90deg,#880800 0.5px,#ff8000 37.5px,#ff8000 79.5px,#ffff80 118.5px,#ffff80 169.5px)"></div><div class="r" style="left:506px;top:371px;width:170px;background:linear-gradient(90deg,#880800 0.5px,#fe7f00 36.5px,#ff8000 79.5px,#ffff80 118.5px,#ffff80 169.5px)"></div><div class="r" style="left:506px;top:372px;width:170px;background:linear-gradient(90deg,#880800 0.5px,#fe7f00 36.5px,#ff8000 79.5px,#ffff80 118.5px,#ffff80 169.5px)"></div><div class="r" style="left:506px;top:373px;width:170px;background:linear-gradient(90deg,#880800 0.5px,#fe7f00 36.5px,#ff8000 79.5px,#ffff80 118.5px,#ffff80 169.5px)"></div><div class="r" style="left:506px;top:374px;width:170px;background:linear-gradient(90deg,#880800 0.5px,#ff8000 36.5px,#ff8000 79.5px,#ffff80 118.5px,#ffff80 169.5px)"></div><div class="r" style="left:506px;top:375px;width:170px;background:linear-gradient(90deg,#880900 0.5px,#ff8000 36.5px,#ff8000 79.5px,#ffff80 118.5px,#ffff80 169.5px)"></div><div class="r" style="left:506px;top:376px;width:170px;background:linear-gradient(90deg,#890900 0.5px,#ff8000 36.5px,#ff8000 79.5px,#ffff80 118.5px,#ffff80 169.5px)"></div><div class="r" style="left:506px;top:377px;width:170px;background:linear-gradient(90deg,#890900 0.5px,#ff8000 36.5px,#ff8000 79.5px,#ffff80 118.5px,#ffff80 169.5px)"></div><div class="r" style="left:506px;top:378px;width:170px;background:linear-gradient(90deg,#890900 0.5px,#ff8000 36.5px,#ff8000 79.5px,#ffff80 118.5px,#ffff80 169.5px)"></div><div class="r" style="left:506px;top:379px;width:170px;background:linear-gradient(90deg,#890900 0.5px,#ff8000 36.5px,#ff8000 79.5px,#ffff80 118.5px,#ffff80 169.5px)"></div><div class="r" style="left:506px;top:380px;width:170px;background:linear-gradient(90deg,#890900 0.5px,#ff8000 36.5px,#ff8000 79.5px,#ffff80 118.5px,#ffff80 169.5px)"></div><div class="r" style="left:506px;top:381px;width:170px;background:linear-gradient(90deg,#890900 0.5px,#ff8000 36.5px,#ff8000 79.5px,#ffff80 118.5px,#ffff80 169.5px)"></div><div class="r" style="left:506px;top:382px;width:170px;background:linear-gradient(90deg,#890900 0.5px,#ff8000 36.5px,#ff8000 79.5px,#ffff80 118.5px,#ffff80 169.5px)"></div><div class="r" style="left:506px;top:383px;width:170px;background:linear-gradient(90deg,#8a0a00 0.5px,#ff8000 36.5px,#ff8000 79.5px,#ffff80 118.5px,#ffff80 169.5px)"></div><div class="r" style="left:506px;top:384px;width:170px;background:linear-gradient(90deg,#8a0a00 0.5px,#ff8000 36.5px,#ff8000 79.5px,#ffff80 118.5px,#ffff80 169.5px)"></div><div class="r" style="left:506px;top:385px;width:170px;background:linear-gradient(90deg,#8a0a00 0.5px,#ff8000 36.5px,#ff8000 79.5px,#ffff80 118.5px,#ffff80 169.5px)"></div><div class="r" style="left:506px;top:386px;width:170px;background:linear-gradient(90deg,#8a0a00 0.5px,#ff8000 36.5px,#ff8000 79.5px,#ffff80 118.5px,#ffff80 169.5px)"></div><div class="r" style="left:506px;top:387px;width:170px;background:linear-gradient(90deg,#8a0a00 0.5px,#ff8000 36.5px,#ff8000 79.5px,#ffff80 118.5px,#ffff80 169.5px)"></div><div class="r" style="left:506px;top:388px;width:170px;background:linear-gradient(90deg,#8a0a00 0.5px,#ff8000 36.5px,#ff8000 79.5px,#ffff80 118.5px,#ffff80 169.5px)"></div><div class="r" style="left:506px;top:389px;width:170px;background:linear-gradient(90deg,#8a0a00 0.5px,#ff8000 36.5px,#ff8000 79.5px,#ffff80 118.5px,#ffff80 169.5px)"></div><div class="r" style="left:506px;top:390px;width:170px;background:linear-gradient(90deg,#8a0a00 0.5px,#ff8000 36.5px,#ff8000 79.5px,#ffff80 118.5px,#ffff80 169.5px)"></div><div class="r" style="left:506px;top:391px;width:170px;background:linear-gradient(90deg,#8a0a00 0.5px,#ff8000 36.5px,#ff8000 79.5px,#ffff80 118.5px,#ffff80 169.5px)"></div><div class="r" style="left:506px;top:392px;width:170px;background:linear-gradient(90deg,#8a0a00 0.5px,#ff8000 36.5px,#ff8000 79.5px,#ffff80 118.5px,#ffff80 169.5px)"></div><div class="r" style="left:506px;top:393px;width:170px;background:linear-gradient(90deg,#8a0b00 0.5px,#ff8000 36.5px,#ff8000 79.5px,#ffff80 118.5px,#ffff80 169.5px)"></div><div class="r" style="left:506px;top:394px;width:170px;background:linear-gradient(90deg,#8b0b00 0.5px,#ff8000 36.5px,#ff8303 80.5px,#ffff80 118.5px,#ffff80 169.5px)"></div><div class="r" style="left:506px;top:395px;width:170px;background:linear-gradient(90deg,#8b0b00 0.5px,#ff8000 36.5px,#ff8202 80.5px,#ffff80 118.5px,#ffff80 169.5px)"></div><div class="r" style="left:506px;top:396px;width:170px;background:linear-gradient(90deg,#8b0b00 0.5px,#ff8000 36.5px,#ff8202 80.5px,#ffff80 118.5px,#ffff80 169.5px)"></div><div class="r" style="left:506px;top:397px;width:170px;background:linear-gradient(90deg,#8b0b00 0.5px,#ff8000 36.5px,#ff8202 80.5px,#ffff80 118.5px,#ffff80 169.5px)"></div><div class="r" style="left:506px;top:398px;width:170px;background:linear-gradient(90deg,#8b0b00 0.5px,#ff8000 36.5px,#ff8202 80.5px,#ffff80 118.5px,#ffff80 169.5px)"></div><div class="r" style="left:506px;top:399px;width:170px;background:linear-gradient(90deg,#8b0b00 0.5px,#ff8000 36.5px,#ff8202 80.5px,#fffe7f 118.5px,#ffff80 169.5px)"></div><div class="r" style="left:506px;top:400px;width:170px;background:linear-gradient(90deg,#8b0b00 0.5px,#ff8000 36.5px,#ff8202 80.5px,#fffe7f 118.5px,#ffff80 169.5px)"></div><div class="r" style="left:506px;top:401px;width:170px;background:linear-gradient(90deg,#8b0b00 0.5px,#ff8000 36.5px,#ff8202 80.5px,#ffff80 119.5px,#ffff80 169.5px)"></div><div class="r" style="left:506px;top:402px;width:170px;background:linear-gradient(90deg,#8b0b00 0.5px,#ff8000 36.5px,#ff8202 80.5px,#ffff80 119.5px,#ffff80 169.5px)"></div><div class="r" style="left:506px;top:403px;width:170px;background:linear-gradient(90deg,#8b0b00 0.5px,#ff8000 36.5px,#ff8202 80.5px,#ffff80 119.5px,#ffff80 169.5px)"></div><div class="r" style="left:506px;top:404px;width:170px;background:linear-gradient(90deg,#8b0b00 0.5px,#ff8000 36.5px,#ff8202 80.5px,#ffff80 119.5px,#ffff80 169.5px)"></div><div class="r" style="left:506px;top:405px;width:170px;background:linear-gradient(90deg,#8b0b00 0.5px,#ff8000 36.5px,#ff8202 80.5px,#ffff80 119.5px,#ffff80 169.5px)"></div><div class="r" style="left:506px;top:406px;width:170px;background:linear-gradient(90deg,#8b0b00 0.5px,#ff8000 36.5px,#ff8101 80.5px,#ffff80 119.5px,#ffff80 169.5px)"></div><div class="r" style="left:506px;top:407px;width:170px;background:linear-gradient(90deg,#8b0b00 0.5px,#ff8000 36.5px,#ff8101 80.5px,#ffff80 119.5px,#ffff80 169.5px)"></div><div class="r" style="left:506px;top:408px;width:170px;background:linear-gradient(90deg,#8b0b00 0.5px,#ff8000 36.5px,#ff8101 80.5px,#ffff80 119.5px,#ffff80 169.5px)"></div><div class="r" style="left:506px;top:409px;width:170px;background:linear-gradient(90deg,#8b0b00 0.5px,#ff8000 36.5px,#ff8101 80.5px,#ffff80 119.5px,#ffff80 169.5px)"></div><div class="r" style="left:506px;top:410px;width:170px;background:linear-gradient(90deg,#8b0b00 0.5px,#ff8000 36.5px,#ff8101 80.5px,#ffff80 119.5px,#ffff80 169.5px)"></div><div class="r" style="left:506px;top:411px;width:170px;background:linear-gradient(90deg,#8b0b00 0.5px,#ff8000 36.5px,#ff8101 80.5px,#ffff80 119.5px,#ffff80 169.5px)"></div><div class="r" style="left:506px;top:412px;width:170px;background:linear-gradient(90deg,#8b0c00 0.5px,#ff8000 36.5px,#ff8101 80.5px,#ffff80 119.5px,#ffff80 169.5px)"></div><div class="r" style="left:506px;top:413px;width:170px;background:linear-gradient(90deg,#8b0c00 0.5px,#ff8000 36.5px,#ff8101 80.5px,#ffff80 119.5px,#ffff80 169.5px)"></div></div>
<svg class="f" style="will-change:transform" width="685" height="454" viewBox="0 0 685 454">
<style>text{font-family:"Liberation Serif",serif;fill:#111}.t{font-family:"Liberation Sans",sans-serif;font-size:4.1px;fill:#444}.ti{font-size:13.8px;stroke:#111;stroke-width:0.33px}.lt{font-size:12.5px;stroke:#111;stroke-width:0.3px}.lb{font-size:12.3px;font-weight:bold}.ty{font-family:"Liberation Sans",sans-serif;font-size:4.7px;fill:#5a5a5a}.tm{font-family:"Liberation Sans",sans-serif;font-size:3.3px;fill:#888;stroke:#999;stroke-width:0.2px}.cl{font-family:"Liberation Sans",sans-serif;font-size:4.6px;fill:#5e6874}</style>
<path d="M42.5,27.7 43.4,27.5 44.0,27.4 45.0,27.2 46.0,27.0 46.5,26.9 47.5,26.7 48.5,26.5 49.0,26.5 50.0,26.3 51.0,26.1 51.5,26.0 52.5,25.8 53.5,25.6 54.0,25.5 55.0,25.3 56.0,25.1 56.5,25.0 57.5,24.8 58.5,24.6 59.0,24.5 60.0,24.3 61.0,24.1 61.5,24.0 62.5,23.8 63.5,23.6 64.0,23.5 65.0,23.3 66.0,23.0 66.5,22.9 67.5,22.7 68.5,22.5 69.0,22.4 70.0,22.2 70.9,22.0 71.5,21.9 72.5,21.6 73.1,21.5 74.0,21.3 75.0,21.1 75.5,21.0 76.5,20.7 77.5,20.5 78.0,20.4 79.0,20.2 79.7,20.0 80.5,19.8 81.5,19.6 82.0,19.5 83.0,19.2 83.9,19.0 84.5,18.9 85.5,18.6 86.0,18.5 87.0,18.3 88.0,18.0 88.5,17.9 89.5,17.6 90.0,17.5 91.0,17.3 92.0,17.0 92.5,16.9 93.5,16.6 94.0,16.5 95.0,16.2 95.9,16.0 96.5,15.8 97.5,15.6 98.0,15.4 99.0,15.2 99.7,15.0 100.5,14.8 101.5,14.5 102.0,14.4 103.0,14.1 103.5,14.0 104.5,13.7 105.1,13.5 106.0,13.3 106.9,13.0 107.5,12.8 108.5,12.5 109.0,12.4 110.0,12.1 110.5,12.0 111.5,11.7 112.1,11.5 112.1,11.5" fill="none" stroke="#00827f" stroke-opacity="0.58" stroke-width="1" shape-rendering="crispEdges"/>
<path d="M42.5,45.6 43.2,45.5 44.0,45.4 45.0,45.3 46.0,45.1 47.0,45.0 47.5,45.0 48.5,44.8 49.5,44.7 50.5,44.6 51.0,44.5 52.0,44.4 53.0,44.2 54.0,44.1 54.7,44.0 55.5,43.9 56.5,43.8 57.5,43.6 58.3,43.5 59.0,43.4 60.0,43.3 61.0,43.1 61.8,43.0 62.5,42.9 63.5,42.8 64.5,42.6 65.2,42.5 66.0,42.4 67.0,42.2 68.0,42.1 68.6,42.0 69.5,41.9 70.5,41.7 71.5,41.5 72.0,41.5 73.0,41.3 74.0,41.2 75.0,41.0 75.5,40.9 76.5,40.8 77.5,40.6 78.0,40.5 79.0,40.3 80.0,40.2 81.0,40.0 81.5,39.9 82.5,39.8 83.5,39.6 84.0,39.5 85.0,39.3 86.0,39.1 86.8,39.0 87.5,38.9 88.5,38.7 89.5,38.5 90.0,38.4 91.0,38.2 92.0,38.1 92.5,38.0 93.5,37.8 94.5,37.6 95.0,37.5 96.0,37.3 97.0,37.1 97.6,37.0 98.5,36.8 99.5,36.6 100.1,36.5 101.0,36.3 102.0,36.1 102.6,36.0 103.5,35.8 104.5,35.6 105.0,35.5 106.0,35.3 107.0,35.1 107.5,35.0 108.5,34.8 109.5,34.5 110.0,34.4 111.0,34.2 112.0,34.0 112.5,33.9 113.5,33.7 114.2,33.5 115.0,33.3 116.0,33.1 116.5,33.0 117.5,32.7 118.5,32.5 119.0,32.4 120.0,32.2 120.7,32.0 121.5,31.8 122.5,31.6 123.0,31.4 124.0,31.2 124.7,31.0 125.5,30.8 126.5,30.6 127.0,30.4 128.0,30.2 128.7,30.0 129.5,29.8 130.5,29.5 131.0,29.4 132.0,29.1 132.5,29.0 133.5,28.7 134.3,28.5 135.0,28.3 136.0,28.0 136.5,27.9 137.5,27.6 138.0,27.5 139.0,27.2 139.6,27.0 140.5,26.7 141.3,26.5 142.0,26.3 143.0,26.0 143.5,25.9 144.5,25.6 145.0,25.4 146.0,25.1 146.5,25.0 147.5,24.6 148.0,24.5 149.0,24.2 149.5,24.0 150.5,23.7 151.1,23.5 152.0,23.2 152.7,23.0 153.5,22.7 154.2,22.5 155.0,22.2 155.7,22.0 156.5,21.7 157.1,21.5 158.0,21.2 158.6,21.0 159.5,20.7 160.0,20.5 161.0,20.2 161.5,20.0 162.5,19.6 163.0,19.4 164.0,19.1 164.5,18.9 165.5,18.5 166.0,18.3 166.9,18.0 167.5,17.8 168.2,17.5 169.0,17.2 169.5,17.0 170.5,16.6 171.0,16.4 172.0,16.0 172.5,15.8 173.4,15.5 174.0,15.2 174.6,15.0 175.5,14.6 176.0,14.4 177.0,14.0 177.5,13.8 178.2,13.5 179.0,13.2 179.5,13.0 180.5,12.5 181.0,12.3 181.8,12.0 182.5,11.7 182.9,11.5" fill="none" stroke="#00827f" stroke-opacity="0.58" stroke-width="1" shape-rendering="crispEdges"/>
<path d="M215.5,170.2 215.0,170.6 214.4,171.0 213.8,171.5 213.1,172.0 212.5,172.5 212.0,172.9 211.5,173.2 211.0,173.6 210.5,174.0 209.9,174.5 209.2,175.0 208.6,175.5 208.0,176.0 207.5,176.4 207.0,176.8 206.5,177.2 206.0,177.6 205.5,178.0 204.8,178.5 204.2,179.0 203.6,179.5 203.0,180.0 202.5,180.4 202.0,180.8 201.5,181.2 201.0,181.6 200.5,182.0 199.9,182.5 199.3,183.0 198.7,183.5 198.1,184.0 197.5,184.5 197.0,184.9 196.5,185.4 196.0,185.8 195.5,186.2 195.0,186.6 194.5,187.1 194.0,187.5 193.4,188.0 192.8,188.5 192.8,188.5" fill="none" stroke="#00827f" stroke-opacity="0.58" stroke-width="1" shape-rendering="crispEdges"/>
<path d="M42.5,65.9 43.5,65.9 44.5,65.8 45.5,65.8 46.5,65.7 47.5,65.7 48.5,65.7 49.5,65.6 50.5,65.6 51.5,65.5 52.2,65.5 53.0,65.5 54.0,65.4 55.0,65.4 56.0,65.3 57.0,65.3 58.0,65.2 59.0,65.2 60.0,65.1 61.0,65.1 62.0,65.1 63.0,65.0 63.5,65.0 64.5,64.9 65.5,64.9 66.5,64.8 67.5,64.8 68.5,64.7 69.5,64.7 70.5,64.6 71.5,64.6 72.5,64.5 73.0,64.5 74.0,64.4 75.0,64.4 76.0,64.3 77.0,64.3 78.0,64.2 79.0,64.2 80.0,64.1 81.0,64.1 81.9,64.0 82.5,64.0 83.5,63.9 84.5,63.8 85.5,63.8 86.5,63.7 87.5,63.7 88.5,63.6 89.5,63.5 90.1,63.5 91.0,63.4 92.0,63.4 93.0,63.3 94.0,63.2 95.0,63.2 96.0,63.1 97.0,63.0 97.7,63.0 98.5,62.9 99.5,62.9 100.5,62.8 101.5,62.7 102.5,62.7 103.5,62.6 104.5,62.5 105.0,62.5 106.0,62.4 107.0,62.3 108.0,62.2 109.0,62.2 110.0,62.1 110.9,62.0 111.5,62.0 112.5,61.9 113.5,61.8 114.5,61.7 115.5,61.6 116.5,61.5 117.0,61.5 118.0,61.4 119.0,61.3 120.0,61.2 121.0,61.1 122.0,61.0 122.5,61.0 123.5,60.9 124.5,60.8 125.5,60.7 126.5,60.6 127.4,60.5 128.0,60.4 129.0,60.3 130.0,60.2 131.0,60.1 132.0,60.0 132.5,60.0 133.5,59.8 134.5,59.7 135.5,59.6 136.5,59.5 137.0,59.4 138.0,59.3 139.0,59.2 140.0,59.1 140.6,59.0 141.5,58.9 142.5,58.8 143.5,58.6 144.5,58.5 145.0,58.4 146.0,58.3 147.0,58.2 148.0,58.0 148.5,58.0 149.5,57.8 150.5,57.7 151.5,57.5 152.0,57.4 153.0,57.3 154.0,57.1 154.9,57.0 155.5,56.9 156.5,56.7 157.5,56.6 158.0,56.5 159.0,56.3 160.0,56.2 160.9,56.0 161.5,55.9 162.5,55.7 163.5,55.5 164.0,55.5 165.0,55.3 166.0,55.1 166.5,55.0 167.5,54.8 168.5,54.6 169.0,54.5 170.0,54.3 171.0,54.1 171.5,54.0 172.5,53.8 173.5,53.5 174.0,53.4 175.0,53.2 175.9,53.0 176.5,52.9 177.5,52.6 178.0,52.5 179.0,52.3 180.0,52.0 180.5,51.9 181.5,51.6 182.0,51.5 183.0,51.2 183.9,51.0 184.5,50.8 185.5,50.6 186.0,50.4 187.0,50.1 187.5,50.0 188.5,49.7 189.2,49.5 190.0,49.2 190.8,49.0 191.5,48.8 192.4,48.5 193.0,48.3 193.9,48.0 194.5,47.8 195.4,47.5 196.0,47.3 196.9,47.0 197.5,46.8 198.3,46.5 199.0,46.2 199.6,46.0 200.5,45.7 201.0,45.5 202.0,45.1 202.5,44.9 203.5,44.5 204.0,44.3 204.8,44.0 205.5,43.7 206.0,43.5 207.0,43.1 207.5,42.9 208.3,42.5 209.0,42.2 209.5,42.0 210.5,41.5 211.0,41.3 211.6,41.0 212.5,40.6 213.0,40.3 213.7,40.0 214.5,39.6 215.0,39.4 215.5,39.1" fill="none" stroke="#00827f" stroke-opacity="0.58" stroke-width="1" shape-rendering="crispEdges"/>
<path d="M215.5,125.9 215.0,126.3 214.5,126.8 214.0,127.2 213.5,127.6 213.0,128.0 212.5,128.5 211.9,129.0 211.3,129.5 210.7,130.0 210.2,130.5 209.6,131.0 209.0,131.5 208.5,132.0 208.0,132.4 207.5,132.9 207.0,133.4 206.5,133.8 206.0,134.3 205.5,134.7 205.0,135.2 204.5,135.7 204.0,136.1 203.5,136.6 203.0,137.1 202.5,137.5 202.0,138.0 201.5,138.5 201.0,139.0 200.5,139.5 199.9,140.0 199.4,140.5 198.9,141.0 198.4,141.5 197.9,142.0 197.4,142.5 196.9,143.0 196.4,143.5 195.9,144.0 195.4,144.5 194.9,145.0 194.4,145.5 193.9,146.0 193.4,146.5 192.9,147.0 192.4,147.5 191.9,148.0 191.4,148.5 191.0,149.0 190.5,149.5 190.0,150.0 189.5,150.5 189.0,151.0 188.5,151.5 188.0,152.1 187.5,152.6 187.0,153.1 186.5,153.6 186.0,154.2 185.5,154.7 185.0,155.2 184.5,155.8 184.0,156.3 183.5,156.8 183.0,157.4 182.5,157.9 182.0,158.5 181.5,159.0 181.0,159.5 180.6,160.0 180.1,160.5 179.7,161.0 179.2,161.5 178.8,162.0 178.3,162.5 177.8,163.0 177.4,163.5 176.9,164.0 176.5,164.5 176.0,165.0 175.5,165.6 175.0,166.2 174.5,166.7 174.0,167.3 173.5,167.8 173.0,168.4 172.5,169.0 172.0,169.5 171.6,170.0 171.1,170.5 170.7,171.0 170.2,171.5 169.8,172.0 169.4,172.5 168.9,173.0 168.5,173.5 168.0,174.1 167.5,174.6 167.0,175.2 166.5,175.8 166.0,176.4 165.5,176.9 165.0,177.5 164.6,178.0 164.1,178.5 163.7,179.0 163.3,179.5 162.8,180.0 162.4,180.5 162.0,181.0 161.5,181.6 161.0,182.1 160.5,182.7 160.0,183.3 159.5,183.9 159.0,184.5 158.6,185.0 158.1,185.5 157.7,186.0 157.3,186.5 156.9,187.0 156.4,187.5 156.0,188.0 155.6,188.5" fill="none" stroke="#00827f" stroke-opacity="0.58" stroke-width="1" shape-rendering="crispEdges"/>
<path d="M42.5,90.0 43.0,90.0 44.0,90.1 45.0,90.2 46.0,90.3 47.0,90.4 47.7,90.5 48.5,90.6 49.5,90.7 50.5,90.8 51.5,90.9 52.2,91.0 53.0,91.1 54.0,91.2 55.0,91.3 56.0,91.5 56.5,91.5 57.5,91.6 58.5,91.8 59.5,91.9 60.4,92.0 61.0,92.1 62.0,92.2 63.0,92.4 64.0,92.5 64.5,92.6 65.5,92.7 66.5,92.8 67.5,93.0 68.0,93.1 69.0,93.2 70.0,93.4 70.9,93.5 71.5,93.6 72.5,93.8 73.5,93.9 74.0,94.0 75.0,94.2 76.0,94.3 77.0,94.5 77.5,94.6 78.5,94.8 79.5,95.0 80.0,95.0 81.0,95.2 82.0,95.4 82.5,95.5 83.5,95.7 84.5,95.9 85.0,96.0 86.0,96.2 87.0,96.4 87.5,96.6 88.5,96.8 89.5,97.0 90.0,97.1 91.0,97.3 91.7,97.5 92.5,97.7 93.5,97.9 94.0,98.1 95.0,98.3 95.7,98.5 96.5,98.7 97.5,99.0 98.0,99.1 99.0,99.4 99.5,99.6 100.5,99.9 101.0,100.0 102.0,100.3 102.6,100.5 103.5,100.8 104.1,101.0 105.0,101.3 105.6,101.5 106.5,101.8 107.0,102.0 108.0,102.4 108.5,102.6 109.5,102.9 110.0,103.1 110.9,103.5 111.5,103.8 112.0,104.0 113.0,104.4 113.5,104.7 114.2,105.0 115.0,105.4 115.5,105.6 116.3,106.0 117.0,106.4 117.5,106.6 118.1,107.0 119.0,107.5 119.5,107.8 120.0,108.1 120.7,108.5 121.4,109.0 122.0,109.4 122.5,109.7 123.0,110.1 123.6,110.5 124.2,111.0 124.8,111.5 125.4,112.0 126.0,112.5 126.5,112.9 127.0,113.4 127.5,113.9 128.0,114.4 128.5,114.9 129.0,115.5 129.4,116.0 129.9,116.5 130.2,117.0 130.6,117.5 131.0,118.0 131.5,118.8 132.0,119.5 132.3,120.0 132.5,120.5 133.0,121.4 133.3,122.0 133.5,122.5 134.0,123.5 134.2,124.0 134.5,125.0 134.7,125.5 135.0,126.5 135.1,127.0 135.4,128.0 135.5,128.7 135.6,129.5 135.8,130.5 135.9,131.5 136.0,132.2 136.1,133.0 136.1,134.0 136.2,135.0 136.2,136.0 136.1,137.0 136.1,138.0 136.0,139.0 136.0,139.5 135.9,140.5 135.8,141.5 135.7,142.5 135.5,143.5 135.4,144.0 135.3,145.0 135.1,146.0 135.0,146.5 134.8,147.5 134.6,148.5 134.4,149.0 134.2,150.0 134.0,150.8 133.8,151.5 133.5,152.5 133.4,153.0 133.1,154.0 132.9,154.5 132.6,155.5 132.5,156.0 132.2,157.0 132.0,157.5 131.6,158.5 131.5,159.0 131.1,160.0 130.9,160.5 130.6,161.5 130.4,162.0 130.0,163.0 129.8,163.5 129.5,164.3 129.2,165.0 129.0,165.6 128.6,166.5 128.4,167.0 128.0,168.0 127.8,168.5 127.5,169.2 127.2,170.0 126.9,170.5 126.5,171.5 126.3,172.0 126.0,172.6 125.6,173.5 125.4,174.0 125.0,174.8 124.7,175.5 124.4,176.0 124.0,176.9 123.7,177.5 123.5,178.0 123.0,179.0 122.8,179.5 122.5,180.1 122.0,181.0 121.8,181.5 121.5,182.1 121.0,183.0 120.8,183.5 120.5,184.1 120.0,185.0 119.8,185.5 119.5,186.0 119.0,187.0 118.7,187.5 118.5,188.0 118.2,188.5" fill="none" stroke="#00827f" stroke-opacity="0.58" stroke-width="1" shape-rendering="crispEdges"/>
<path d="M42.5,121.2 43.3,121.5 44.0,121.8 44.5,122.0 45.5,122.5 46.0,122.7 46.7,123.0 47.5,123.4 48.0,123.6 48.9,124.0 49.5,124.3 50.0,124.6 50.9,125.0 51.5,125.3 52.0,125.6 52.8,126.0 53.5,126.4 54.0,126.6 54.6,127.0 55.5,127.5 56.0,127.8 56.5,128.1 57.2,128.5 58.0,129.0 58.5,129.3 59.0,129.6 59.6,130.0 60.3,130.5 61.0,131.0 61.5,131.3 62.0,131.7 62.5,132.1 63.1,132.5 63.7,133.0 64.4,133.5 65.0,134.0 65.5,134.4 66.0,134.8 66.5,135.3 67.0,135.7 67.5,136.2 68.0,136.6 68.5,137.1 69.0,137.6 69.5,138.1 70.0,138.6 70.5,139.2 71.0,139.7 71.5,140.3 72.0,140.9 72.5,141.5 72.9,142.0 73.3,142.5 73.7,143.0 74.0,143.5 74.5,144.1 75.0,144.9 75.4,145.5 75.7,146.0 76.0,146.5 76.5,147.3 76.9,148.0 77.2,148.5 77.5,149.1 77.9,150.0 78.2,150.5 78.5,151.2 78.8,152.0 79.0,152.5 79.4,153.5 79.6,154.0 80.0,155.0 80.1,155.5 80.4,156.5 80.6,157.0 80.9,158.0 81.0,158.6 81.2,159.5 81.4,160.5 81.5,161.0 81.7,162.0 81.9,163.0 82.0,163.8 82.1,164.5 82.2,165.5 82.3,166.5 82.4,167.5 82.4,168.5 82.5,169.5 82.5,170.4 82.5,171.0 82.5,172.0 82.5,173.0 82.5,173.5 82.5,174.5 82.4,175.5 82.3,176.5 82.3,177.5 82.2,178.5 82.1,179.5 82.0,180.3 81.9,181.0 81.8,182.0 81.6,183.0 81.5,184.0 81.4,184.5 81.2,185.5 81.1,186.5 81.0,187.0 80.8,188.0 80.7,188.5" fill="none" stroke="#00827f" stroke-opacity="0.58" stroke-width="1" shape-rendering="crispEdges"/>
<rect x="67.1" y="13.7" width="22.3" height="6" fill="#f0f8fa" stroke="#3a9e9a" stroke-width="0.9"/>
<text class="cl" x="78.3" y="18.4" text-anchor="middle">0.853333</text>
<rect x="105.7" y="26.8" width="19.9" height="6" fill="#f0f8fa" stroke="#3a9e9a" stroke-width="0.9"/>
<text class="cl" x="115.7" y="31.5" text-anchor="middle">1.66833</text>
<rect x="123.0" y="53.3" width="19.9" height="6" fill="#f0f8fa" stroke="#3a9e9a" stroke-width="0.9"/>
<text class="cl" x="133.0" y="58.0" text-anchor="middle">2.48333</text>
<rect x="110.0" y="102.2" width="19.9" height="6" fill="#f0f8fa" stroke="#3a9e9a" stroke-width="0.9"/>
<text class="cl" x="120.0" y="106.9" text-anchor="middle">3.29833</text>
<rect x="63.7" y="137.4" width="19.9" height="6" fill="#f0f8fa" stroke="#3a9e9a" stroke-width="0.9"/>
<text class="cl" x="73.7" y="142.1" text-anchor="middle">4.11333</text>
<rect x="175.0" y="149.5" width="19.9" height="6" fill="#f0f8fa" stroke="#3a9e9a" stroke-width="0.9"/>
<text class="cl" x="185.0" y="154.2" text-anchor="middle">2.48333</text>
<rect x="194.3" y="172.6" width="19.9" height="6" fill="#f0f8fa" stroke="#3a9e9a" stroke-width="0.9"/>
<text class="cl" x="204.3" y="177.3" text-anchor="middle">1.66833</text>
<rect x="42.5" y="11.5" width="173.0" height="177.0" fill="none" stroke="#5a5a5a" stroke-opacity="0.85" stroke-width="1"/>
<line x1="42.5" y1="188.5" x2="42.5" y2="192.5" stroke="#5a5a5a" stroke-opacity="0.85" stroke-width="1"/>
<text class="t" x="42.5" y="198.0" text-anchor="middle">10.00</text>
<line x1="85.8" y1="188.5" x2="85.8" y2="192.5" stroke="#5a5a5a" stroke-opacity="0.85" stroke-width="1"/>
<text class="t" x="85.8" y="198.0" text-anchor="middle">20.00</text>
<line x1="129.0" y1="188.5" x2="129.0" y2="192.5" stroke="#5a5a5a" stroke-opacity="0.85" stroke-width="1"/>
<text class="t" x="129.0" y="198.0" text-anchor="middle">30.00</text>
<line x1="172.2" y1="188.5" x2="172.2" y2="192.5" stroke="#5a5a5a" stroke-opacity="0.85" stroke-width="1"/>
<text class="t" x="172.2" y="198.0" text-anchor="middle">40.00</text>
<line x1="215.5" y1="188.5" x2="215.5" y2="192.5" stroke="#5a5a5a" stroke-opacity="0.85" stroke-width="1"/>
<text class="t" x="215.5" y="198.0" text-anchor="middle">50.00</text>
<line x1="38.0" y1="188.5" x2="42.5" y2="188.5" stroke="#5a5a5a" stroke-opacity="0.85" stroke-width="1"/>
<text class="ty" x="37.0" y="190.2" text-anchor="end">1000</text>
<line x1="38.0" y1="144.2" x2="42.5" y2="144.2" stroke="#5a5a5a" stroke-opacity="0.85" stroke-width="1"/>
<text class="ty" x="37.0" y="145.9" text-anchor="end">2000</text>
<line x1="38.0" y1="100.0" x2="42.5" y2="100.0" stroke="#5a5a5a" stroke-opacity="0.85" stroke-width="1"/>
<text class="ty" x="37.0" y="101.7" text-anchor="end">3000</text>
<line x1="38.0" y1="55.8" x2="42.5" y2="55.8" stroke="#5a5a5a" stroke-opacity="0.85" stroke-width="1"/>
<text class="ty" x="37.0" y="57.5" text-anchor="end">4000</text>
<line x1="38.0" y1="11.5" x2="42.5" y2="11.5" stroke="#5a5a5a" stroke-opacity="0.85" stroke-width="1"/>
<text class="ty" x="37.0" y="13.2" text-anchor="end">5000</text>
<circle cx="129.0" cy="11.5" r="1.5" fill="#5ee01a" stroke="#2a6a10" stroke-width="0.6"/>
<circle cx="129.0" cy="188.5" r="1.5" fill="#5ee01a" stroke="#2a6a10" stroke-width="0.6"/>
<circle cx="42.5" cy="100.0" r="1.5" fill="#5ee01a" stroke="#2a6a10" stroke-width="0.6"/>
<circle cx="215.5" cy="100.0" r="1.5" fill="#5ee01a" stroke="#2a6a10" stroke-width="0.6"/>
<circle cx="129.0" cy="100.0" r="1.5" fill="#5ee01a" stroke="#2a6a10" stroke-width="0.6"/>
<text x="123.0" y="101.8" style="font-family:Liberation Sans,sans-serif;font-size:5.5px;font-weight:bold;fill:#3a1a00">6</text>
<circle cx="126.5" cy="100.0" r="1.5" fill="#3a1a00"/>
<text class="lb" x="6.7" y="27.0">A.</text>
<text class="ti" x="88.9" y="215.7" textLength="77.5" lengthAdjust="spacingAndGlyphs">Carbon Source</text>
<text class="ti" transform="translate(17.7,148.7) rotate(-90)" textLength="84.6" lengthAdjust="spacingAndGlyphs">Nitrogen Source</text>
<path d="M269.5,40.0 270.0,40.0 271.0,40.1 272.0,40.1 273.0,40.1 274.0,40.2 275.0,40.2 276.0,40.3 277.0,40.3 278.0,40.4 279.0,40.4 280.0,40.5 280.7,40.5 281.5,40.5 282.5,40.6 283.5,40.6 284.5,40.7 285.5,40.7 286.5,40.8 287.5,40.8 288.5,40.9 289.5,40.9 290.5,41.0 291.0,41.0 292.0,41.0 293.0,41.1 294.0,41.1 295.0,41.2 296.0,41.3 297.0,41.3 298.0,41.4 299.0,41.4 300.0,41.5 300.8,41.5 301.5,41.5 302.5,41.6 303.5,41.6 304.5,41.7 305.5,41.8 306.5,41.8 307.5,41.9 308.5,41.9 309.5,42.0 310.1,42.0 311.0,42.1 312.0,42.1 313.0,42.2 314.0,42.2 315.0,42.3 316.0,42.3 317.0,42.4 318.0,42.4 318.9,42.5 319.5,42.5 320.5,42.6 321.5,42.7 322.5,42.7 323.5,42.8 324.5,42.8 325.5,42.9 326.5,42.9 327.3,43.0 328.0,43.0 329.0,43.1 330.0,43.2 331.0,43.2 332.0,43.3 333.0,43.3 334.0,43.4 335.0,43.5 335.5,43.5 336.5,43.6 337.5,43.6 338.5,43.7 339.5,43.8 340.5,43.8 341.5,43.9 342.5,44.0 343.2,44.0 344.0,44.1 345.0,44.1 346.0,44.2 347.0,44.2 348.0,44.3 349.0,44.4 350.0,44.5 350.7,44.5 351.5,44.6 352.5,44.6 353.5,44.7 354.5,44.8 355.5,44.8 356.5,44.9 357.5,45.0 358.0,45.0 359.0,45.1 360.0,45.1 361.0,45.2 362.0,45.3 363.0,45.4 364.0,45.4 365.0,45.5 365.5,45.5 366.5,45.6 367.5,45.7 368.5,45.8 369.5,45.8 370.5,45.9 371.5,46.0 372.0,46.0 373.0,46.1 374.0,46.2 375.0,46.2 376.0,46.3 377.0,46.4 378.0,46.5 378.5,46.5 379.5,46.6 380.5,46.7 381.5,46.7 382.5,46.8 383.5,46.9 384.5,47.0 385.0,47.0 386.0,47.1 387.0,47.2 388.0,47.3 389.0,47.3 390.0,47.4 390.9,47.5 391.5,47.6 392.5,47.6 393.5,47.7 394.5,47.8 395.5,47.9 396.5,48.0 397.0,48.0 398.0,48.1 399.0,48.2 400.0,48.3 401.0,48.3 402.0,48.4 402.8,48.5 403.5,48.6 404.5,48.6 405.5,48.7 406.5,48.8 407.5,48.9 408.5,49.0 409.0,49.0 410.0,49.1 411.0,49.2 412.0,49.3 413.0,49.4 414.0,49.5 414.5,49.5 415.5,49.6 416.5,49.7 417.5,49.8 418.5,49.9 419.5,50.0 420.0,50.0 421.0,50.1 422.0,50.2 423.0,50.3 424.0,50.4 424.9,50.5 425.5,50.6 426.5,50.7 427.5,50.7 428.5,50.8 429.5,50.9 430.1,51.0 431.0,51.1 432.0,51.2 433.0,51.3 434.0,51.4 435.0,51.5 435.5,51.5 436.5,51.6 437.5,51.7 438.5,51.8 439.5,51.9 440.2,52.0 441.0,52.1 442.0,52.2 443.0,52.3 444.0,52.4 445.0,52.5 445.5,52.5 446.5,52.6 447.5,52.7 448.5,52.9 449.5,53.0 450.0,53.0 450.5,53.1" fill="none" stroke="#00827f" stroke-opacity="0.58" stroke-width="1" shape-rendering="crispEdges"/>
<path d="M269.5,71.2 270.5,71.3 271.5,71.4 272.5,71.4 273.3,71.5 274.0,71.6 275.0,71.6 276.0,71.7 277.0,71.8 278.0,71.8 279.0,71.9 280.0,72.0 280.5,72.0 281.5,72.1 282.5,72.2 283.5,72.2 284.5,72.3 285.5,72.4 286.5,72.5 287.0,72.5 288.0,72.6 289.0,72.7 290.0,72.7 291.0,72.8 292.0,72.9 293.0,73.0 293.5,73.0 294.5,73.1 295.5,73.2 296.5,73.3 297.5,73.3 298.5,73.4 299.5,73.5 300.0,73.5 301.0,73.6 302.0,73.7 303.0,73.8 304.0,73.9 305.0,73.9 305.8,74.0 306.5,74.1 307.5,74.1 308.5,74.2 309.5,74.3 310.5,74.4 311.5,74.5 312.0,74.5 313.0,74.6 314.0,74.7 315.0,74.8 316.0,74.9 317.0,74.9 317.7,75.0 318.5,75.1 319.5,75.2 320.5,75.2 321.5,75.3 322.5,75.4 323.5,75.5 324.0,75.5 325.0,75.6 326.0,75.7 327.0,75.8 328.0,75.9 329.0,76.0 329.5,76.0 330.5,76.1 331.5,76.2 332.5,76.3 333.5,76.4 334.5,76.5 335.0,76.5 336.0,76.6 337.0,76.7 338.0,76.8 339.0,76.9 340.0,77.0 340.5,77.0 341.5,77.1 342.5,77.2 343.5,77.3 344.5,77.4 345.3,77.5 346.0,77.6 347.0,77.7 348.0,77.8 349.0,77.9 350.0,78.0 350.5,78.0 351.5,78.1 352.5,78.2 353.5,78.3 354.5,78.4 355.5,78.5 356.0,78.5 357.0,78.6 358.0,78.7 359.0,78.8 360.0,79.0 360.5,79.0 361.5,79.1 362.5,79.2 363.5,79.3 364.5,79.4 365.4,79.5 366.0,79.6 367.0,79.7 368.0,79.8 369.0,79.9 370.0,80.0 370.5,80.0 371.5,80.1 372.5,80.2 373.5,80.3 374.5,80.5 375.0,80.5 376.0,80.6 377.0,80.7 378.0,80.8 379.0,80.9 379.5,81.0 380.5,81.1 381.5,81.2 382.5,81.3 383.5,81.4 384.1,81.5 385.0,81.6 386.0,81.7 387.0,81.8 388.0,81.9 388.6,82.0 389.5,82.1 390.5,82.2 391.5,82.3 392.5,82.4 393.0,82.5 394.0,82.6 395.0,82.7 396.0,82.8 397.0,83.0 397.5,83.0 398.5,83.1 399.5,83.2 400.5,83.4 401.5,83.5 402.0,83.5 403.0,83.7 404.0,83.8 405.0,83.9 405.9,84.0 406.5,84.1 407.5,84.2 408.5,84.3 409.5,84.4 410.0,84.5 411.0,84.6 412.0,84.7 413.0,84.9 414.0,85.0 414.5,85.0 415.5,85.2 416.5,85.3 417.5,85.4 418.2,85.5 419.0,85.6 420.0,85.7 421.0,85.9 422.0,86.0 422.5,86.0 423.5,86.2 424.5,86.3 425.5,86.4 426.1,86.5 427.0,86.6 428.0,86.7 429.0,86.9 429.9,87.0 430.5,87.1 431.5,87.2 432.5,87.3 433.5,87.5 434.0,87.5 435.0,87.7 436.0,87.8 437.0,87.9 437.5,88.0 438.5,88.1 439.5,88.3 440.5,88.4 441.2,88.5 442.0,88.6 443.0,88.7 444.0,88.9 444.9,89.0 445.5,89.1 446.5,89.2 447.5,89.4 448.5,89.5 449.0,89.6 450.0,89.7 450.5,89.8" fill="none" stroke="#00827f" stroke-opacity="0.58" stroke-width="1" shape-rendering="crispEdges"/>
<path d="M269.5,101.6 270.5,101.7 271.5,101.7 272.5,101.8 273.5,101.9 274.1,102.0 275.0,102.1 276.0,102.2 277.0,102.3 278.0,102.4 279.0,102.5 279.5,102.5 280.5,102.6 281.5,102.7 282.5,102.8 283.5,102.9 284.3,103.0 285.0,103.1 286.0,103.2 287.0,103.3 288.0,103.4 289.0,103.5 289.5,103.5 290.5,103.6 291.5,103.7 292.5,103.8 293.5,103.9 294.1,104.0 295.0,104.1 296.0,104.2 297.0,104.3 298.0,104.4 298.9,104.5 299.5,104.6 300.5,104.7 301.5,104.8 302.5,104.9 303.5,105.0 304.0,105.0 305.0,105.1 306.0,105.3 307.0,105.4 308.0,105.5 308.5,105.5 309.5,105.6 310.5,105.7 311.5,105.8 312.5,106.0 313.0,106.0 314.0,106.1 315.0,106.2 316.0,106.3 317.0,106.5 317.5,106.5 318.5,106.6 319.5,106.7 320.5,106.8 321.5,107.0 322.0,107.0 323.0,107.1 324.0,107.2 325.0,107.4 326.0,107.5 326.5,107.5 327.5,107.6 328.5,107.8 329.5,107.9 330.5,108.0 331.0,108.1 332.0,108.2 333.0,108.3 334.0,108.4 334.8,108.5 335.5,108.6 336.5,108.7 337.5,108.8 338.5,108.9 339.0,109.0 340.0,109.1 341.0,109.2 342.0,109.4 343.0,109.5 343.5,109.5 344.5,109.7 345.5,109.8 346.5,109.9 347.2,110.0 348.0,110.1 349.0,110.2 350.0,110.3 351.0,110.5 351.5,110.5 352.5,110.7 353.5,110.8 354.5,110.9 355.2,111.0 356.0,111.1 357.0,111.2 358.0,111.4 359.0,111.5 359.5,111.5 360.5,111.7 361.5,111.8 362.5,111.9 363.0,112.0 364.0,112.1 365.0,112.3 366.0,112.4 366.9,112.5 367.5,112.6 368.5,112.7 369.5,112.8 370.5,113.0 371.0,113.0 372.0,113.2 373.0,113.3 374.0,113.4 374.5,113.5 375.5,113.6 376.5,113.8 377.5,113.9 378.1,114.0 379.0,114.1 380.0,114.3 381.0,114.4 381.8,114.5 382.5,114.6 383.5,114.7 384.5,114.9 385.4,115.0 386.0,115.1 387.0,115.2 388.0,115.4 389.0,115.5 389.5,115.6 390.5,115.7 391.5,115.9 392.5,116.0 393.0,116.1 394.0,116.2 395.0,116.4 396.0,116.5 396.5,116.6 397.5,116.7 398.5,116.9 399.5,117.0 400.0,117.1 401.0,117.2 402.0,117.4 402.9,117.5 403.5,117.6 404.5,117.7 405.5,117.9 406.3,118.0 407.0,118.1 408.0,118.3 409.0,118.4 409.6,118.5 410.5,118.6 411.5,118.8 412.5,118.9 413.0,119.0 414.0,119.2 415.0,119.3 416.0,119.5 416.5,119.5 417.5,119.7 418.5,119.8 419.5,120.0 420.0,120.1 421.0,120.2 422.0,120.4 422.7,120.5 423.5,120.6 424.5,120.8 425.5,120.9 426.0,121.0 427.0,121.2 428.0,121.3 429.0,121.5 429.5,121.6 430.5,121.7 431.5,121.9 432.2,122.0 433.0,122.1 434.0,122.3 435.0,122.5 435.5,122.5 436.5,122.7 437.5,122.9 438.4,123.0 439.0,123.1 440.0,123.3 441.0,123.4 441.5,123.5 442.5,123.7 443.5,123.8 444.4,124.0 445.0,124.1 446.0,124.3 447.0,124.4 447.5,124.5 448.5,124.7 449.5,124.9 450.4,125.0 450.5,125.0" fill="none" stroke="#00827f" stroke-opacity="0.58" stroke-width="1" shape-rendering="crispEdges"/>
<path d="M269.5,131.0 270.5,131.2 271.5,131.3 272.5,131.4 273.3,131.5 274.0,131.6 275.0,131.7 276.0,131.8 277.0,131.9 277.5,132.0 278.5,132.1 279.5,132.2 280.5,132.4 281.5,132.5 282.0,132.5 283.0,132.7 284.0,132.8 285.0,132.9 285.7,133.0 286.5,133.1 287.5,133.2 288.5,133.3 289.5,133.5 290.0,133.5 291.0,133.7 292.0,133.8 293.0,133.9 293.7,134.0 294.5,134.1 295.5,134.2 296.5,134.3 297.5,134.5 298.0,134.5 299.0,134.7 300.0,134.8 301.0,134.9 301.6,135.0 302.5,135.1 303.5,135.2 304.5,135.4 305.4,135.5 306.0,135.6 307.0,135.7 308.0,135.8 309.0,136.0 309.5,136.0 310.5,136.2 311.5,136.3 312.5,136.4 313.0,136.5 314.0,136.6 315.0,136.8 316.0,136.9 316.7,137.0 317.5,137.1 318.5,137.2 319.5,137.4 320.4,137.5 321.0,137.6 322.0,137.7 323.0,137.9 324.0,138.0 324.5,138.1 325.5,138.2 326.5,138.3 327.5,138.5 328.0,138.5 329.0,138.7 330.0,138.8 331.0,139.0 331.5,139.0 332.5,139.2 333.5,139.3 334.5,139.5 335.0,139.5 336.0,139.7 337.0,139.8 338.0,140.0 338.5,140.0 339.5,140.2 340.5,140.3 341.5,140.5 342.0,140.5 343.0,140.7 344.0,140.8 345.0,141.0 345.5,141.1 346.5,141.2 347.5,141.3 348.5,141.5 349.0,141.6 350.0,141.7 351.0,141.9 351.9,142.0 352.5,142.1 353.5,142.2 354.5,142.4 355.2,142.5 356.0,142.6 357.0,142.8 358.0,142.9 358.5,143.0 359.5,143.1 360.5,143.3 361.5,143.5 362.0,143.5 363.0,143.7 364.0,143.8 365.0,144.0 365.5,144.1 366.5,144.2 367.5,144.4 368.2,144.5 369.0,144.6 370.0,144.8 371.0,144.9 371.5,145.0 372.5,145.2 373.5,145.3 374.5,145.5 375.0,145.6 376.0,145.7 377.0,145.9 377.7,146.0 378.5,146.1 379.5,146.3 380.5,146.5 381.0,146.5 382.0,146.7 383.0,146.9 383.9,147.0 384.5,147.1 385.5,147.3 386.5,147.4 387.0,147.5 388.0,147.7 389.0,147.8 389.9,148.0 390.5,148.1 391.5,148.3 392.5,148.4 393.0,148.5 394.0,148.7 395.0,148.9 395.9,149.0 396.5,149.1 397.5,149.3 398.5,149.4 399.0,149.5 400.0,149.7 401.0,149.9 401.7,150.0 402.5,150.1 403.5,150.3 404.5,150.5 405.0,150.6 406.0,150.7 407.0,150.9 407.5,151.0 408.5,151.2 409.5,151.3 410.4,151.5 411.0,151.6 412.0,151.8 413.0,152.0 413.5,152.1 414.5,152.2 415.5,152.4 416.0,152.5 417.0,152.7 418.0,152.9 418.8,153.0 419.5,153.1 420.5,153.3 421.5,153.5 422.0,153.6 423.0,153.8 424.0,153.9 424.5,154.0 425.5,154.2 426.5,154.4 427.0,154.5 428.0,154.7 429.0,154.9 429.7,155.0 430.5,155.1 431.5,155.3 432.4,155.5 433.0,155.6 434.0,155.8 435.0,156.0 435.5,156.1 436.5,156.3 437.5,156.5 438.0,156.6 439.0,156.7 440.0,156.9 440.5,157.0 441.5,157.2 442.5,157.4 443.0,157.5 444.0,157.7 445.0,157.9 445.5,158.0 446.5,158.2 447.5,158.4 448.1,158.5 449.0,158.7 450.0,158.9 450.5,159.0" fill="none" stroke="#00827f" stroke-opacity="0.58" stroke-width="1" shape-rendering="crispEdges"/>
<path d="M269.5,159.8 270.5,159.9 271.2,160.0 272.0,160.1 273.0,160.2 274.0,160.4 274.8,160.5 275.5,160.6 276.5,160.7 277.5,160.9 278.3,161.0 279.0,161.1 280.0,161.2 281.0,161.4 281.9,161.5 282.5,161.6 283.5,161.7 284.5,161.9 285.3,162.0 286.0,162.1 287.0,162.2 288.0,162.4 288.8,162.5 289.5,162.6 290.5,162.7 291.5,162.9 292.2,163.0 293.0,163.1 294.0,163.3 295.0,163.4 295.6,163.5 296.5,163.6 297.5,163.8 298.5,163.9 299.0,164.0 300.0,164.2 301.0,164.3 302.0,164.5 302.5,164.5 303.5,164.7 304.5,164.8 305.5,165.0 306.0,165.1 307.0,165.2 308.0,165.4 308.9,165.5 309.5,165.6 310.5,165.7 311.5,165.9 312.1,166.0 313.0,166.1 314.0,166.3 315.0,166.4 315.5,166.5 316.5,166.7 317.5,166.8 318.5,167.0 319.0,167.1 320.0,167.2 321.0,167.4 321.7,167.5 322.5,167.6 323.5,167.8 324.5,167.9 325.0,168.0 326.0,168.2 327.0,168.3 327.9,168.5 328.5,168.6 329.5,168.8 330.5,168.9 331.0,169.0 332.0,169.2 333.0,169.3 334.0,169.5 334.5,169.6 335.5,169.7 336.5,169.9 337.1,170.0 338.0,170.1 339.0,170.3 340.0,170.5 340.5,170.6 341.5,170.7 342.5,170.9 343.1,171.0 344.0,171.1 345.0,171.3 346.0,171.5 346.5,171.6 347.5,171.7 348.5,171.9 349.0,172.0 350.0,172.2 351.0,172.3 352.0,172.5 352.5,172.6 353.5,172.8 354.5,172.9 355.0,173.0 356.0,173.2 357.0,173.4 357.7,173.5 358.5,173.6 359.5,173.8 360.5,174.0 361.0,174.1 362.0,174.2 363.0,174.4 363.5,174.5 364.5,174.7 365.5,174.9 366.2,175.0 367.0,175.1 368.0,175.3 369.0,175.5 369.5,175.6 370.5,175.8 371.5,175.9 372.0,176.0 373.0,176.2 374.0,176.4 374.6,176.5 375.5,176.7 376.5,176.9 377.3,177.0 378.0,177.1 379.0,177.3 380.0,177.5 380.5,177.6 381.5,177.8 382.5,178.0 383.0,178.1 384.0,178.2 385.0,178.4 385.5,178.5 386.5,178.7 387.5,178.9 388.1,179.0 389.0,179.2 390.0,179.4 390.7,179.5 391.5,179.7 392.5,179.8 393.3,180.0 394.0,180.1 395.0,180.3 395.9,180.5 396.5,180.6 397.5,180.8 398.5,181.0 399.0,181.1 400.0,181.3 401.0,181.5 401.5,181.6 402.5,181.8 403.5,182.0 404.0,182.1 405.0,182.3 406.0,182.5 406.5,182.6 407.5,182.8 408.5,183.0 409.0,183.1 410.0,183.3 411.0,183.5 411.5,183.6 412.5,183.8 413.5,184.0 414.0,184.1 415.0,184.3 416.0,184.5 416.5,184.6 417.5,184.8 418.5,185.0 419.0,185.1 420.0,185.3 421.0,185.5 421.5,185.6 422.5,185.8 423.5,186.0 424.0,186.1 425.0,186.3 425.9,186.5 426.5,186.6 427.5,186.8 428.3,187.0 429.0,187.1 430.0,187.3 430.7,187.5 431.5,187.7 432.5,187.9 433.1,188.0 434.0,188.2 435.0,188.4 435.5,188.5" fill="none" stroke="#00827f" stroke-opacity="0.58" stroke-width="1" shape-rendering="crispEdges"/>
<rect x="346.4" y="39.0" width="22.3" height="6" fill="#f0f8fa" stroke="#3a9e9a" stroke-width="0.9"/>
<text class="cl" x="357.5" y="43.7" text-anchor="middle">0.971111</text>
<rect x="348.5" y="74.0" width="19.9" height="6" fill="#f0f8fa" stroke="#3a9e9a" stroke-width="0.9"/>
<text class="cl" x="358.5" y="78.7" text-anchor="middle">2.29056</text>
<rect x="351.1" y="106.0" width="12.9" height="6" fill="#f0f8fa" stroke="#3a9e9a" stroke-width="0.9"/>
<text class="cl" x="357.5" y="110.7" text-anchor="middle">3.61</text>
<rect x="348.5" y="138.0" width="19.9" height="6" fill="#f0f8fa" stroke="#3a9e9a" stroke-width="0.9"/>
<text class="cl" x="358.5" y="142.7" text-anchor="middle">4.92944</text>
<rect x="340.0" y="167.0" width="19.9" height="6" fill="#f0f8fa" stroke="#3a9e9a" stroke-width="0.9"/>
<text class="cl" x="350.0" y="171.7" text-anchor="middle">6.24889</text>
<rect x="269.5" y="14.5" width="181.0" height="174.0" fill="none" stroke="#5a5a5a" stroke-opacity="0.85" stroke-width="1"/>
<line x1="269.5" y1="188.5" x2="269.5" y2="192.5" stroke="#5a5a5a" stroke-opacity="0.85" stroke-width="1"/>
<text class="t" x="269.5" y="198.0" text-anchor="middle">1000</text>
<line x1="314.8" y1="188.5" x2="314.8" y2="192.5" stroke="#5a5a5a" stroke-opacity="0.85" stroke-width="1"/>
<text class="t" x="314.8" y="198.0" text-anchor="middle">2000</text>
<line x1="360.0" y1="188.5" x2="360.0" y2="192.5" stroke="#5a5a5a" stroke-opacity="0.85" stroke-width="1"/>
<text class="t" x="360.0" y="198.0" text-anchor="middle">3000</text>
<line x1="405.2" y1="188.5" x2="405.2" y2="192.5" stroke="#5a5a5a" stroke-opacity="0.85" stroke-width="1"/>
<text class="t" x="405.2" y="198.0" text-anchor="middle">4000</text>
<line x1="450.5" y1="188.5" x2="450.5" y2="192.5" stroke="#5a5a5a" stroke-opacity="0.85" stroke-width="1"/>
<text class="t" x="450.5" y="198.0" text-anchor="middle">5000</text>
<line x1="265.0" y1="188.5" x2="269.5" y2="188.5" stroke="#5a5a5a" stroke-opacity="0.85" stroke-width="1"/>
<text class="ty" x="264.0" y="190.2" text-anchor="end">6.00</text>
<line x1="265.0" y1="145.0" x2="269.5" y2="145.0" stroke="#5a5a5a" stroke-opacity="0.85" stroke-width="1"/>
<text class="ty" x="264.0" y="146.7" text-anchor="end">7.00</text>
<line x1="265.0" y1="101.5" x2="269.5" y2="101.5" stroke="#5a5a5a" stroke-opacity="0.85" stroke-width="1"/>
<text class="ty" x="264.0" y="103.2" text-anchor="end">8.00</text>
<line x1="265.0" y1="58.0" x2="269.5" y2="58.0" stroke="#5a5a5a" stroke-opacity="0.85" stroke-width="1"/>
<text class="ty" x="264.0" y="59.7" text-anchor="end">9.00</text>
<line x1="265.0" y1="14.5" x2="269.5" y2="14.5" stroke="#5a5a5a" stroke-opacity="0.85" stroke-width="1"/>
<text class="ty" x="264.0" y="16.2" text-anchor="end">0.00</text>
<circle cx="360.0" cy="14.5" r="1.5" fill="#5ee01a" stroke="#2a6a10" stroke-width="0.6"/>
<circle cx="360.0" cy="188.5" r="1.5" fill="#5ee01a" stroke="#2a6a10" stroke-width="0.6"/>
<circle cx="269.5" cy="101.5" r="1.5" fill="#5ee01a" stroke="#2a6a10" stroke-width="0.6"/>
<circle cx="450.5" cy="101.5" r="1.5" fill="#5ee01a" stroke="#2a6a10" stroke-width="0.6"/>
<circle cx="360.0" cy="101.5" r="1.5" fill="#5ee01a" stroke="#2a6a10" stroke-width="0.6"/>
<text x="354.0" y="103.3" style="font-family:Liberation Sans,sans-serif;font-size:5.5px;font-weight:bold;fill:#3a1a00">6</text>
<circle cx="357.5" cy="101.5" r="1.5" fill="#3a1a00"/>
<text class="lb" x="235.7" y="27.3">B.</text>
<text class="ti" x="325.8" y="215.4" textLength="77.5" lengthAdjust="spacingAndGlyphs">Carbon Source</text>
<text class="ti" transform="translate(245.9,106.1) rotate(-90)" textLength="15.8" lengthAdjust="spacingAndGlyphs">pH</text>
<path d="M503.5,139.3 503.9,140.0 504.2,140.5 504.5,141.0 505.0,141.8 505.4,142.5 505.7,143.0 506.0,143.5 506.5,144.3 506.9,145.0 507.2,145.5 507.5,146.0 508.0,146.8 508.4,147.5 508.7,148.0 509.0,148.5 509.5,149.4 509.9,150.0 510.2,150.5 510.5,151.1 511.0,151.9 511.3,152.5 511.6,153.0 512.0,153.6 512.5,154.5 512.8,155.0 513.1,155.5 513.5,156.3 513.9,157.0 514.2,157.5 514.5,158.0 515.0,158.9 515.4,159.5 515.6,160.0 516.0,160.6 516.5,161.5 516.8,162.0 517.1,162.5 517.5,163.3 517.9,164.0 518.2,164.5 518.5,165.0 519.0,165.9 519.3,166.5 519.6,167.0 520.0,167.7 520.4,168.5 520.7,169.0 521.0,169.5 521.5,170.4 521.8,171.0 522.1,171.5 522.5,172.2 522.9,173.0 523.2,173.5 523.5,174.0 524.0,174.9 524.3,175.5 524.6,176.0 525.0,176.7 525.4,177.5 525.7,178.0 526.0,178.5 526.5,179.5 526.8,180.0 527.1,180.5 527.5,181.3 527.9,182.0 528.2,182.5 528.5,183.1 529.0,184.0 529.3,184.5 529.5,185.0 530.0,185.9 530.3,186.5 530.6,187.0 531.0,187.7 531.4,188.5 531.7,189.0 532.0,189.5" fill="none" stroke="#00827f" stroke-opacity="0.58" stroke-width="1" shape-rendering="crispEdges"/>
<path d="M672.5,22.8 671.5,22.9 670.5,22.9 669.5,23.0 669.0,23.0 668.0,23.1 667.0,23.1 666.0,23.2 665.0,23.2 664.0,23.3 663.0,23.4 662.0,23.4 661.0,23.5 660.5,23.5 659.5,23.6 658.5,23.7 657.5,23.7 656.5,23.8 655.5,23.9 654.5,23.9 653.6,24.0 653.0,24.0 652.0,24.1 651.0,24.2 650.0,24.3 649.0,24.3 648.0,24.4 647.0,24.5 646.5,24.5 645.5,24.6 644.5,24.7 643.5,24.8 642.5,24.8 641.5,24.9 640.7,25.0 640.0,25.1 639.0,25.1 638.0,25.2 637.0,25.3 636.0,25.4 635.0,25.5 634.5,25.5 633.5,25.6 632.5,25.7 631.5,25.8 630.5,25.9 629.8,26.0 629.0,26.1 628.0,26.2 627.0,26.3 626.0,26.4 625.0,26.5 624.5,26.5 623.5,26.7 622.5,26.8 621.5,26.9 620.5,27.0 620.0,27.0 619.0,27.2 618.0,27.3 617.0,27.4 616.1,27.5 615.5,27.6 614.5,27.7 613.5,27.8 612.5,28.0 612.0,28.0 611.0,28.2 610.0,28.3 609.0,28.4 608.5,28.5 607.5,28.6 606.5,28.8 605.5,28.9 605.0,29.0 604.0,29.2 603.0,29.3 602.0,29.5 601.5,29.5 600.5,29.7 599.5,29.9 598.7,30.0 598.0,30.1 597.0,30.3 596.0,30.5 595.5,30.5 594.5,30.7 593.5,30.9 593.0,31.0 592.0,31.2 591.0,31.4 590.4,31.5 589.5,31.7 588.5,31.9 587.9,32.0 587.0,32.2 586.0,32.4 585.5,32.5 584.5,32.7 583.5,33.0 583.0,33.1 582.0,33.3 581.2,33.5 580.5,33.7 579.5,33.9 579.0,34.1 578.0,34.3 577.3,34.5 576.5,34.7 575.5,35.0 575.0,35.1 574.0,35.4 573.5,35.6 572.5,35.9 572.0,36.0 571.0,36.3 570.4,36.5 569.5,36.8 568.9,37.0 568.0,37.3 567.4,37.5 566.5,37.8 566.0,38.0 565.0,38.4 564.5,38.6 563.5,39.0 563.0,39.2 562.1,39.5 561.5,39.8 561.0,40.0 560.0,40.4 559.5,40.6 558.7,41.0 558.0,41.3 557.5,41.6 556.6,42.0 556.0,42.3 555.5,42.6 554.7,43.0 554.0,43.4 553.5,43.7 552.9,44.0 552.1,44.5 551.5,44.9 551.0,45.2 550.5,45.5 549.8,46.0 549.0,46.5 548.5,46.9 548.0,47.2 547.5,47.6 547.0,48.0 546.4,48.5 545.8,49.0 545.2,49.5 544.6,50.0 544.1,50.5 543.5,51.0 543.0,51.5 542.5,52.0 542.1,52.5 541.6,53.0 541.2,53.5 540.7,54.0 540.3,54.5 539.9,55.0 539.5,55.5 539.0,56.2 538.5,56.9 538.1,57.5 537.8,58.0 537.5,58.5 537.0,59.3 536.6,60.0 536.3,60.5 536.0,61.1 535.6,62.0 535.3,62.5 535.0,63.3 534.7,64.0 534.5,64.5 534.1,65.5 533.9,66.0 533.6,67.0 533.5,67.5 533.2,68.5 533.0,69.1 532.8,70.0 532.5,71.0 532.4,71.5 532.2,72.5 532.1,73.5 532.0,74.0 531.8,75.0 531.7,76.0 531.6,77.0 531.5,77.8 531.4,78.5 531.4,79.5 531.3,80.5 531.3,81.5 531.2,82.5 531.2,83.5 531.2,84.5 531.2,85.5 531.2,86.5 531.3,87.5 531.3,88.5 531.4,89.5 531.4,90.5 531.5,91.3 531.6,92.0 531.6,93.0 531.7,94.0 531.8,95.0 532.0,96.0 532.0,96.5 532.1,97.5 532.3,98.5 532.4,99.5 532.5,100.1 532.6,101.0 532.8,102.0 533.0,103.0 533.0,103.5 533.2,104.5 533.4,105.5 533.5,106.0 533.7,107.0 533.9,108.0 534.0,108.6 534.2,109.5 534.4,110.5 534.5,111.1 534.7,112.0 534.9,113.0 535.0,113.5 535.3,114.5 535.5,115.5 535.6,116.0 535.8,117.0 536.0,117.6 536.2,118.5 536.5,119.5 536.6,120.0 536.8,121.0 537.0,121.6 537.2,122.5 537.5,123.5 537.6,124.0 537.9,125.0 538.0,125.5 538.3,126.5 538.5,127.2 538.7,128.0 539.0,129.0 539.1,129.5 539.4,130.5 539.6,131.0 539.9,132.0 540.0,132.5 540.3,133.5 540.5,134.2 540.7,135.0 541.0,135.8 541.2,136.5 541.5,137.5 541.7,138.0 542.0,139.0 542.1,139.5 542.4,140.5 542.6,141.0 542.9,142.0 543.1,142.5 543.4,143.5 543.5,144.0 543.9,145.0 544.0,145.5 544.4,146.5 544.5,147.0 544.9,148.0 545.0,148.5 545.3,149.5 545.5,150.0 545.9,151.0 546.0,151.5 546.4,152.5 546.5,153.0 546.9,154.0 547.0,154.5 547.4,155.5 547.6,156.0 547.9,157.0 548.1,157.5 548.4,158.5 548.6,159.0 548.9,160.0 549.1,160.5 549.5,161.5 549.6,162.0 550.0,163.0 550.2,163.5 550.5,164.4 550.7,165.0 551.0,165.8 551.3,166.5 551.5,167.2 551.8,168.0 552.0,168.6 552.3,169.5 552.5,170.0 552.9,171.0 553.1,171.5 553.4,172.5 553.6,173.0 554.0,174.0 554.2,174.5 554.5,175.4 554.7,176.0 555.0,176.7 555.3,177.5 555.5,178.1 555.9,179.0 556.0,179.5 556.4,180.5 556.6,181.0 557.0,182.0 557.2,182.5 557.5,183.4 557.7,184.0 558.0,184.7 558.3,185.5 558.5,186.0 558.9,187.0 559.1,187.5 559.5,188.5 559.7,189.0 559.9,189.5" fill="none" stroke="#00827f" stroke-opacity="0.58" stroke-width="1" shape-rendering="crispEdges"/>
<path d="M672.5,49.8 671.8,50.0 671.0,50.2 670.0,50.4 669.5,50.5 668.5,50.7 667.5,51.0 667.0,51.1 666.0,51.3 665.3,51.5 664.5,51.7 663.5,51.9 663.0,52.1 662.0,52.3 661.3,52.5 660.5,52.7 659.5,53.0 659.0,53.1 658.0,53.4 657.5,53.5 656.5,53.8 655.7,54.0 655.0,54.2 654.0,54.5 653.5,54.6 652.5,54.9 652.0,55.1 651.0,55.4 650.5,55.5 649.5,55.8 648.9,56.0 648.0,56.3 647.3,56.5 646.5,56.8 645.8,57.0 645.0,57.3 644.3,57.5 643.5,57.8 642.8,58.0 642.0,58.3 641.4,58.5 640.5,58.8 640.0,59.0 639.0,59.4 638.5,59.5 637.5,59.9 637.0,60.1 636.0,60.5 635.5,60.7 634.7,61.0 634.0,61.3 633.5,61.5 632.5,61.9 632.0,62.1 631.1,62.5 630.5,62.8 629.9,63.0 629.0,63.4 628.5,63.6 627.7,64.0 627.0,64.3 626.5,64.6 625.6,65.0 625.0,65.3 624.5,65.5 623.6,66.0 623.0,66.3 622.5,66.5 621.6,67.0 621.0,67.3 620.5,67.6 619.8,68.0 619.0,68.4 618.5,68.7 618.0,69.0 617.2,69.5 616.5,69.9 616.0,70.2 615.5,70.5 614.7,71.0 614.0,71.4 613.5,71.8 613.0,72.1 612.4,72.5 611.7,73.0 611.0,73.5 610.5,73.8 610.0,74.2 609.5,74.5 608.9,75.0 608.2,75.5 607.6,76.0 607.0,76.4 606.5,76.8 606.0,77.3 605.5,77.7 605.0,78.1 604.5,78.5 603.9,79.0 603.4,79.5 602.8,80.0 602.3,80.5 601.8,81.0 601.3,81.5 600.8,82.0 600.3,82.5 599.8,83.0 599.3,83.5 598.8,84.0 598.4,84.5 597.9,85.0 597.5,85.5 597.0,86.1 596.5,86.7 596.0,87.3 595.5,87.9 595.1,88.5 594.7,89.0 594.3,89.5 593.9,90.0 593.5,90.6 593.0,91.3 592.6,92.0 592.2,92.5 591.9,93.0 591.5,93.7 591.0,94.5 590.7,95.0 590.4,95.5 590.0,96.2 589.6,97.0 589.3,97.5 589.0,98.1 588.6,99.0 588.3,99.5 588.0,100.2 587.6,101.0 587.4,101.5 587.0,102.4 586.8,103.0 586.5,103.6 586.2,104.5 586.0,105.0 585.6,106.0 585.4,106.5 585.1,107.5 584.9,108.0 584.6,109.0 584.5,109.5 584.2,110.5 584.0,111.1 583.8,112.0 583.5,113.0 583.4,113.5 583.2,114.5 583.0,115.2 582.8,116.0 582.6,117.0 582.5,117.7 582.3,118.5 582.2,119.5 582.0,120.5 581.9,121.0 581.8,122.0 581.7,123.0 581.5,124.0 581.5,124.5 581.4,125.5 581.3,126.5 581.2,127.5 581.1,128.5 581.0,129.5 581.0,130.3 581.0,131.0 580.9,132.0 580.9,133.0 580.8,134.0 580.8,135.0 580.8,136.0 580.8,137.0 580.8,138.0 580.8,139.0 580.8,140.0 580.8,141.0 580.9,142.0 580.9,143.0 580.9,144.0 581.0,145.0 581.0,145.5 581.1,146.5 581.1,147.5 581.2,148.5 581.3,149.5 581.4,150.5 581.4,151.5 581.5,152.1 581.6,153.0 581.7,154.0 581.8,155.0 581.9,156.0 582.0,156.9 582.1,157.5 582.2,158.5 582.3,159.5 582.4,160.5 582.5,161.0 582.6,162.0 582.8,163.0 582.9,164.0 583.0,164.5 583.2,165.5 583.3,166.5 583.5,167.5 583.5,168.0 583.7,169.0 583.9,170.0 584.0,170.7 584.1,171.5 584.3,172.5 584.5,173.5 584.6,174.0 584.8,175.0 585.0,176.0 585.1,176.5 585.3,177.5 585.5,178.5 585.6,179.0 585.8,180.0 586.0,181.0 586.1,181.5 586.3,182.5 586.5,183.5 586.6,184.0 586.8,185.0 587.0,185.8 587.1,186.5 587.4,187.5 587.5,188.1 587.7,189.0 587.8,189.5" fill="none" stroke="#00827f" stroke-opacity="0.58" stroke-width="1" shape-rendering="crispEdges"/>
<path d="M672.5,81.5 671.5,82.0 671.0,82.3 670.5,82.5 669.5,83.0 669.0,83.3 668.5,83.5 667.6,84.0 667.0,84.3 666.5,84.6 665.8,85.0 665.0,85.4 664.5,85.7 664.0,86.0 663.1,86.5 662.5,86.9 662.0,87.1 661.4,87.5 660.6,88.0 660.0,88.4 659.5,88.7 659.0,89.0 658.2,89.5 657.5,89.9 657.0,90.3 656.5,90.6 655.9,91.0 655.1,91.5 654.5,91.9 654.0,92.3 653.5,92.6 653.0,93.0 652.3,93.5 651.6,94.0 651.0,94.5 650.5,94.9 650.0,95.2 649.5,95.6 649.0,96.0 648.4,96.5 647.8,97.0 647.2,97.5 646.6,98.0 646.0,98.5 645.5,98.9 645.0,99.4 644.5,99.8 644.0,100.3 643.5,100.7 643.0,101.2 642.5,101.7 642.0,102.2 641.5,102.6 641.0,103.1 640.5,103.6 640.0,104.1 639.5,104.7 639.0,105.2 638.5,105.7 638.0,106.3 637.5,106.8 637.0,107.4 636.5,108.0 636.1,108.5 635.6,109.0 635.2,109.5 634.8,110.0 634.4,110.5 634.0,111.0 633.5,111.7 633.0,112.4 632.5,113.0 632.2,113.5 631.8,114.0 631.5,114.5 631.0,115.2 630.5,115.9 630.1,116.5 629.8,117.0 629.5,117.5 629.0,118.3 628.5,119.0 628.2,119.5 628.0,120.0 627.5,120.8 627.1,121.5 626.8,122.0 626.5,122.6 626.0,123.5 625.8,124.0 625.5,124.6 625.0,125.5 624.8,126.0 624.5,126.6 624.1,127.5 623.9,128.0 623.5,128.9 623.2,129.5 623.0,130.1 622.6,131.0 622.4,131.5 622.0,132.5 621.9,133.0 621.5,134.0 621.3,134.5 621.0,135.4 620.8,136.0 620.5,136.9 620.3,137.5 620.0,138.5 619.9,139.0 619.6,140.0 619.4,140.5 619.2,141.5 619.0,142.2 618.8,143.0 618.5,144.0 618.4,144.5 618.2,145.5 618.0,146.4 617.9,147.0 617.7,148.0 617.5,148.9 617.4,149.5 617.2,150.5 617.0,151.5 617.0,152.0 616.8,153.0 616.7,154.0 616.5,155.0 616.5,155.5 616.3,156.5 616.2,157.5 616.1,158.5 616.0,159.5 615.9,160.0 615.9,161.0 615.8,162.0 615.7,163.0 615.6,164.0 615.6,165.0 615.5,166.0 615.5,166.5 615.4,167.5 615.4,168.5 615.4,169.5 615.3,170.5 615.3,171.5 615.3,172.5 615.3,173.5 615.3,174.5 615.3,175.5 615.3,176.5 615.3,177.5 615.3,178.5 615.4,179.5 615.4,180.5 615.4,181.5 615.5,182.5 615.5,183.2 615.5,184.0 615.6,185.0 615.6,186.0 615.7,187.0 615.8,188.0 615.8,189.0 615.9,189.5" fill="none" stroke="#00827f" stroke-opacity="0.58" stroke-width="1" shape-rendering="crispEdges"/>
<path d="M672.5,121.7 672.0,122.2 671.5,122.7 671.0,123.3 670.5,123.8 670.0,124.4 669.5,124.9 669.0,125.5 668.6,126.0 668.1,126.5 667.7,127.0 667.3,127.5 666.9,128.0 666.5,128.5 666.0,129.1 665.5,129.8 665.0,130.4 664.5,131.0 664.2,131.5 663.8,132.0 663.4,132.5 663.0,133.1 662.5,133.8 662.0,134.5 661.7,135.0 661.4,135.5 661.0,136.1 660.5,136.8 660.1,137.5 659.8,138.0 659.5,138.5 659.0,139.2 658.6,140.0 658.3,140.5 658.0,141.0 657.5,141.8 657.1,142.5 656.9,143.0 656.5,143.7 656.1,144.5 655.8,145.0 655.5,145.6 655.1,146.5 654.8,147.0 654.5,147.7 654.1,148.5 653.9,149.0 653.5,149.9 653.2,150.5 653.0,151.0 652.6,152.0 652.4,152.5 652.0,153.5 651.8,154.0 651.5,154.8 651.2,155.5 651.0,156.1 650.7,157.0 650.5,157.5 650.2,158.5 650.0,159.0 649.7,160.0 649.5,160.5 649.2,161.5 649.0,162.1 648.7,163.0 648.5,163.9 648.3,164.5 648.0,165.5 647.9,166.0 647.7,167.0 647.5,167.6 647.3,168.5 647.1,169.5 646.9,170.0 646.7,171.0 646.5,172.0 646.4,172.5 646.2,173.5 646.0,174.5 645.9,175.0 645.7,176.0 645.6,177.0 645.5,177.5 645.3,178.5 645.2,179.5 645.0,180.5 645.0,181.0 644.8,182.0 644.7,183.0 644.6,184.0 644.5,184.6 644.4,185.5 644.3,186.5 644.2,187.5 644.1,188.5 644.0,189.5 644.0,189.5" fill="none" stroke="#00827f" stroke-opacity="0.58" stroke-width="1" shape-rendering="crispEdges"/>
<rect x="529.0" y="50.0" width="19.9" height="6" fill="#f0f8fa" stroke="#3a9e9a" stroke-width="0.9"/>
<text class="cl" x="539.0" y="54.7" text-anchor="middle">3.43278</text>
<rect x="585.0" y="83.0" width="19.9" height="6" fill="#f0f8fa" stroke="#3a9e9a" stroke-width="0.9"/>
<text class="cl" x="595.0" y="87.7" text-anchor="middle">3.15333</text>
<rect x="618.0" y="113.5" width="19.9" height="6" fill="#f0f8fa" stroke="#3a9e9a" stroke-width="0.9"/>
<text class="cl" x="628.0" y="118.2" text-anchor="middle">2.87389</text>
<rect x="643.0" y="144.0" width="19.9" height="6" fill="#f0f8fa" stroke="#3a9e9a" stroke-width="0.9"/>
<text class="cl" x="653.0" y="148.7" text-anchor="middle">2.59444</text>
<rect x="508.0" y="159.0" width="19.9" height="6" fill="#f0f8fa" stroke="#3a9e9a" stroke-width="0.9"/>
<text class="cl" x="518.0" y="163.7" text-anchor="middle">3.71222</text>
<rect x="503.5" y="15.5" width="169.0" height="174.0" fill="none" stroke="#5a5a5a" stroke-opacity="0.85" stroke-width="1"/>
<line x1="503.5" y1="189.5" x2="503.5" y2="193.5" stroke="#5a5a5a" stroke-opacity="0.85" stroke-width="1"/>
<text class="t" x="503.5" y="199.0" text-anchor="middle">10.00</text>
<line x1="545.8" y1="189.5" x2="545.8" y2="193.5" stroke="#5a5a5a" stroke-opacity="0.85" stroke-width="1"/>
<text class="t" x="545.8" y="199.0" text-anchor="middle">20.00</text>
<line x1="588.0" y1="189.5" x2="588.0" y2="193.5" stroke="#5a5a5a" stroke-opacity="0.85" stroke-width="1"/>
<text class="t" x="588.0" y="199.0" text-anchor="middle">30.00</text>
<line x1="630.2" y1="189.5" x2="630.2" y2="193.5" stroke="#5a5a5a" stroke-opacity="0.85" stroke-width="1"/>
<text class="t" x="630.2" y="199.0" text-anchor="middle">40.00</text>
<line x1="672.5" y1="189.5" x2="672.5" y2="193.5" stroke="#5a5a5a" stroke-opacity="0.85" stroke-width="1"/>
<text class="t" x="672.5" y="199.0" text-anchor="middle">50.00</text>
<line x1="499.0" y1="189.5" x2="503.5" y2="189.5" stroke="#5a5a5a" stroke-opacity="0.85" stroke-width="1"/>
<text class="ty" x="498.0" y="191.2" text-anchor="end">1000</text>
<line x1="499.0" y1="146.0" x2="503.5" y2="146.0" stroke="#5a5a5a" stroke-opacity="0.85" stroke-width="1"/>
<text class="ty" x="498.0" y="147.7" text-anchor="end">2000</text>
<line x1="499.0" y1="102.5" x2="503.5" y2="102.5" stroke="#5a5a5a" stroke-opacity="0.85" stroke-width="1"/>
<text class="ty" x="498.0" y="104.2" text-anchor="end">3000</text>
<line x1="499.0" y1="59.0" x2="503.5" y2="59.0" stroke="#5a5a5a" stroke-opacity="0.85" stroke-width="1"/>
<text class="ty" x="498.0" y="60.7" text-anchor="end">4000</text>
<line x1="499.0" y1="15.5" x2="503.5" y2="15.5" stroke="#5a5a5a" stroke-opacity="0.85" stroke-width="1"/>
<text class="ty" x="498.0" y="17.2" text-anchor="end">5000</text>
<circle cx="588.0" cy="15.5" r="1.5" fill="#5ee01a" stroke="#2a6a10" stroke-width="0.6"/>
<circle cx="588.0" cy="189.5" r="1.5" fill="#5ee01a" stroke="#2a6a10" stroke-width="0.6"/>
<circle cx="503.5" cy="102.5" r="1.5" fill="#5ee01a" stroke="#2a6a10" stroke-width="0.6"/>
<circle cx="672.5" cy="102.5" r="1.5" fill="#5ee01a" stroke="#2a6a10" stroke-width="0.6"/>
<circle cx="588.0" cy="102.5" r="1.5" fill="#5ee01a" stroke="#2a6a10" stroke-width="0.6"/>
<text x="582.0" y="104.3" style="font-family:Liberation Sans,sans-serif;font-size:5.5px;font-weight:bold;fill:#3a1a00">6</text>
<circle cx="585.5" cy="102.5" r="1.5" fill="#3a1a00"/>
<text class="lt" x="471.3" y="27.1">C.</text>
<text class="ti" x="555.8" y="215.4" textLength="77.5" lengthAdjust="spacingAndGlyphs">Carbon Source</text>
<text class="ti" transform="translate(481.7,166.8) rotate(-90)" textLength="123.0" lengthAdjust="spacingAndGlyphs">Bacterial Concentration</text>
<path d="M45.5,273.7 46.0,273.5 47.0,273.0 47.5,272.8 48.2,272.5 49.0,272.1 49.5,271.9 50.4,271.5 51.0,271.3 51.6,271.0 52.5,270.6 53.0,270.4 53.8,270.0 54.5,269.7 55.0,269.5 56.0,269.1 56.5,268.8 57.3,268.5 58.0,268.2 58.5,268.0 59.5,267.5 60.0,267.3 60.7,267.0 61.5,266.7 62.0,266.5 63.0,266.0 63.5,265.8 64.2,265.5 65.0,265.2 65.5,265.0 66.5,264.5 67.0,264.3 67.8,264.0 68.5,263.7 69.0,263.5 70.0,263.1 70.5,262.9 71.4,262.5 72.0,262.2 72.6,262.0 73.5,261.6 74.0,261.4 75.0,261.0 75.5,260.8 76.2,260.5 77.0,260.2 77.5,260.0 78.5,259.6 79.0,259.4 80.0,259.0 80.5,258.8 81.2,258.5 82.0,258.2 82.5,258.0 83.5,257.6 84.0,257.4 85.0,257.0 85.5,256.8 86.3,256.5 87.0,256.2 87.6,256.0 88.5,255.6 89.0,255.4 90.0,255.1 90.5,254.9 91.5,254.5 92.0,254.3 92.8,254.0 93.5,253.7 94.1,253.5 95.0,253.2 95.5,253.0 96.5,252.6 97.0,252.4 98.0,252.1 98.5,251.9 99.5,251.5 100.0,251.4 101.0,251.0 101.5,250.8 102.4,250.5 103.0,250.3 103.8,250.0 104.5,249.8 105.3,249.5 106.0,249.2 106.7,249.0 107.5,248.7 108.2,248.5 109.0,248.2 109.7,248.0 110.5,247.7 111.2,247.5 112.0,247.2 112.7,247.0 113.5,246.7 114.3,246.5 115.0,246.3 115.8,246.0 116.5,245.8 117.4,245.5 118.0,245.3 119.0,245.0 119.5,244.9 120.5,244.6 121.0,244.4 122.0,244.1 122.5,244.0 123.5,243.7 124.1,243.5 125.0,243.2 125.9,243.0 126.5,242.8 127.5,242.6 128.0,242.4 129.0,242.1 129.5,242.0 130.5,241.7 131.5,241.5 132.0,241.4 133.0,241.1 133.5,241.0 134.5,240.7 135.5,240.5 136.0,240.4 137.0,240.1 137.6,240.0 138.5,239.8 139.5,239.6 140.0,239.5 141.0,239.3 142.0,239.0 142.5,238.9 143.5,238.7 144.5,238.5 145.0,238.4 146.0,238.3 147.0,238.1 147.5,238.0 148.5,237.8 149.5,237.7 150.5,237.5 151.0,237.4 152.0,237.3 153.0,237.1 153.9,237.0 154.5,236.9 155.5,236.8 156.5,236.7 157.5,236.6 158.1,236.5 159.0,236.4 160.0,236.3 161.0,236.2 162.0,236.2 163.0,236.1 164.0,236.0 164.6,236.0 165.5,236.0 166.5,235.9 167.5,235.9 168.5,235.9 169.5,235.9 170.5,235.9 171.5,235.9 172.5,235.9 173.5,236.0 174.5,236.0 175.0,236.0 176.0,236.1 177.0,236.2 178.0,236.3 179.0,236.4 180.0,236.5 180.5,236.5 181.5,236.7 182.5,236.8 183.5,237.0 184.0,237.1 185.0,237.3 186.0,237.5 186.5,237.6 187.5,237.8 188.3,238.0 189.0,238.2 190.0,238.4 190.5,238.6 191.5,238.9 192.0,239.0 193.0,239.4 193.5,239.5 194.5,239.9 195.0,240.1 196.0,240.5 196.5,240.7 197.3,241.0 198.0,241.3 198.5,241.5 199.5,242.0 200.0,242.3 200.5,242.5 201.5,243.0 202.0,243.3 202.5,243.6 203.3,244.0 204.0,244.4 204.5,244.7 205.0,245.0 205.7,245.5 206.5,246.0 207.0,246.4 207.5,246.7 208.0,247.1 208.6,247.5 209.3,248.0 209.9,248.5 210.5,249.0 211.0,249.4 211.5,249.8 212.0,250.2 212.5,250.7 213.0,251.1 213.5,251.6 214.0,252.0 214.5,252.5 215.0,253.0 215.5,253.5 216.0,254.0 216.5,254.5 217.0,255.0 217.5,255.6 218.0,256.1 218.5,256.7 219.0,257.3 219.5,257.9 220.0,258.5 220.4,259.0 220.8,259.5 221.2,260.0 221.6,260.5 222.0,261.0 222.5,261.7 223.0,262.3 223.5,263.0 223.5,263.0" fill="none" stroke="#00827f" stroke-opacity="0.58" stroke-width="1" shape-rendering="crispEdges"/>
<path d="M45.5,297.0 46.5,296.6 47.0,296.5 48.0,296.1 48.5,295.9 49.5,295.6 50.0,295.4 51.0,295.1 51.5,294.9 52.5,294.6 53.0,294.4 54.0,294.1 54.5,293.9 55.5,293.6 56.0,293.4 57.0,293.1 57.5,292.9 58.5,292.6 59.0,292.5 60.0,292.1 60.5,292.0 61.5,291.7 62.0,291.5 63.0,291.2 63.6,291.0 64.5,290.7 65.2,290.5 66.0,290.3 66.9,290.0 67.5,289.8 68.5,289.5 69.0,289.4 70.0,289.1 70.5,288.9 71.5,288.6 72.0,288.5 73.0,288.2 73.7,288.0 74.5,287.8 75.4,287.5 76.0,287.3 77.0,287.1 77.5,286.9 78.5,286.7 79.1,286.5 80.0,286.3 81.0,286.0 81.5,285.9 82.5,285.6 83.0,285.5 84.0,285.2 84.9,285.0 85.5,284.8 86.5,284.6 87.0,284.5 88.0,284.2 89.0,284.0 89.5,283.9 90.5,283.6 91.1,283.5 92.0,283.3 93.0,283.1 93.5,283.0 94.5,282.8 95.5,282.5 96.0,282.4 97.0,282.2 98.0,282.0 98.5,281.9 99.5,281.7 100.5,281.5 101.0,281.4 102.0,281.2 103.0,281.1 103.5,281.0 104.5,280.8 105.5,280.6 106.2,280.5 107.0,280.4 108.0,280.2 109.0,280.1 109.5,280.0 110.5,279.8 111.5,279.7 112.5,279.5 113.0,279.5 114.0,279.4 115.0,279.2 116.0,279.1 116.9,279.0 117.5,278.9 118.5,278.8 119.5,278.7 120.5,278.6 121.5,278.5 122.0,278.5 123.0,278.4 124.0,278.3 125.0,278.3 126.0,278.2 127.0,278.2 128.0,278.1 129.0,278.1 130.0,278.0 131.0,278.0 131.6,278.0 132.5,278.0 133.5,278.0 134.5,278.0 135.5,278.0 136.5,278.0 137.0,278.0 138.0,278.0 139.0,278.1 140.0,278.1 141.0,278.2 142.0,278.2 143.0,278.3 144.0,278.4 145.0,278.4 145.5,278.5 146.5,278.6 147.5,278.7 148.5,278.8 149.5,279.0 150.0,279.0 151.0,279.2 152.0,279.3 153.0,279.5 153.5,279.6 154.5,279.8 155.5,280.0 156.0,280.1 157.0,280.3 158.0,280.5 158.5,280.6 159.5,280.9 160.0,281.0 161.0,281.3 161.9,281.5 162.5,281.7 163.5,282.0 164.0,282.1 165.0,282.5 165.5,282.6 166.5,283.0 167.0,283.1 168.0,283.5 168.5,283.7 169.3,284.0 170.0,284.3 170.5,284.5 171.5,284.9 172.0,285.1 172.9,285.5 173.5,285.8 174.0,286.0 175.0,286.5 175.5,286.8 176.0,287.0 177.0,287.5 177.5,287.8 178.0,288.1 178.8,288.5 179.5,288.9 180.0,289.2 180.5,289.5 181.3,290.0 182.0,290.4 182.5,290.7 183.0,291.1 183.7,291.5 184.4,292.0 185.0,292.4 185.5,292.8 186.0,293.1 186.5,293.5 187.2,294.0 187.9,294.5 188.5,295.0 189.0,295.4 189.5,295.8 190.0,296.2 190.5,296.6 191.0,297.1 191.5,297.5 192.1,298.0 192.7,298.5 193.2,299.0 193.7,299.5 194.3,300.0 194.8,300.5 195.3,301.0 195.8,301.5 196.3,302.0 196.8,302.5 197.3,303.0 197.8,303.5 198.2,304.0 198.7,304.5 199.2,305.0 199.6,305.5 200.1,306.0 200.5,306.5 201.0,307.1 201.5,307.7 202.0,308.3 202.5,308.9 203.0,309.5 203.4,310.0 203.8,310.5 204.2,311.0 204.6,311.5 205.0,312.1 205.5,312.7 206.0,313.4 206.4,314.0 206.8,314.5 207.1,315.0 207.5,315.5 208.0,316.2 208.5,317.0 208.9,317.5 209.2,318.0 209.5,318.5 210.0,319.2 210.5,320.0 210.8,320.5 211.1,321.0 211.5,321.6 212.0,322.4 212.4,323.0 212.7,323.5 213.0,324.1 213.5,324.9 213.8,325.5 214.1,326.0 214.5,326.7 215.0,327.5 215.2,328.0 215.5,328.5 216.0,329.4 216.3,330.0 216.6,330.5 217.0,331.3 217.4,332.0 217.6,332.5 218.0,333.2 218.4,334.0 218.7,334.5 219.0,335.2 219.4,336.0 219.6,336.5 220.0,337.2 220.4,338.0 220.6,338.5 221.0,339.4 221.3,340.0 221.5,340.5 222.0,341.5 222.2,342.0 222.5,342.7 222.9,343.5 223.1,344.0 223.5,344.9 223.5,344.9" fill="none" stroke="#00827f" stroke-opacity="0.58" stroke-width="1" shape-rendering="crispEdges"/>
<path d="M45.5,327.1 46.0,327.0 47.0,326.7 48.0,326.5 48.5,326.4 49.5,326.2 50.5,326.0 51.0,325.9 52.0,325.7 52.9,325.5 53.5,325.4 54.5,325.2 55.4,325.0 56.0,324.9 57.0,324.7 58.0,324.5 58.5,324.4 59.5,324.2 60.5,324.1 61.0,324.0 62.0,323.8 63.0,323.6 63.8,323.5 64.5,323.4 65.5,323.2 66.5,323.1 67.0,323.0 68.0,322.8 69.0,322.7 70.0,322.6 70.5,322.5 71.5,322.3 72.5,322.2 73.5,322.1 74.2,322.0 75.0,321.9 76.0,321.8 77.0,321.7 78.0,321.6 78.6,321.5 79.5,321.4 80.5,321.3 81.5,321.2 82.5,321.1 83.5,321.0 84.1,321.0 85.0,320.9 86.0,320.9 87.0,320.8 88.0,320.7 89.0,320.7 90.0,320.6 91.0,320.6 92.0,320.5 93.0,320.5 93.5,320.5 94.5,320.5 95.5,320.4 96.5,320.4 97.5,320.4 98.5,320.4 99.5,320.4 100.5,320.4 101.5,320.4 102.5,320.5 103.5,320.5 104.0,320.5 105.0,320.5 106.0,320.6 107.0,320.6 108.0,320.7 109.0,320.8 110.0,320.8 111.0,320.9 111.9,321.0 112.5,321.1 113.5,321.2 114.5,321.3 115.5,321.4 116.5,321.5 117.0,321.6 118.0,321.7 119.0,321.8 120.0,322.0 120.5,322.1 121.5,322.2 122.5,322.4 123.1,322.5 124.0,322.7 125.0,322.9 125.7,323.0 126.5,323.2 127.5,323.4 128.0,323.5 129.0,323.7 130.0,324.0 130.5,324.1 131.5,324.4 132.0,324.5 133.0,324.8 133.8,325.0 134.5,325.2 135.5,325.5 136.0,325.7 137.0,326.0 137.5,326.1 138.5,326.5 139.0,326.6 140.0,327.0 140.5,327.2 141.4,327.5 142.0,327.7 142.7,328.0 143.5,328.3 144.0,328.5 145.0,328.9 145.5,329.2 146.3,329.5 147.0,329.8 147.5,330.0 148.5,330.5 149.0,330.7 149.5,331.0 150.5,331.5 151.0,331.7 151.5,332.0 152.5,332.5 153.0,332.8 153.5,333.0 154.3,333.5 155.0,333.9 155.5,334.2 156.1,334.5 156.9,335.0 157.5,335.3 158.0,335.6 158.6,336.0 159.4,336.5 160.0,336.9 160.5,337.2 161.0,337.6 161.6,338.0 162.3,338.5 163.0,339.0 163.5,339.3 164.0,339.7 164.5,340.0 165.1,340.5 165.8,341.0 166.4,341.5 167.0,341.9 167.5,342.3 168.0,342.7 168.5,343.1 169.0,343.6 169.5,344.0 170.1,344.5 170.7,345.0 171.3,345.5 171.8,346.0 172.4,346.5 172.9,347.0 173.5,347.5 174.0,348.0 174.5,348.5 175.0,348.9 175.5,349.4 176.0,349.9 176.5,350.4 177.0,350.9 177.5,351.4 178.0,351.9 178.5,352.5 179.0,353.0 179.5,353.5 179.9,354.0 180.4,354.5 180.8,355.0 181.3,355.5 181.7,356.0 182.1,356.5 182.6,357.0 183.0,357.5 183.5,358.1 184.0,358.7 184.5,359.3 185.0,359.9 185.5,360.5 185.9,361.0 186.3,361.5 186.7,362.0 187.0,362.5 187.5,363.1 188.0,363.8 188.5,364.4 188.9,365.0 189.3,365.5 189.6,366.0 190.0,366.5 190.5,367.2 191.0,367.9 191.4,368.5 191.8,369.0 192.1,369.5 192.5,370.1 193.0,370.8 193.4,371.5 193.8,372.0 194.1,372.5 194.5,373.1 195.0,373.9 195.4,374.5 195.7,375.0 196.0,375.5 196.5,376.3 196.9,377.0 197.2,377.5 197.5,378.0 198.0,378.8 198.4,379.5 198.7,380.0 199.0,380.6 199.5,381.4 199.8,382.0 200.1,382.5 200.5,383.2 200.9,384.0 201.2,384.5 201.5,385.0 202.0,386.0 202.3,386.5 202.6,387.0 203.0,387.8 203.3,388.5 203.6,389.0 204.0,389.8 204.4,390.5 204.6,391.0 205.0,391.8 205.4,392.5 205.6,393.0 206.0,393.8 206.3,394.5 206.6,395.0 207.0,395.9 207.3,396.5 207.5,397.0 208.0,398.0 208.2,398.5 208.5,399.1 208.9,400.0 209.1,400.5 209.5,401.3 209.8,402.0 210.0,402.5 210.5,403.5 210.7,404.0 211.0,404.7 211.3,405.5 211.6,406.0 212.0,407.0 212.2,407.5 212.5,408.2 212.8,409.0 213.0,409.5 213.4,410.5 213.6,411.0 214.0,411.9 214.2,412.5 214.5,413.2 214.8,414.0 215.0,414.5 215.0,414.5" fill="none" stroke="#00827f" stroke-opacity="0.58" stroke-width="1" shape-rendering="crispEdges"/>
<path d="M45.5,356.8 46.5,356.7 47.5,356.6 48.1,356.5 49.0,356.4 50.0,356.3 51.0,356.2 52.0,356.2 53.0,356.1 54.0,356.0 54.5,356.0 55.5,355.9 56.5,355.8 57.5,355.8 58.5,355.7 59.5,355.7 60.5,355.6 61.5,355.6 62.5,355.6 63.5,355.5 64.5,355.5 65.5,355.5 66.0,355.5 67.0,355.5 68.0,355.5 69.0,355.5 70.0,355.5 71.0,355.5 72.0,355.5 72.5,355.5 73.5,355.5 74.5,355.5 75.5,355.6 76.5,355.6 77.5,355.7 78.5,355.7 79.5,355.8 80.5,355.8 81.5,355.9 82.5,356.0 83.0,356.0 84.0,356.1 85.0,356.2 86.0,356.3 87.0,356.4 88.0,356.5 88.5,356.5 89.5,356.7 90.5,356.8 91.5,356.9 92.1,357.0 93.0,357.1 94.0,357.3 95.0,357.4 95.5,357.5 96.5,357.7 97.5,357.9 98.3,358.0 99.0,358.1 100.0,358.3 100.8,358.5 101.5,358.6 102.5,358.9 103.1,359.0 104.0,359.2 105.0,359.4 105.5,359.6 106.5,359.8 107.3,360.0 108.0,360.2 109.0,360.5 109.5,360.6 110.5,360.9 111.0,361.0 112.0,361.3 112.6,361.5 113.5,361.8 114.1,362.0 115.0,362.3 115.7,362.5 116.5,362.8 117.1,363.0 118.0,363.3 118.5,363.5 119.5,363.9 120.0,364.1 121.0,364.5 121.5,364.7 122.4,365.0 123.0,365.3 123.6,365.5 124.5,365.9 125.0,366.1 125.8,366.5 126.5,366.8 127.0,367.0 128.0,367.5 128.5,367.7 129.0,368.0 130.0,368.5 130.5,368.7 131.0,369.0 132.0,369.5 132.5,369.8 133.0,370.0 133.9,370.5 134.5,370.9 135.0,371.1 135.6,371.5 136.5,372.0 137.0,372.3 137.5,372.6 138.2,373.0 139.0,373.5 139.5,373.8 140.0,374.1 140.6,374.5 141.3,375.0 142.0,375.4 142.5,375.8 143.0,376.1 143.5,376.5 144.3,377.0 145.0,377.5 145.5,377.9 146.0,378.2 146.5,378.6 147.0,379.0 147.7,379.5 148.3,380.0 149.0,380.5 149.5,380.9 150.0,381.3 150.5,381.7 151.0,382.1 151.5,382.5 152.1,383.0 152.7,383.5 153.2,384.0 153.8,384.5 154.4,385.0 154.9,385.5 155.5,386.0 156.0,386.5 156.5,386.9 157.0,387.4 157.5,387.8 158.0,388.3 158.5,388.8 159.0,389.3 159.5,389.8 160.0,390.3 160.5,390.8 161.0,391.3 161.5,391.8 162.0,392.3 162.5,392.8 163.0,393.4 163.5,393.9 164.0,394.4 164.5,395.0 165.0,395.5 165.4,396.0 165.9,396.5 166.3,397.0 166.7,397.5 167.2,398.0 167.6,398.5 168.0,399.0 168.5,399.6 169.0,400.2 169.5,400.8 170.0,401.4 170.5,402.0 170.9,402.5 171.3,403.0 171.7,403.5 172.1,404.0 172.5,404.5 173.0,405.2 173.5,405.8 174.0,406.5 174.4,407.0 174.7,407.5 175.1,408.0 175.5,408.5 176.0,409.2 176.5,409.9 176.9,410.5 177.2,411.0 177.6,411.5 178.0,412.1 178.5,412.8 179.0,413.5 179.3,414.0 179.6,414.5 179.6,414.5" fill="none" stroke="#00827f" stroke-opacity="0.58" stroke-width="1" shape-rendering="crispEdges"/>
<path d="M45.5,386.0 46.5,386.0 47.5,386.1 48.5,386.1 49.5,386.1 50.5,386.1 51.5,386.2 52.5,386.2 53.5,386.3 54.5,386.3 55.5,386.4 56.5,386.4 57.4,386.5 58.0,386.5 59.0,386.6 60.0,386.7 61.0,386.8 62.0,386.9 63.0,387.0 63.5,387.0 64.5,387.1 65.5,387.3 66.5,387.4 67.5,387.5 68.0,387.6 69.0,387.7 70.0,387.8 71.0,388.0 71.5,388.1 72.5,388.2 73.5,388.4 74.2,388.5 75.0,388.6 76.0,388.8 76.9,389.0 77.5,389.1 78.5,389.3 79.5,389.5 80.0,389.6 81.0,389.8 81.8,390.0 82.5,390.2 83.5,390.4 84.0,390.5 85.0,390.8 85.9,391.0 86.5,391.1 87.5,391.4 88.0,391.5 89.0,391.8 89.6,392.0 90.5,392.2 91.3,392.5 92.0,392.7 93.0,393.0 93.5,393.2 94.5,393.5 95.0,393.6 96.0,394.0 96.5,394.2 97.5,394.5 98.0,394.7 98.9,395.0 99.5,395.2 100.2,395.5 101.0,395.8 101.5,396.0 102.5,396.4 103.0,396.6 104.0,397.0 104.5,397.2 105.2,397.5 106.0,397.8 106.5,398.1 107.5,398.5 108.0,398.7 108.6,399.0 109.5,399.4 110.0,399.7 110.7,400.0 111.5,400.4 112.0,400.7 112.7,401.0 113.5,401.4 114.0,401.7 114.6,402.0 115.5,402.5 116.0,402.7 116.5,403.0 117.4,403.5 118.0,403.9 118.5,404.1 119.1,404.5 120.0,405.0 120.5,405.3 121.0,405.6 121.6,406.0 122.4,406.5 123.0,406.9 123.5,407.2 124.0,407.5 124.8,408.0 125.5,408.5 126.0,408.8 126.5,409.2 127.0,409.5 127.7,410.0 128.4,410.5 129.0,410.9 129.5,411.3 130.0,411.6 130.5,412.0 131.2,412.5 131.8,413.0 132.5,413.5 133.0,413.9 133.5,414.3 133.8,414.5" fill="none" stroke="#00827f" stroke-opacity="0.58" stroke-width="1" shape-rendering="crispEdges"/>
<rect x="122.0" y="233.8" width="24.7" height="6" fill="#f0f8fa" stroke="#3a9e9a" stroke-width="0.9"/>
<text class="cl" x="134.3" y="238.5" text-anchor="middle">0.0270684</text>
<rect x="144.0" y="274.6" width="19.9" height="6" fill="#f0f8fa" stroke="#3a9e9a" stroke-width="0.9"/>
<text class="cl" x="154.0" y="279.3" text-anchor="middle">1.41833</text>
<rect x="150.4" y="330.0" width="12.9" height="6" fill="#f0f8fa" stroke="#3a9e9a" stroke-width="0.9"/>
<text class="cl" x="156.8" y="334.7" text-anchor="middle">3.24</text>
<rect x="117.0" y="362.5" width="19.9" height="6" fill="#f0f8fa" stroke="#3a9e9a" stroke-width="0.9"/>
<text class="cl" x="127.0" y="367.2" text-anchor="middle">5.06167</text>
<rect x="84.0" y="388.0" width="19.9" height="6" fill="#f0f8fa" stroke="#3a9e9a" stroke-width="0.9"/>
<text class="cl" x="94.0" y="392.7" text-anchor="middle">6.88333</text>
<rect x="45.5" y="234.5" width="178.0" height="180.0" fill="none" stroke="#5a5a5a" stroke-opacity="0.85" stroke-width="1"/>
<line x1="45.5" y1="414.5" x2="45.5" y2="418.5" stroke="#5a5a5a" stroke-opacity="0.85" stroke-width="1"/>
<text class="t" x="45.5" y="424.0" text-anchor="middle">10.00</text>
<line x1="90.0" y1="414.5" x2="90.0" y2="418.5" stroke="#5a5a5a" stroke-opacity="0.85" stroke-width="1"/>
<text class="t" x="90.0" y="424.0" text-anchor="middle">20.00</text>
<line x1="134.5" y1="414.5" x2="134.5" y2="418.5" stroke="#5a5a5a" stroke-opacity="0.85" stroke-width="1"/>
<text class="t" x="134.5" y="424.0" text-anchor="middle">30.00</text>
<line x1="179.0" y1="414.5" x2="179.0" y2="418.5" stroke="#5a5a5a" stroke-opacity="0.85" stroke-width="1"/>
<text class="t" x="179.0" y="424.0" text-anchor="middle">40.00</text>
<line x1="223.5" y1="414.5" x2="223.5" y2="418.5" stroke="#5a5a5a" stroke-opacity="0.85" stroke-width="1"/>
<text class="t" x="223.5" y="424.0" text-anchor="middle">50.00</text>
<line x1="41.0" y1="414.5" x2="45.5" y2="414.5" stroke="#5a5a5a" stroke-opacity="0.85" stroke-width="1"/>
<text class="ty" x="40.0" y="416.2" text-anchor="end">6.00</text>
<line x1="41.0" y1="369.5" x2="45.5" y2="369.5" stroke="#5a5a5a" stroke-opacity="0.85" stroke-width="1"/>
<text class="ty" x="40.0" y="371.2" text-anchor="end">7.00</text>
<line x1="41.0" y1="324.5" x2="45.5" y2="324.5" stroke="#5a5a5a" stroke-opacity="0.85" stroke-width="1"/>
<text class="ty" x="40.0" y="326.2" text-anchor="end">8.00</text>
<line x1="41.0" y1="279.5" x2="45.5" y2="279.5" stroke="#5a5a5a" stroke-opacity="0.85" stroke-width="1"/>
<text class="ty" x="40.0" y="281.2" text-anchor="end">9.00</text>
<line x1="41.0" y1="234.5" x2="45.5" y2="234.5" stroke="#5a5a5a" stroke-opacity="0.85" stroke-width="1"/>
<text class="ty" x="40.0" y="236.2" text-anchor="end">10.00</text>
<circle cx="134.5" cy="234.5" r="1.5" fill="#5ee01a" stroke="#2a6a10" stroke-width="0.6"/>
<circle cx="134.5" cy="414.5" r="1.5" fill="#5ee01a" stroke="#2a6a10" stroke-width="0.6"/>
<circle cx="45.5" cy="324.5" r="1.5" fill="#5ee01a" stroke="#2a6a10" stroke-width="0.6"/>
<circle cx="223.5" cy="324.5" r="1.5" fill="#5ee01a" stroke="#2a6a10" stroke-width="0.6"/>
<circle cx="134.5" cy="324.5" r="1.5" fill="#5ee01a" stroke="#2a6a10" stroke-width="0.6"/>
<text x="128.5" y="326.3" style="font-family:Liberation Sans,sans-serif;font-size:5.5px;font-weight:bold;fill:#3a1a00">6</text>
<circle cx="132.0" cy="324.5" r="1.5" fill="#3a1a00"/>
<text class="tm" x="131.2" y="231.7" text-anchor="end">Mean: 3</text>
<text class="tm" x="137.3" y="231.7">Ted</text>
<text class="lb" x="8.7" y="250.1">D.</text>
<text class="ti" x="93.6" y="443.4" textLength="85.0" lengthAdjust="spacingAndGlyphs">Nitrogen Source</text>
<text class="ti" transform="translate(18.2,340.1) rotate(-90)" textLength="15.5" lengthAdjust="spacingAndGlyphs">pH</text>
<path d="M273.5,369.7 273.8,369.0 274.1,368.5 274.5,367.5 274.7,367.0 275.0,366.4 275.4,365.5 275.7,365.0 276.0,364.2 276.3,363.5 276.5,363.0 277.0,362.0 277.2,361.5 277.5,360.8 277.8,360.0 278.1,359.5 278.5,358.5 278.7,358.0 279.0,357.3 279.3,356.5 279.5,356.0 279.9,355.0 280.1,354.5 280.5,353.5 280.7,353.0 281.0,352.3 281.3,351.5 281.5,351.0 281.9,350.0 282.1,349.5 282.4,348.5 282.6,348.0 283.0,347.0 283.2,346.5 283.5,345.5 283.7,345.0 284.0,344.1 284.2,343.5 284.5,342.6 284.7,342.0 285.0,341.1 285.2,340.5 285.5,339.5 285.7,339.0 286.0,338.0 286.1,337.5 286.4,336.5 286.6,336.0 286.9,335.0 287.0,334.5 287.3,333.5 287.5,332.8 287.7,332.0 288.0,331.0 288.1,330.5 288.4,329.5 288.5,328.9 288.7,328.0 289.0,327.0 289.1,326.5 289.3,325.5 289.5,324.6 289.6,324.0 289.8,323.0 290.0,322.3 290.2,321.5 290.3,320.5 290.5,319.7 290.6,319.0 290.8,318.0 291.0,317.0 291.1,316.5 291.2,315.5 291.4,314.5 291.5,313.7 291.6,313.0 291.7,312.0 291.9,311.0 292.0,310.0 292.1,309.5 292.2,308.5 292.3,307.5 292.4,306.5 292.5,305.5 292.5,305.0 292.6,304.0 292.7,303.0 292.8,302.0 292.8,301.0 292.9,300.0 293.0,299.0 293.0,298.3 293.0,297.5 293.1,296.5 293.1,295.5 293.2,294.5 293.2,293.5 293.2,292.5 293.2,291.5 293.2,290.5 293.2,289.5 293.2,288.5 293.2,287.5 293.2,286.5 293.2,285.5 293.2,284.5 293.2,283.5 293.2,282.5 293.1,281.5 293.1,280.5 293.1,279.5 293.0,278.5 293.0,278.0 292.9,277.0 292.9,276.0 292.8,275.0 292.8,274.0 292.7,273.0 292.6,272.0 292.6,271.0 292.5,270.1 292.5,269.5 292.4,268.5 292.3,267.5 292.2,266.5 292.1,265.5 292.0,264.5 292.0,264.0 291.9,263.0 291.8,262.0 291.7,261.0 291.6,260.0 291.5,259.3 291.4,258.5 291.3,257.5 291.2,256.5 291.1,255.5 291.0,255.0 290.9,254.0 290.8,253.0 290.6,252.0 290.5,251.0 290.4,250.5 290.3,249.5 290.2,248.5 290.0,247.5 290.0,247.0 289.8,246.0 289.7,245.0 289.5,244.0 289.5,243.5 289.3,242.5 289.2,241.5 289.0,240.5 288.9,240.0 288.8,239.0 288.6,238.0 288.6,237.5" fill="none" stroke="#00827f" stroke-opacity="0.58" stroke-width="1" shape-rendering="crispEdges"/>
<path d="M391.8,237.5 391.5,238.0 391.0,238.8 390.6,239.5 390.3,240.0 390.0,240.6 389.5,241.5 389.2,242.0 388.9,242.5 388.5,243.3 388.1,244.0 387.8,244.5 387.5,245.1 387.0,246.0 386.7,246.5 386.4,247.0 386.0,247.8 385.6,248.5 385.3,249.0 385.0,249.6 384.5,250.5 384.3,251.0 384.0,251.5 383.5,252.4 383.2,253.0 382.9,253.5 382.5,254.3 382.1,255.0 381.8,255.5 381.5,256.1 381.0,257.0 380.8,257.5 380.5,258.0 380.0,259.0 379.7,259.5 379.5,260.0 379.0,260.9 378.7,261.5 378.4,262.0 378.0,262.9 377.7,263.5 377.4,264.0 377.0,264.8 376.7,265.5 376.4,266.0 376.0,266.8 375.7,267.5 375.4,268.0 375.0,268.8 374.7,269.5 374.4,270.0 374.0,270.9 373.7,271.5 373.5,272.0 373.0,273.0 372.7,273.5 372.5,274.0 372.0,275.0 371.8,275.5 371.5,276.1 371.1,277.0 370.9,277.5 370.5,278.3 370.2,279.0 370.0,279.5 369.5,280.5 369.3,281.0 369.0,281.6 368.6,282.5 368.4,283.0 368.0,283.9 367.7,284.5 367.5,285.1 367.1,286.0 366.9,286.5 366.5,287.4 366.3,288.0 366.0,288.7 365.7,289.5 365.5,290.0 365.0,291.0 364.8,291.5 364.5,292.4 364.3,293.0 364.0,293.7 363.7,294.5 363.5,295.0 363.1,296.0 362.9,296.5 362.6,297.5 362.4,298.0 362.0,299.0 361.8,299.5 361.5,300.5 361.3,301.0 361.0,301.9 360.8,302.5 360.5,303.4 360.3,304.0 360.0,305.0 359.8,305.5 359.5,306.5 359.4,307.0 359.1,308.0 358.9,308.5 358.6,309.5 358.5,310.0 358.2,311.0 358.0,311.6 357.8,312.5 357.5,313.4 357.4,314.0 357.1,315.0 357.0,315.5 356.7,316.5 356.5,317.4 356.3,318.0 356.1,319.0 356.0,319.5 355.8,320.5 355.6,321.5 355.5,322.0 355.2,323.0 355.0,324.0 354.9,324.5 354.8,325.5 354.6,326.5 354.5,327.0 354.3,328.0 354.1,329.0 354.0,329.9 353.9,330.5 353.8,331.5 353.6,332.5 353.5,333.3 353.4,334.0 353.3,335.0 353.2,336.0 353.0,337.0 353.0,337.5 352.9,338.5 352.8,339.5 352.7,340.5 352.6,341.5 352.5,342.5 352.5,343.0 352.4,344.0 352.3,345.0 352.3,346.0 352.2,347.0 352.2,348.0 352.1,349.0 352.1,350.0 352.1,351.0 352.0,352.0 352.0,353.0 352.0,354.0 352.0,354.5 352.0,355.5 352.0,356.5 352.0,357.5 352.0,358.5 352.0,359.3 352.0,360.0 352.0,361.0 352.0,362.0 352.1,363.0 352.1,364.0 352.1,365.0 352.2,366.0 352.2,367.0 352.3,368.0 352.3,369.0 352.4,370.0 352.4,371.0 352.5,372.0 352.5,372.5 352.6,373.5 352.7,374.5 352.7,375.5 352.8,376.5 352.9,377.5 353.0,378.5 353.0,379.0 353.1,380.0 353.2,381.0 353.3,382.0 353.4,383.0 353.5,383.8 353.6,384.5 353.7,385.5 353.8,386.5 353.9,387.5 354.0,388.4 354.1,389.0 354.2,390.0 354.3,391.0 354.4,392.0 354.5,392.6 354.6,393.5 354.7,394.5 354.9,395.5 355.0,396.4 355.1,397.0 355.2,398.0 355.4,399.0 355.5,400.0 355.6,400.5 355.7,401.5 355.9,402.5 356.0,403.5 356.1,404.0 356.2,405.0 356.4,406.0 356.5,406.8 356.6,407.5 356.8,408.5 356.9,409.5 357.0,410.0 357.2,411.0 357.3,412.0 357.5,413.0 357.6,413.5 357.7,414.5 357.7,414.5" fill="none" stroke="#00827f" stroke-opacity="0.58" stroke-width="1" shape-rendering="crispEdges"/>
<path d="M379.4,237.5 379.0,238.0 378.5,238.8 378.0,239.5 377.6,240.0 377.3,240.5 377.0,241.0 376.5,241.7 376.0,242.4 375.6,243.0 375.3,243.5 374.9,244.0 374.5,244.6 374.0,245.3 373.5,246.0 373.2,246.5 372.9,247.0 372.5,247.5 372.0,248.3 371.5,249.0 371.1,249.5 370.8,250.0 370.5,250.5 370.0,251.2 369.5,251.9 369.1,252.5 368.7,253.0 368.4,253.5 368.0,254.1 367.5,254.8 367.0,255.5 366.7,256.0 366.3,256.5 366.0,257.0 365.5,257.7 365.0,258.4 364.6,259.0 364.3,259.5 363.9,260.0 363.5,260.6 363.0,261.3 362.5,262.0 362.2,262.5 361.8,263.0 361.5,263.5 361.0,264.2 360.5,264.9 360.1,265.5 359.8,266.0 359.4,266.5 359.0,267.1 358.5,267.8 358.0,268.5 357.7,269.0 357.3,269.5 357.0,270.0 356.5,270.7 356.0,271.4 355.6,272.0 355.2,272.5 354.9,273.0 354.5,273.5 354.0,274.2 353.5,275.0 353.1,275.5 352.8,276.0 352.4,276.5 352.0,277.1 351.5,277.8 351.0,278.5 350.6,279.0 350.3,279.5 349.9,280.0 349.5,280.6 349.0,281.3 348.5,282.0 348.1,282.5 347.8,283.0 347.4,283.5 347.0,284.1 346.5,284.8 346.0,285.5 345.6,286.0 345.3,286.5 344.9,287.0 344.5,287.5 344.0,288.2 343.5,288.9 343.1,289.5 342.7,290.0 342.3,290.5 341.9,291.0 341.5,291.6 341.0,292.2 340.5,292.9 340.0,293.5 339.7,294.0 339.3,294.5 338.9,295.0 338.5,295.5 338.0,296.1 337.5,296.7 337.0,297.4 336.5,298.0 336.1,298.5 335.6,299.0 335.2,299.5 334.8,300.0 334.4,300.5 333.9,301.0 333.5,301.5 333.0,302.0 332.5,302.5 332.0,303.0 331.5,303.5 330.9,304.0 330.4,304.5 329.7,305.0 329.0,305.5 328.5,305.8 328.0,306.1 327.0,306.5 326.5,306.6 325.5,306.6 325.0,306.5 324.0,306.1 323.5,305.7 323.0,305.2 322.5,304.7 322.0,304.0 321.6,303.5 321.3,303.0 321.0,302.4 320.5,301.5 320.3,301.0 320.0,300.5 319.6,299.5 319.3,299.0 319.0,298.2 318.7,297.5 318.5,297.0 318.1,296.0 317.9,295.5 317.6,294.5 317.4,294.0 317.0,293.0 316.9,292.5 316.5,291.5 316.3,291.0 316.0,290.0 315.8,289.5 315.5,288.5 315.4,288.0 315.0,287.0 314.9,286.5 314.6,285.5 314.4,285.0 314.1,284.0 313.9,283.5 313.6,282.5 313.5,282.0 313.2,281.0 313.0,280.4 312.7,279.5 312.5,278.7 312.3,278.0 312.0,277.1 311.8,276.5 311.5,275.5 311.4,275.0 311.1,274.0 311.0,273.5 310.7,272.5 310.5,271.9 310.2,271.0 310.0,270.2 309.8,269.5 309.5,268.5 309.4,268.0 309.1,267.0 309.0,266.5 308.7,265.5 308.5,264.9 308.3,264.0 308.0,263.1 307.8,262.5 307.6,261.5 307.4,261.0 307.1,260.0 307.0,259.5 306.7,258.5 306.5,257.7 306.3,257.0 306.0,256.0 305.9,255.5 305.6,254.5 305.5,254.0 305.2,253.0 305.0,252.3 304.8,251.5 304.5,250.5 304.4,250.0 304.1,249.0 304.0,248.5 303.7,247.5 303.5,246.8 303.3,246.0 303.0,245.0 302.9,244.5 302.6,243.5 302.5,243.0 302.2,242.0 302.0,241.3 301.8,240.5 301.5,239.5 301.4,239.0 301.1,238.0 301.0,237.5 301.0,237.5" fill="none" stroke="#00827f" stroke-opacity="0.58" stroke-width="1" shape-rendering="crispEdges"/>
<path d="M273.5,396.7 274.0,396.0 274.3,395.5 274.7,395.0 275.0,394.5 275.5,393.8 276.0,393.1 276.4,392.5 276.7,392.0 277.1,391.5 277.5,390.9 278.0,390.2 278.5,389.5 278.8,389.0 279.1,388.5 279.5,388.0 280.0,387.3 280.5,386.5 280.9,386.0 281.2,385.5 281.6,385.0 282.0,384.4 282.5,383.6 282.9,383.0 283.3,382.5 283.6,382.0 284.0,381.5 284.5,380.7 285.0,380.0 285.4,379.5 285.7,379.0 286.1,378.5 286.5,377.9 287.0,377.1 287.5,376.5 287.8,376.0 288.2,375.5 288.5,375.0 289.0,374.3 289.5,373.6 289.9,373.0 290.2,372.5 290.6,372.0 291.0,371.4 291.5,370.7 292.0,370.0 292.4,369.5 292.7,369.0 293.1,368.5 293.5,367.9 294.0,367.2 294.5,366.5 294.8,366.0 295.2,365.5 295.5,365.0 296.0,364.4 296.5,363.7 297.0,363.0 297.3,362.5 297.7,362.0 298.1,361.5 298.5,360.9 299.0,360.2 299.5,359.5 299.9,359.0 300.2,358.5 300.6,358.0 301.0,357.4 301.5,356.8 302.0,356.1 302.4,355.5 302.8,355.0 303.2,354.5 303.6,354.0 304.0,353.4 304.5,352.7 305.0,352.1 305.5,351.5 305.8,351.0 306.2,350.5 306.6,350.0 307.0,349.5 307.5,348.9 308.0,348.3 308.5,347.7 309.0,347.0 309.5,346.5 309.9,346.0 310.3,345.5 310.7,345.0 311.2,344.5 311.6,344.0 312.1,343.5 312.6,343.0 313.1,342.5 313.6,342.0 314.1,341.5 314.7,341.0 315.3,340.5 316.0,340.0 316.5,339.7 317.0,339.4 317.9,339.0 318.5,338.8 319.5,338.7 320.5,338.9 321.0,339.2 321.5,339.5 322.1,340.0 322.6,340.5 323.0,341.0 323.5,341.7 324.0,342.5 324.3,343.0 324.5,343.5 325.0,344.4 325.3,345.0 325.5,345.5 326.0,346.5 326.2,347.0 326.5,347.8 326.8,348.5 327.0,349.1 327.3,350.0 327.5,350.5 327.9,351.5 328.1,352.0 328.4,353.0 328.6,353.5 328.9,354.5 329.1,355.0 329.4,356.0 329.6,356.5 329.9,357.5 330.1,358.0 330.4,359.0 330.6,359.5 330.9,360.5 331.0,361.0 331.3,362.0 331.5,362.5 331.8,363.5 332.0,364.2 332.2,365.0 332.5,365.8 332.7,366.5 333.0,367.5 333.1,368.0 333.4,369.0 333.6,369.5 333.9,370.5 334.0,371.0 334.3,372.0 334.5,372.7 334.7,373.5 335.0,374.4 335.2,375.0 335.5,376.0 335.6,376.5 335.9,377.5 336.0,378.0 336.3,379.0 336.5,379.7 336.7,380.5 337.0,381.4 337.2,382.0 337.4,383.0 337.6,383.5 337.9,384.5 338.0,385.0 338.3,386.0 338.5,386.8 338.7,387.5 339.0,388.5 339.1,389.0 339.4,390.0 339.5,390.5 339.8,391.5 340.0,392.2 340.2,393.0 340.5,394.0 340.6,394.5 340.9,395.5 341.0,396.0 341.3,397.0 341.5,397.7 341.7,398.5 342.0,399.5 342.1,400.0 342.4,401.0 342.5,401.5 342.8,402.5 343.0,403.2 343.2,404.0 343.5,405.0 343.6,405.5 343.9,406.5 344.0,407.0 344.3,408.0 344.5,408.7 344.7,409.5 345.0,410.5 345.1,411.0 345.4,412.0 345.5,412.5 345.8,413.5 346.0,414.2 346.1,414.5" fill="none" stroke="#00827f" stroke-opacity="0.58" stroke-width="1" shape-rendering="crispEdges"/>
<path d="M430.6,237.5 430.3,238.0 430.0,238.9 429.7,239.5 429.5,240.1 429.1,241.0 428.9,241.5 428.5,242.5 428.3,243.0 428.0,243.8 427.7,244.5 427.5,245.0 427.1,246.0 426.9,246.5 426.5,247.5 426.3,248.0 426.0,248.8 425.7,249.5 425.5,250.1 425.2,251.0 425.0,251.5 424.6,252.5 424.4,253.0 424.0,254.0 423.8,254.5 423.5,255.4 423.3,256.0 423.0,256.7 422.7,257.5 422.5,258.1 422.2,259.0 422.0,259.5 421.6,260.5 421.4,261.0 421.1,262.0 420.9,262.5 420.5,263.5 420.3,264.0 420.0,265.0 419.8,265.5 419.5,266.4 419.3,267.0 419.0,267.8 418.8,268.5 418.5,269.3 418.2,270.0 418.0,270.7 417.7,271.5 417.5,272.2 417.2,273.0 417.0,273.7 416.7,274.5 416.5,275.2 416.2,276.0 416.0,276.7 415.7,277.5 415.5,278.3 415.3,279.0 415.0,279.8 414.8,280.5 414.5,281.4 414.3,282.0 414.0,283.0 413.8,283.5 413.5,284.5 413.4,285.0 413.1,286.0 412.9,286.5 412.6,287.5 412.5,288.0 412.2,289.0 412.0,289.6 411.7,290.5 411.5,291.3 411.3,292.0 411.0,293.0 410.9,293.5 410.6,294.5 410.5,295.0 410.2,296.0 410.0,296.6 409.8,297.5 409.5,298.5 409.4,299.0 409.1,300.0 409.0,300.5 408.7,301.5 408.5,302.2 408.3,303.0 408.0,304.0 407.9,304.5 407.7,305.5 407.5,306.1 407.3,307.0 407.0,308.0 406.9,308.5 406.7,309.5 406.5,310.2 406.3,311.0 406.1,312.0 406.0,312.5 405.7,313.5 405.5,314.5 405.4,315.0 405.2,316.0 405.0,316.7 404.8,317.5 404.6,318.5 404.5,319.0 404.3,320.0 404.1,321.0 404.0,321.5 403.8,322.5 403.6,323.5 403.5,324.0 403.3,325.0 403.1,326.0 403.0,326.5 402.8,327.5 402.6,328.5 402.5,329.0 402.3,330.0 402.1,331.0 402.0,331.6 401.8,332.5 401.7,333.5 401.5,334.4 401.4,335.0 401.2,336.0 401.0,337.0 401.0,337.5 400.8,338.5 400.6,339.5 400.5,340.4 400.4,341.0 400.2,342.0 400.1,343.0 400.0,343.6 399.9,344.5 399.7,345.5 399.6,346.5 399.5,347.1 399.4,348.0 399.2,349.0 399.1,350.0 399.0,350.8 398.9,351.5 398.8,352.5 398.6,353.5 398.5,354.5 398.5,355.0 398.3,356.0 398.2,357.0 398.1,358.0 398.0,359.0 398.0,359.5 397.8,360.5 397.7,361.5 397.6,362.5 397.5,363.5 397.5,364.0 397.4,365.0 397.3,366.0 397.2,367.0 397.1,368.0 397.0,369.0 397.0,369.5 396.9,370.5 396.8,371.5 396.8,372.5 396.7,373.5 396.6,374.5 396.5,375.5 396.5,376.0 396.4,377.0 396.4,378.0 396.3,379.0 396.2,380.0 396.2,381.0 396.1,382.0 396.1,383.0 396.0,384.0 396.0,384.7 396.0,385.5 395.9,386.5 395.9,387.5 395.8,388.5 395.8,389.5 395.8,390.5 395.7,391.5 395.7,392.5 395.7,393.5 395.6,394.5 395.6,395.5 395.6,396.5 395.6,397.5 395.5,398.5 395.5,399.5 395.5,400.5 395.5,401.5 395.5,402.0 395.5,403.0 395.5,404.0 395.5,405.0 395.5,406.0 395.5,407.0 395.5,408.0 395.5,409.0 395.5,410.0 395.5,411.0 395.5,412.0 395.5,413.0 395.5,413.5 395.5,414.5 395.5,414.5" fill="none" stroke="#00827f" stroke-opacity="0.58" stroke-width="1" shape-rendering="crispEdges"/>
<path d="M451.5,282.2 451.3,283.0 451.0,284.0 450.9,284.5 450.6,285.5 450.5,286.0 450.2,287.0 450.0,287.7 449.8,288.5 449.5,289.5 449.4,290.0 449.1,291.0 449.0,291.5 448.7,292.5 448.5,293.4 448.3,294.0 448.1,295.0 447.9,295.5 447.7,296.5 447.5,297.3 447.3,298.0 447.1,299.0 446.9,299.5 446.7,300.5 446.5,301.3 446.3,302.0 446.1,303.0 446.0,303.5 445.7,304.5 445.5,305.4 445.4,306.0 445.1,307.0 445.0,307.5 444.8,308.5 444.5,309.5 444.4,310.0 444.2,311.0 444.0,311.9 443.9,312.5 443.6,313.5 443.5,314.1 443.3,315.0 443.1,316.0 443.0,316.5 442.8,317.5 442.5,318.5 442.4,319.0 442.2,320.0 442.0,321.0 441.9,321.5 441.7,322.5 441.5,323.5 441.4,324.0 441.2,325.0 441.0,326.0 440.9,326.5 440.7,327.5 440.5,328.5 440.4,329.0 440.2,330.0 440.0,331.0 439.9,331.5 439.7,332.5 439.6,333.5 439.5,334.0 439.3,335.0 439.1,336.0 439.0,336.5 438.8,337.5 438.6,338.5 438.5,339.3 438.4,340.0 438.2,341.0 438.0,342.0 438.0,342.5 437.8,343.5 437.6,344.5 437.5,345.2 437.4,346.0 437.2,347.0 437.0,348.0 437.0,348.5 436.8,349.5 436.7,350.5 436.5,351.5 436.4,352.0 436.3,353.0 436.1,354.0 436.0,354.8 435.9,355.5 435.8,356.5 435.6,357.5 435.5,358.3 435.4,359.0 435.3,360.0 435.1,361.0 435.0,361.9 434.9,362.5 434.8,363.5 434.7,364.5 434.5,365.5 434.5,366.0 434.3,367.0 434.2,368.0 434.1,369.0 434.0,369.8 433.9,370.5 433.8,371.5 433.7,372.5 433.6,373.5 433.5,374.1 433.4,375.0 433.3,376.0 433.2,377.0 433.1,378.0 433.0,378.6 432.9,379.5 432.8,380.5 432.7,381.5 432.6,382.5 432.5,383.5 432.5,384.0 432.4,385.0 432.3,386.0 432.2,387.0 432.1,388.0 432.0,389.0 432.0,389.5 431.9,390.5 431.8,391.5 431.7,392.5 431.6,393.5 431.5,394.5 431.5,395.1 431.4,396.0 431.4,397.0 431.3,398.0 431.2,399.0 431.1,400.0 431.1,401.0 431.0,402.0 431.0,402.5 430.9,403.5 430.8,404.5 430.8,405.5 430.7,406.5 430.7,407.5 430.6,408.5 430.5,409.5 430.5,410.4 430.5,411.0 430.4,412.0 430.4,413.0 430.3,414.0 430.3,414.5" fill="none" stroke="#00827f" stroke-opacity="0.58" stroke-width="1" shape-rendering="crispEdges"/>
<rect x="285.6" y="303.7" width="12.9" height="6" fill="#f0f8fa" stroke="#3a9e9a" stroke-width="0.9"/>
<text class="cl" x="292.0" y="308.4" text-anchor="middle">3.24</text>
<rect x="323.0" y="295.0" width="19.9" height="6" fill="#f0f8fa" stroke="#3a9e9a" stroke-width="0.9"/>
<text class="cl" x="333.0" y="299.7" text-anchor="middle">3.39648</text>
<rect x="350.6" y="306.0" width="12.9" height="6" fill="#f0f8fa" stroke="#3a9e9a" stroke-width="0.9"/>
<text class="cl" x="357.0" y="310.7" text-anchor="middle">3.24</text>
<rect x="395.2" y="310.3" width="17.6" height="6" fill="#f0f8fa" stroke="#3a9e9a" stroke-width="0.9"/>
<text class="cl" x="404.0" y="315.0" text-anchor="middle">2.4742</text>
<rect x="426.6" y="337.0" width="19.9" height="6" fill="#f0f8fa" stroke="#3a9e9a" stroke-width="0.9"/>
<text class="cl" x="436.6" y="341.7" text-anchor="middle">1.41833</text>
<rect x="310.0" y="334.4" width="19.9" height="6" fill="#f0f8fa" stroke="#3a9e9a" stroke-width="0.9"/>
<text class="cl" x="320.0" y="339.1" text-anchor="middle">3.39648</text>
<rect x="273.5" y="237.5" width="178.0" height="177.0" fill="none" stroke="#5a5a5a" stroke-opacity="0.85" stroke-width="1"/>
<line x1="273.5" y1="414.5" x2="273.5" y2="418.5" stroke="#5a5a5a" stroke-opacity="0.85" stroke-width="1"/>
<text class="t" x="273.5" y="424.0" text-anchor="middle">10.00</text>
<line x1="318.0" y1="414.5" x2="318.0" y2="418.5" stroke="#5a5a5a" stroke-opacity="0.85" stroke-width="1"/>
<text class="t" x="318.0" y="424.0" text-anchor="middle">20.00</text>
<line x1="362.5" y1="414.5" x2="362.5" y2="418.5" stroke="#5a5a5a" stroke-opacity="0.85" stroke-width="1"/>
<text class="t" x="362.5" y="424.0" text-anchor="middle">30.00</text>
<line x1="407.0" y1="414.5" x2="407.0" y2="418.5" stroke="#5a5a5a" stroke-opacity="0.85" stroke-width="1"/>
<text class="t" x="407.0" y="424.0" text-anchor="middle">40.00</text>
<line x1="451.5" y1="414.5" x2="451.5" y2="418.5" stroke="#5a5a5a" stroke-opacity="0.85" stroke-width="1"/>
<text class="t" x="451.5" y="424.0" text-anchor="middle">50.00</text>
<line x1="269.0" y1="414.5" x2="273.5" y2="414.5" stroke="#5a5a5a" stroke-opacity="0.85" stroke-width="1"/>
<text class="ty" x="268.0" y="416.2" text-anchor="end">10.00</text>
<line x1="269.0" y1="370.2" x2="273.5" y2="370.2" stroke="#5a5a5a" stroke-opacity="0.85" stroke-width="1"/>
<text class="ty" x="268.0" y="371.9" text-anchor="end">20.00</text>
<line x1="269.0" y1="326.0" x2="273.5" y2="326.0" stroke="#5a5a5a" stroke-opacity="0.85" stroke-width="1"/>
<text class="ty" x="268.0" y="327.7" text-anchor="end">30.00</text>
<line x1="269.0" y1="281.8" x2="273.5" y2="281.8" stroke="#5a5a5a" stroke-opacity="0.85" stroke-width="1"/>
<text class="ty" x="268.0" y="283.4" text-anchor="end">40.00</text>
<line x1="269.0" y1="237.5" x2="273.5" y2="237.5" stroke="#5a5a5a" stroke-opacity="0.85" stroke-width="1"/>
<text class="ty" x="268.0" y="239.2" text-anchor="end">50.00</text>
<circle cx="362.5" cy="237.5" r="1.5" fill="#5ee01a" stroke="#2a6a10" stroke-width="0.6"/>
<circle cx="362.5" cy="414.5" r="1.5" fill="#5ee01a" stroke="#2a6a10" stroke-width="0.6"/>
<circle cx="273.5" cy="326.0" r="1.5" fill="#5ee01a" stroke="#2a6a10" stroke-width="0.6"/>
<circle cx="451.5" cy="326.0" r="1.5" fill="#5ee01a" stroke="#2a6a10" stroke-width="0.6"/>
<circle cx="362.5" cy="326.0" r="1.5" fill="#5ee01a" stroke="#2a6a10" stroke-width="0.6"/>
<text x="356.5" y="327.8" style="font-family:Liberation Sans,sans-serif;font-size:5.5px;font-weight:bold;fill:#3a1a00">6</text>
<circle cx="360.0" cy="326.0" r="1.5" fill="#3a1a00"/>
<text class="tm" x="359.2" y="234.7" text-anchor="end">Mean: 3</text>
<text class="tm" x="365.3" y="234.7">Ted</text>
<text class="lb" x="237.7" y="250.0">E.</text>
<text class="ti" x="325.2" y="443.0" textLength="85.0" lengthAdjust="spacingAndGlyphs">Nitrogen Source</text>
<text class="ti" transform="translate(251.9,396.8) rotate(-90)" textLength="122.6" lengthAdjust="spacingAndGlyphs">Bacterial Concentration</text>
<path d="M516.5,240.5 516.4,241.0 516.3,242.0 516.1,243.0 516.0,243.7 515.9,244.5 515.7,245.5 515.5,246.5 515.5,247.0 515.3,248.0 515.1,249.0 515.0,249.9 514.9,250.5 514.8,251.5 514.6,252.5 514.5,253.1 514.4,254.0 514.2,255.0 514.1,256.0 514.0,256.5 513.8,257.5 513.7,258.5 513.5,259.5 513.5,260.0 513.3,261.0 513.2,262.0 513.0,263.0 512.9,263.5 512.8,264.5 512.6,265.5 512.5,266.5 512.4,267.0 512.3,268.0 512.1,269.0 512.0,270.0 511.9,270.5 511.8,271.5 511.7,272.5 511.5,273.5 511.4,274.0 511.3,275.0 511.2,276.0 511.0,277.0 511.0,277.5 510.8,278.5 510.7,279.5 510.6,280.5 510.5,281.1 510.4,282.0 510.2,283.0 510.1,284.0 510.0,284.9 509.9,285.5 509.8,286.5 509.7,287.5 509.5,288.5 509.5,289.0 509.4,290.0 509.2,291.0 509.1,292.0 509.0,293.0 508.9,293.5 508.8,294.5 508.7,295.5 508.6,296.5 508.5,297.2 508.4,298.0 508.3,299.0 508.2,300.0 508.1,301.0 508.0,301.5 507.9,302.5 507.8,303.5 507.7,304.5 507.6,305.5 507.5,306.0 507.4,307.0 507.3,308.0 507.2,309.0 507.1,310.0 507.0,310.7 506.9,311.5 506.8,312.5 506.7,313.5 506.6,314.5 506.5,315.5 506.5,316.0 506.4,317.0 506.3,318.0 506.2,319.0 506.1,320.0 506.0,320.6 505.9,321.5 505.8,322.5 505.7,323.5 505.6,324.5 505.5,325.5 505.5,326.0" fill="none" stroke="#00827f" stroke-opacity="0.58" stroke-width="1" shape-rendering="crispEdges"/>
<path d="M555.8,240.5 555.7,241.5 555.5,242.5 555.4,243.0 555.3,244.0 555.1,245.0 555.0,245.9 554.9,246.5 554.8,247.5 554.6,248.5 554.5,249.3 554.4,250.0 554.3,251.0 554.1,252.0 554.0,252.8 553.9,253.5 553.8,254.5 553.6,255.5 553.5,256.3 553.4,257.0 553.3,258.0 553.1,259.0 553.0,259.9 552.9,260.5 552.8,261.5 552.7,262.5 552.5,263.5 552.5,264.0 552.3,265.0 552.2,266.0 552.1,267.0 552.0,267.5 551.9,268.5 551.7,269.5 551.6,270.5 551.5,271.4 551.4,272.0 551.3,273.0 551.2,274.0 551.0,275.0 551.0,275.5 550.9,276.5 550.7,277.5 550.6,278.5 550.5,279.5 550.4,280.0 550.3,281.0 550.2,282.0 550.1,283.0 550.0,283.8 549.9,284.5 549.8,285.5 549.7,286.5 549.6,287.5 549.5,288.2 549.4,289.0 549.3,290.0 549.2,291.0 549.1,292.0 549.0,292.9 548.9,293.5 548.8,294.5 548.7,295.5 548.6,296.5 548.5,297.5 548.5,298.0 548.4,299.0 548.3,300.0 548.2,301.0 548.1,302.0 548.0,302.7 547.9,303.5 547.8,304.5 547.7,305.5 547.6,306.5 547.5,307.5 547.5,308.0 547.4,309.0 547.3,310.0 547.2,311.0 547.1,312.0 547.0,313.0 547.0,313.5 546.9,314.5 546.8,315.5 546.7,316.5 546.7,317.5 546.6,318.5 546.5,319.5 546.5,320.0 546.4,321.0 546.3,322.0 546.2,323.0 546.1,324.0 546.1,325.0 546.0,325.9 546.0,326.5 545.9,327.5 545.8,328.5 545.7,329.5 545.7,330.5 545.6,331.5 545.5,332.5 545.5,333.0 545.4,334.0 545.4,335.0 545.3,336.0 545.2,337.0 545.2,338.0 545.1,339.0 545.0,340.0 545.0,340.7 545.0,341.5 544.9,342.5 544.8,343.5 544.8,344.5 544.7,345.5 544.7,346.5 544.6,347.5 544.6,348.5 544.5,349.5 544.5,350.0 544.4,351.0 544.4,352.0 544.3,353.0 544.3,354.0 544.2,355.0 544.2,356.0 544.1,357.0 544.1,358.0 544.1,359.0 544.0,360.0 544.0,360.5 544.0,361.5 543.9,362.5 543.9,363.5 543.8,364.5 543.8,365.5 543.8,366.5 543.7,367.5 543.7,368.5 543.7,369.5 543.6,370.5 543.6,371.5 543.6,372.5 543.6,373.5 543.5,374.5 543.5,375.5 543.5,376.0 543.5,377.0 543.4,378.0 543.4,379.0 543.4,380.0 543.4,381.0 543.4,382.0 543.3,383.0 543.3,384.0 543.3,385.0 543.3,386.0 543.3,387.0 543.3,388.0 543.3,389.0 543.3,390.0 543.2,391.0 543.2,392.0 543.2,393.0 543.2,394.0 543.2,395.0 543.2,396.0 543.2,397.0 543.2,398.0 543.2,399.0 543.2,400.0 543.2,401.0 543.2,402.0 543.2,403.0 543.2,404.0 543.2,405.0 543.2,406.0 543.2,407.0 543.2,408.0 543.3,409.0 543.3,410.0 543.3,411.0 543.3,412.0 543.3,413.0 543.3,413.5" fill="none" stroke="#00827f" stroke-opacity="0.58" stroke-width="1" shape-rendering="crispEdges"/>
<path d="M593.4,240.5 593.2,241.5 593.1,242.5 593.0,243.2 592.9,244.0 592.7,245.0 592.6,246.0 592.5,246.8 592.4,247.5 592.3,248.5 592.1,249.5 592.0,250.5 591.9,251.0 591.8,252.0 591.7,253.0 591.6,254.0 591.5,254.5 591.4,255.5 591.2,256.5 591.1,257.5 591.0,258.3 590.9,259.0 590.8,260.0 590.7,261.0 590.6,262.0 590.5,262.5 590.4,263.5 590.3,264.5 590.1,265.5 590.0,266.5 590.0,267.0 589.8,268.0 589.7,269.0 589.6,270.0 589.5,271.0 589.4,271.5 589.3,272.5 589.2,273.5 589.1,274.5 589.0,275.5 588.9,276.0 588.8,277.0 588.7,278.0 588.6,279.0 588.5,280.0 588.5,280.5 588.4,281.5 588.3,282.5 588.2,283.5 588.1,284.5 588.0,285.2 587.9,286.0 587.8,287.0 587.7,288.0 587.6,289.0 587.5,290.0 587.5,290.5 587.4,291.5 587.3,292.5 587.2,293.5 587.1,294.5 587.0,295.5 587.0,296.0 586.9,297.0 586.8,298.0 586.7,299.0 586.6,300.0 586.6,301.0 586.5,301.8 586.4,302.5 586.4,303.5 586.3,304.5 586.2,305.5 586.1,306.5 586.0,307.5 586.0,308.1 585.9,309.0 585.9,310.0 585.8,311.0 585.7,312.0 585.6,313.0 585.6,314.0 585.5,315.0 585.5,315.5 585.4,316.5 585.3,317.5 585.3,318.5 585.2,319.5 585.1,320.5 585.1,321.5 585.0,322.5 585.0,323.0 584.9,324.0 584.9,325.0 584.8,326.0 584.7,327.0 584.7,328.0 584.6,329.0 584.6,330.0 584.5,331.0 584.5,331.6 584.5,332.5 584.4,333.5 584.4,334.5 584.3,335.5 584.3,336.5 584.2,337.5 584.2,338.5 584.1,339.5 584.1,340.5 584.0,341.5 584.0,342.4 584.0,343.0 583.9,344.0 583.9,345.0 583.9,346.0 583.8,347.0 583.8,348.0 583.8,349.0 583.7,350.0 583.7,351.0 583.7,352.0 583.6,353.0 583.6,354.0 583.6,355.0 583.5,356.0 583.5,357.0 583.5,357.9 583.5,358.5 583.5,359.5 583.4,360.5 583.4,361.5 583.4,362.5 583.4,363.5 583.4,364.5 583.4,365.5 583.3,366.5 583.3,367.5 583.3,368.5 583.3,369.5 583.3,370.5 583.3,371.5 583.3,372.5 583.3,373.5 583.3,374.5 583.2,375.5 583.2,376.5 583.2,377.5 583.2,378.5 583.2,379.5 583.2,380.5 583.2,381.5 583.2,382.5 583.2,383.5 583.3,384.5 583.3,385.5 583.3,386.5 583.3,387.5 583.3,388.5 583.3,389.5 583.3,390.5 583.3,391.5 583.3,392.5 583.3,393.5 583.4,394.5 583.4,395.5 583.4,396.5 583.4,397.5 583.4,398.5 583.5,399.5 583.5,400.5 583.5,401.0 583.5,402.0 583.6,403.0 583.6,404.0 583.6,405.0 583.6,406.0 583.7,407.0 583.7,408.0 583.7,409.0 583.8,410.0 583.8,411.0 583.8,412.0 583.9,413.0 583.9,413.5" fill="none" stroke="#00827f" stroke-opacity="0.58" stroke-width="1" shape-rendering="crispEdges"/>
<path d="M614.9,240.5 614.8,241.5 614.7,242.5 614.5,243.5 614.5,244.0 614.3,245.0 614.2,246.0 614.1,247.0 614.0,247.6 613.9,248.5 613.8,249.5 613.6,250.5 613.5,251.5 613.5,252.0 613.3,253.0 613.2,254.0 613.1,255.0 613.0,255.7 612.9,256.5 612.8,257.5 612.7,258.5 612.6,259.5 612.5,260.0 612.4,261.0 612.3,262.0 612.2,263.0 612.1,264.0 612.0,264.5 611.9,265.5 611.8,266.5 611.7,267.5 611.6,268.5 611.5,269.1 611.4,270.0 611.3,271.0 611.2,272.0 611.1,273.0 611.0,273.9 610.9,274.5 610.8,275.5 610.7,276.5 610.6,277.5 610.6,278.5 610.5,279.0 610.4,280.0 610.3,281.0 610.2,282.0 610.1,283.0 610.0,284.0 610.0,284.5 609.9,285.5 609.8,286.5 609.7,287.5 609.6,288.5 609.6,289.5 609.5,290.1 609.4,291.0 609.3,292.0 609.3,293.0 609.2,294.0 609.1,295.0 609.0,296.0 609.0,296.5 608.9,297.5 608.8,298.5 608.8,299.5 608.7,300.5 608.6,301.5 608.5,302.5 608.5,303.0 608.4,304.0 608.4,305.0 608.3,306.0 608.2,307.0 608.2,308.0 608.1,309.0 608.0,310.0 608.0,310.5 607.9,311.5 607.9,312.5 607.8,313.5 607.7,314.5 607.7,315.5 607.6,316.5 607.6,317.5 607.5,318.5 607.5,319.0 607.4,320.0 607.4,321.0 607.3,322.0 607.3,323.0 607.2,324.0 607.2,325.0 607.1,326.0 607.1,327.0 607.0,328.0 607.0,329.0 607.0,329.5 606.9,330.5 606.9,331.5 606.9,332.5 606.8,333.5 606.8,334.5 606.7,335.5 606.7,336.5 606.7,337.5 606.6,338.5 606.6,339.5 606.6,340.5 606.5,341.5 606.5,342.5 606.5,343.0 606.5,344.0 606.4,345.0 606.4,346.0 606.4,347.0 606.4,348.0 606.3,349.0 606.3,350.0 606.3,351.0 606.3,352.0 606.3,353.0 606.2,354.0 606.2,355.0 606.2,356.0 606.2,357.0 606.2,358.0 606.2,359.0 606.2,360.0 606.2,361.0 606.2,362.0 606.1,363.0 606.1,364.0 606.1,365.0 606.1,366.0 606.1,367.0 606.1,368.0 606.1,369.0 606.1,370.0 606.1,371.0 606.1,372.0 606.1,373.0 606.1,374.0 606.2,375.0 606.2,376.0 606.2,377.0 606.2,378.0 606.2,379.0 606.2,380.0 606.2,381.0 606.2,382.0 606.3,383.0 606.3,384.0 606.3,385.0 606.3,386.0 606.3,387.0 606.4,388.0 606.4,389.0 606.4,390.0 606.4,391.0 606.5,392.0 606.5,393.0 606.5,393.5 606.5,394.5 606.6,395.5 606.6,396.5 606.6,397.5 606.7,398.5 606.7,399.5 606.7,400.5 606.8,401.5 606.8,402.5 606.9,403.5 606.9,404.5 606.9,405.5 607.0,406.5 607.0,407.0 607.1,408.0 607.1,409.0 607.2,410.0 607.2,411.0 607.3,412.0 607.3,413.0 607.3,413.5" fill="none" stroke="#00827f" stroke-opacity="0.58" stroke-width="1" shape-rendering="crispEdges"/>
<path d="M640.3,240.5 640.2,241.5 640.1,242.5 640.0,243.2 639.9,244.0 639.8,245.0 639.7,246.0 639.5,247.0 639.5,247.5 639.4,248.5 639.3,249.5 639.1,250.5 639.0,251.5 639.0,252.0 638.9,253.0 638.7,254.0 638.6,255.0 638.5,256.0 638.5,256.5 638.4,257.5 638.3,258.5 638.2,259.5 638.0,260.5 638.0,261.0 637.9,262.0 637.8,263.0 637.7,264.0 637.6,265.0 637.5,265.9 637.4,266.5 637.3,267.5 637.3,268.5 637.2,269.5 637.1,270.5 637.0,271.2 636.9,272.0 636.8,273.0 636.7,274.0 636.7,275.0 636.6,276.0 636.5,276.7 636.4,277.5 636.3,278.5 636.3,279.5 636.2,280.5 636.1,281.5 636.0,282.5 636.0,283.0 635.9,284.0 635.8,285.0 635.7,286.0 635.7,287.0 635.6,288.0 635.5,289.0 635.5,289.5 635.4,290.5 635.3,291.5 635.3,292.5 635.2,293.5 635.1,294.5 635.1,295.5 635.0,296.3 635.0,297.0 634.9,298.0 634.8,299.0 634.8,300.0 634.7,301.0 634.6,302.0 634.6,303.0 634.5,304.0 634.5,304.5 634.4,305.5 634.4,306.5 634.3,307.5 634.3,308.5 634.2,309.5 634.2,310.5 634.1,311.5 634.1,312.5 634.0,313.5 634.0,314.0 634.0,315.0 633.9,316.0 633.9,317.0 633.8,318.0 633.8,319.0 633.7,320.0 633.7,321.0 633.7,322.0 633.6,323.0 633.6,324.0 633.5,325.0 633.5,326.0 633.5,326.5 633.5,327.5 633.4,328.5 633.4,329.5 633.4,330.5 633.3,331.5 633.3,332.5 633.3,333.5 633.3,334.5 633.2,335.5 633.2,336.5 633.2,337.5 633.2,338.5 633.2,339.5 633.1,340.5 633.1,341.5 633.1,342.5 633.1,343.5 633.1,344.5 633.1,345.5 633.1,346.5 633.1,347.5 633.0,348.5 633.0,349.5 633.0,350.5 633.0,351.5 633.0,352.5 633.0,353.5 633.0,354.5 633.0,355.5 633.0,356.5 633.0,357.5 633.0,358.5 633.0,359.5 633.0,360.5 633.0,361.5 633.1,362.5 633.1,363.5 633.1,364.5 633.1,365.5 633.1,366.5 633.1,367.5 633.1,368.5 633.1,369.5 633.2,370.5 633.2,371.5 633.2,372.5 633.2,373.5 633.2,374.5 633.3,375.5 633.3,376.5 633.3,377.5 633.4,378.5 633.4,379.5 633.4,380.5 633.4,381.5 633.5,382.5 633.5,383.3 633.5,384.0 633.6,385.0 633.6,386.0 633.6,387.0 633.7,388.0 633.7,389.0 633.8,390.0 633.8,391.0 633.8,392.0 633.9,393.0 633.9,394.0 634.0,395.0 634.0,395.5 634.1,396.5 634.1,397.5 634.2,398.5 634.2,399.5 634.3,400.5 634.3,401.5 634.4,402.5 634.4,403.5 634.5,404.4 634.5,405.0 634.6,406.0 634.7,407.0 634.7,408.0 634.8,409.0 634.9,410.0 634.9,411.0 635.0,412.0 635.0,412.5 635.1,413.5 635.1,413.5" fill="none" stroke="#00827f" stroke-opacity="0.58" stroke-width="1" shape-rendering="crispEdges"/>
<path d="M662.4,240.5 662.3,241.5 662.1,242.5 662.0,243.5 662.0,244.0 661.9,245.0 661.8,246.0 661.6,247.0 661.5,248.0 661.5,248.5 661.4,249.5 661.3,250.5 661.2,251.5 661.1,252.5 661.0,253.2 660.9,254.0 660.8,255.0 660.7,256.0 660.6,257.0 660.5,258.0 660.5,258.5 660.4,259.5 660.3,260.5 660.2,261.5 660.1,262.5 660.0,263.5 660.0,264.0 659.9,265.0 659.8,266.0 659.7,267.0 659.6,268.0 659.5,269.0 659.5,269.5 659.4,270.5 659.3,271.5 659.2,272.5 659.1,273.5 659.1,274.5 659.0,275.4 658.9,276.0 658.9,277.0 658.8,278.0 658.7,279.0 658.6,280.0 658.6,281.0 658.5,282.0 658.5,282.5 658.4,283.5 658.3,284.5 658.3,285.5 658.2,286.5 658.1,287.5 658.1,288.5 658.0,289.5 658.0,290.0 657.9,291.0 657.8,292.0 657.8,293.0 657.7,294.0 657.7,295.0 657.6,296.0 657.6,297.0 657.5,298.0 657.5,298.5 657.4,299.5 657.4,300.5 657.3,301.5 657.3,302.5 657.2,303.5 657.2,304.5 657.1,305.5 657.1,306.5 657.1,307.5 657.0,308.5 657.0,309.0 657.0,310.0 656.9,311.0 656.9,312.0 656.8,313.0 656.8,314.0 656.8,315.0 656.7,316.0 656.7,317.0 656.7,318.0 656.6,319.0 656.6,320.0 656.6,321.0 656.6,322.0 656.5,323.0 656.5,324.0 656.5,324.5 656.5,325.5 656.5,326.5 656.4,327.5 656.4,328.5 656.4,329.5 656.4,330.5 656.4,331.5 656.4,332.5 656.3,333.5 656.3,334.5 656.3,335.5 656.3,336.5 656.3,337.5 656.3,338.5 656.3,339.5 656.3,340.5 656.3,341.5 656.3,342.5 656.3,343.5 656.3,344.5 656.3,345.5 656.3,346.5 656.3,347.5 656.3,348.5 656.3,349.5 656.3,350.5 656.3,351.5 656.3,352.5 656.3,353.5 656.4,354.5 656.4,355.5 656.4,356.5 656.4,357.5 656.4,358.5 656.4,359.5 656.5,360.5 656.5,361.5 656.5,362.5 656.5,363.0 656.5,364.0 656.6,365.0 656.6,366.0 656.6,367.0 656.6,368.0 656.7,369.0 656.7,370.0 656.7,371.0 656.8,372.0 656.8,373.0 656.8,374.0 656.9,375.0 656.9,376.0 657.0,377.0 657.0,377.8 657.0,378.5 657.1,379.5 657.1,380.5 657.2,381.5 657.2,382.5 657.3,383.5 657.3,384.5 657.4,385.5 657.4,386.5 657.5,387.5 657.5,388.0 657.6,389.0 657.6,390.0 657.7,391.0 657.7,392.0 657.8,393.0 657.9,394.0 657.9,395.0 658.0,396.0 658.0,396.5 658.1,397.5 658.2,398.5 658.2,399.5 658.3,400.5 658.4,401.5 658.5,402.5 658.5,403.1 658.6,404.0 658.6,405.0 658.7,406.0 658.8,407.0 658.9,408.0 659.0,409.0 659.0,409.5 659.1,410.5 659.2,411.5 659.3,412.5 659.4,413.5 659.4,413.5" fill="none" stroke="#00827f" stroke-opacity="0.58" stroke-width="1" shape-rendering="crispEdges"/>
<path d="M675.1,240.5 675.0,241.5 675.0,242.0 674.9,243.0 674.7,244.0 674.6,245.0 674.5,246.0 674.5,246.5 674.4,247.5 674.3,248.5 674.2,249.5 674.1,250.5 674.0,251.3 673.9,252.0 673.8,253.0 673.7,254.0 673.6,255.0 673.5,256.0 673.5,256.5 673.4,257.5 673.3,258.5 673.2,259.5 673.1,260.5 673.1,261.5 673.0,262.1 672.9,263.0 672.8,264.0 672.8,265.0 672.7,266.0 672.6,267.0 672.5,268.0 672.5,268.5 672.4,269.5 672.3,270.5 672.2,271.5 672.2,272.5 672.1,273.5 672.0,274.5 672.0,275.0 671.9,276.0 671.8,277.0 671.8,278.0 671.7,279.0 671.6,280.0 671.6,281.0 671.5,281.9 671.5,282.5 671.4,283.5 671.3,284.5 671.3,285.5 671.2,286.5 671.2,287.5 671.1,288.5 671.0,289.5 671.0,290.2 671.0,291.0 670.9,292.0 670.9,293.0 670.8,294.0 670.8,295.0 670.7,296.0 670.7,297.0 670.6,298.0 670.6,299.0 670.5,300.0 670.5,300.5 670.5,301.5 670.4,302.5 670.4,303.5 670.3,304.5 670.3,305.5 670.3,306.5 670.2,307.5 670.2,308.5 670.1,309.5 670.1,310.5 670.1,311.5 670.1,312.5 670.0,313.5 670.0,314.4 670.0,315.0 670.0,316.0 669.9,317.0 669.9,318.0 669.9,319.0 669.9,320.0 669.8,321.0 669.8,322.0 669.8,323.0 669.8,324.0 669.8,325.0 669.8,326.0 669.8,327.0 669.7,328.0 669.7,329.0 669.7,330.0 669.7,331.0 669.7,332.0 669.7,333.0 669.7,334.0 669.7,335.0 669.7,336.0 669.7,337.0 669.7,338.0 669.7,339.0 669.7,340.0 669.7,341.0 669.7,342.0 669.7,343.0 669.7,344.0 669.7,345.0 669.7,346.0 669.7,347.0 669.8,348.0 669.8,349.0 669.8,350.0 669.8,351.0 669.8,352.0 669.8,353.0 669.9,354.0 669.9,355.0 669.9,356.0 669.9,357.0 670.0,358.0 670.0,359.0 670.0,359.5 670.0,360.5 670.1,361.5 670.1,362.5 670.1,363.5 670.2,364.5 670.2,365.5 670.2,366.5 670.3,367.5 670.3,368.5 670.3,369.5 670.4,370.5 670.4,371.5 670.5,372.5 670.5,373.0 670.5,374.0 670.6,375.0 670.6,376.0 670.7,377.0 670.7,378.0 670.8,379.0 670.9,380.0 670.9,381.0 671.0,382.0 671.0,382.6 671.1,383.5 671.1,384.5 671.2,385.5 671.2,386.5 671.3,387.5 671.4,388.5 671.4,389.5 671.5,390.5 671.5,391.0 671.6,392.0 671.7,393.0 671.8,394.0 671.8,395.0 671.9,396.0 672.0,397.0 672.0,397.5 672.1,398.5 672.2,399.5 672.3,400.5 672.3,401.5 672.4,402.5 672.5,403.3 672.6,404.0 672.7,405.0 672.7,406.0 672.8,407.0 672.9,408.0 673.0,408.8 673.1,409.5 673.2,410.5 673.3,411.5 673.4,412.5 673.5,413.5 673.5,413.5" fill="none" stroke="#00827f" stroke-opacity="0.58" stroke-width="1" shape-rendering="crispEdges"/>
<rect x="504.8" y="259.6" width="19.9" height="6" fill="#f0f8fa" stroke="#3a9e9a" stroke-width="0.9"/>
<text class="cl" x="514.8" y="264.3" text-anchor="middle">6.88333</text>
<rect x="535.5" y="317.6" width="19.9" height="6" fill="#f0f8fa" stroke="#3a9e9a" stroke-width="0.9"/>
<text class="cl" x="545.5" y="322.3" text-anchor="middle">5.06167</text>
<rect x="574.0" y="318.5" width="19.9" height="6" fill="#f0f8fa" stroke="#3a9e9a" stroke-width="0.9"/>
<text class="cl" x="584.0" y="323.2" text-anchor="middle">3.39648</text>
<rect x="598.2" y="316.3" width="17.6" height="6" fill="#f0f8fa" stroke="#3a9e9a" stroke-width="0.9"/>
<text class="cl" x="607.0" y="321.0" text-anchor="middle">2.4742</text>
<rect x="622.5" y="319.0" width="19.9" height="6" fill="#f0f8fa" stroke="#3a9e9a" stroke-width="0.9"/>
<text class="cl" x="632.5" y="323.7" text-anchor="middle">1.41833</text>
<rect x="644.9" y="318.3" width="22.3" height="6" fill="#f0f8fa" stroke="#3a9e9a" stroke-width="0.9"/>
<text class="cl" x="656.0" y="323.0" text-anchor="middle">0.529415</text>
<rect x="505.5" y="240.5" width="170.0" height="173.0" fill="none" stroke="#5a5a5a" stroke-opacity="0.85" stroke-width="1"/>
<line x1="505.5" y1="413.5" x2="505.5" y2="417.5" stroke="#5a5a5a" stroke-opacity="0.85" stroke-width="1"/>
<text class="t" x="505.5" y="423.0" text-anchor="middle">6.00</text>
<line x1="548.0" y1="413.5" x2="548.0" y2="417.5" stroke="#5a5a5a" stroke-opacity="0.85" stroke-width="1"/>
<text class="t" x="548.0" y="423.0" text-anchor="middle">7.00</text>
<line x1="590.5" y1="413.5" x2="590.5" y2="417.5" stroke="#5a5a5a" stroke-opacity="0.85" stroke-width="1"/>
<text class="t" x="590.5" y="423.0" text-anchor="middle">8.00</text>
<line x1="633.0" y1="413.5" x2="633.0" y2="417.5" stroke="#5a5a5a" stroke-opacity="0.85" stroke-width="1"/>
<text class="t" x="633.0" y="423.0" text-anchor="middle">9.00</text>
<line x1="675.5" y1="413.5" x2="675.5" y2="417.5" stroke="#5a5a5a" stroke-opacity="0.85" stroke-width="1"/>
<text class="t" x="675.5" y="423.0" text-anchor="middle">10.00</text>
<line x1="501.0" y1="413.5" x2="505.5" y2="413.5" stroke="#5a5a5a" stroke-opacity="0.85" stroke-width="1"/>
<text class="ty" x="500.0" y="415.2" text-anchor="end">10.00</text>
<line x1="501.0" y1="370.2" x2="505.5" y2="370.2" stroke="#5a5a5a" stroke-opacity="0.85" stroke-width="1"/>
<text class="ty" x="500.0" y="371.9" text-anchor="end">20.00</text>
<line x1="501.0" y1="327.0" x2="505.5" y2="327.0" stroke="#5a5a5a" stroke-opacity="0.85" stroke-width="1"/>
<text class="ty" x="500.0" y="328.7" text-anchor="end">30.00</text>
<line x1="501.0" y1="283.8" x2="505.5" y2="283.8" stroke="#5a5a5a" stroke-opacity="0.85" stroke-width="1"/>
<text class="ty" x="500.0" y="285.4" text-anchor="end">40.00</text>
<line x1="501.0" y1="240.5" x2="505.5" y2="240.5" stroke="#5a5a5a" stroke-opacity="0.85" stroke-width="1"/>
<text class="ty" x="500.0" y="242.2" text-anchor="end">50.00</text>
<circle cx="590.5" cy="240.5" r="1.5" fill="#5ee01a" stroke="#2a6a10" stroke-width="0.6"/>
<circle cx="590.5" cy="413.5" r="1.5" fill="#5ee01a" stroke="#2a6a10" stroke-width="0.6"/>
<circle cx="505.5" cy="327.0" r="1.5" fill="#5ee01a" stroke="#2a6a10" stroke-width="0.6"/>
<circle cx="675.5" cy="327.0" r="1.5" fill="#5ee01a" stroke="#2a6a10" stroke-width="0.6"/>
<circle cx="590.5" cy="327.0" r="1.5" fill="#5ee01a" stroke="#2a6a10" stroke-width="0.6"/>
<text x="584.5" y="328.8" style="font-family:Liberation Sans,sans-serif;font-size:5.5px;font-weight:bold;fill:#3a1a00">6</text>
<circle cx="588.0" cy="327.0" r="1.5" fill="#3a1a00"/>
<text class="tm" x="587.2" y="237.7" text-anchor="end">Mean: 3</text>
<text class="tm" x="593.3" y="237.7">Ted</text>
<text class="lb" x="471.7" y="250.3">F.</text>
<text class="ti" x="582.0" y="443.5" textLength="16.0" lengthAdjust="spacingAndGlyphs">pH</text>
<text class="ti" transform="translate(481.9,394.5) rotate(-90)" textLength="122.9" lengthAdjust="spacingAndGlyphs">Bacterial Concentration</text>
<path d="M24.3,327.4 L26.9,325.9 L26.9,328.9 Z" fill="#222"/>
</svg>
</body></html>
